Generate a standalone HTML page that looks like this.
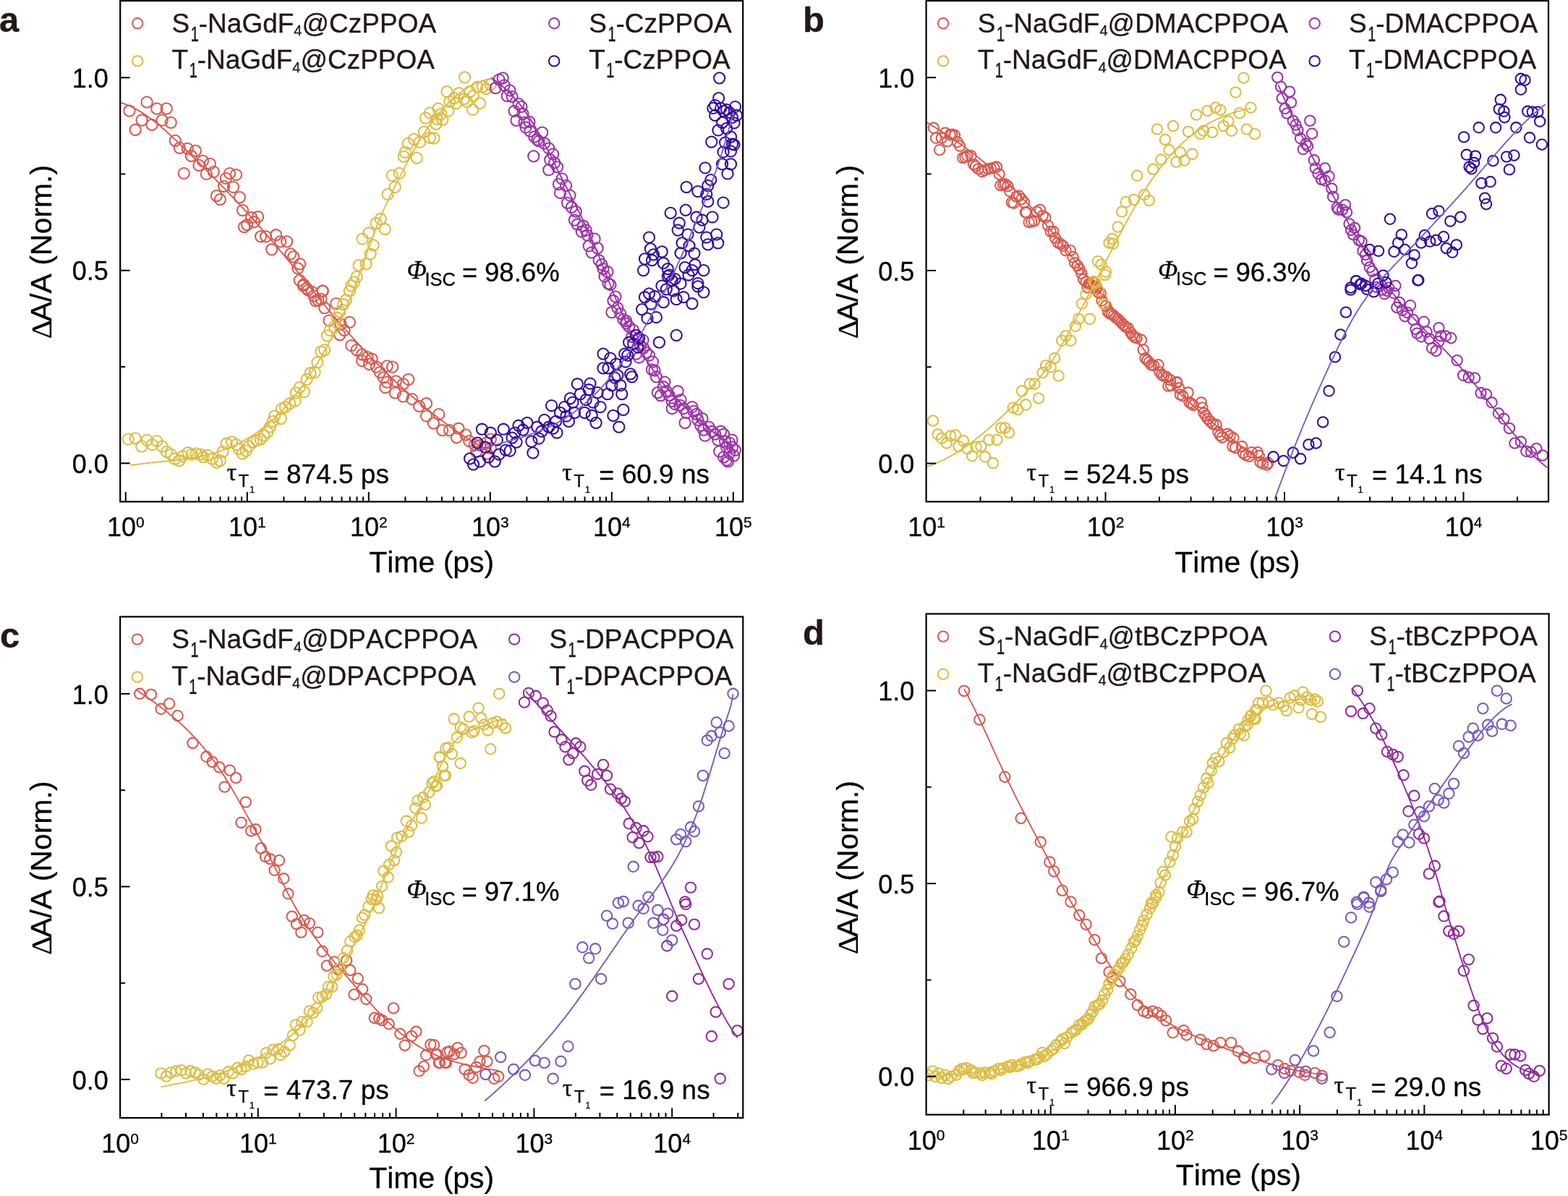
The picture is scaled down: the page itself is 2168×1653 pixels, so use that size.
<!DOCTYPE html><html><head><meta charset="utf-8"><style>html,body{margin:0;padding:0;background:#fff;overflow:hidden}svg{display:block;font-kerning:none}text{stroke:#161010;stroke-width:0.3px}</style></head><body>
<svg xmlns="http://www.w3.org/2000/svg" width="2168" height="1653" viewBox="0 0 2168 1653" style="font-family:&quot;Liberation Sans&quot;,Arial,sans-serif">
<rect width="2168" height="1653" fill="#fff"/>
<g clip-path="url(#clipa)">
<clipPath id="clipa"><rect x="166.2" y="1.1" width="861.0" height="692.3"/></clipPath>
<g stroke="#D65B50" stroke-width="2.05" fill="none">
<circle cx="179.0" cy="153.2" r="7.6"/>
<circle cx="187.1" cy="179.3" r="7.6"/>
<circle cx="196.1" cy="166.2" r="7.6"/>
<circle cx="203.1" cy="141.2" r="7.6"/>
<circle cx="210.1" cy="172.3" r="7.6"/>
<circle cx="216.8" cy="150.2" r="7.6"/>
<circle cx="224.2" cy="166.2" r="7.6"/>
<circle cx="230.2" cy="150.2" r="7.6"/>
<circle cx="236.2" cy="169.3" r="7.6"/>
<circle cx="242.2" cy="194.3" r="7.6"/>
<circle cx="248.3" cy="204.4" r="7.6"/>
<circle cx="259.3" cy="205.4" r="7.6"/>
<circle cx="264.3" cy="215.4" r="7.6"/>
<circle cx="270.3" cy="208.4" r="7.6"/>
<circle cx="275.0" cy="228.4" r="7.6"/>
<circle cx="280.4" cy="222.4" r="7.6"/>
<circle cx="285.4" cy="240.5" r="7.6"/>
<circle cx="290.4" cy="226.4" r="7.6"/>
<circle cx="295.4" cy="237.5" r="7.6"/>
<circle cx="254.3" cy="239.5" r="7.6"/>
<circle cx="309.5" cy="257.5" r="7.6"/>
<circle cx="312.5" cy="246.5" r="7.6"/>
<circle cx="317.5" cy="239.5" r="7.6"/>
<circle cx="326.5" cy="241.5" r="7.6"/>
<circle cx="322.5" cy="258.5" r="7.6"/>
<circle cx="299.4" cy="270.6" r="7.6"/>
<circle cx="304.4" cy="275.6" r="7.6"/>
<circle cx="331.5" cy="272.6" r="7.6"/>
<circle cx="335.5" cy="290.6" r="7.6"/>
<circle cx="347.6" cy="300.7" r="7.6"/>
<circle cx="356.6" cy="299.7" r="7.6"/>
<circle cx="337.5" cy="313.7" r="7.6"/>
<circle cx="341.6" cy="310.7" r="7.6"/>
<circle cx="351.6" cy="306.7" r="7.6"/>
<circle cx="360.6" cy="326.8" r="7.6"/>
<circle cx="367.6" cy="326.8" r="7.6"/>
<circle cx="375.7" cy="344.8" r="7.6"/>
<circle cx="381.7" cy="324.7" r="7.6"/>
<circle cx="387.7" cy="333.8" r="7.6"/>
<circle cx="396.7" cy="333.8" r="7.6"/>
<circle cx="401.8" cy="350.8" r="7.6"/>
<circle cx="405.8" cy="354.8" r="7.6"/>
<circle cx="414.8" cy="364.9" r="7.6"/>
<circle cx="411.8" cy="370.9" r="7.6"/>
<circle cx="419.8" cy="393.0" r="7.6"/>
<circle cx="425.8" cy="401.0" r="7.6"/>
<circle cx="433.9" cy="409.0" r="7.6"/>
<circle cx="445.9" cy="402.0" r="7.6"/>
<circle cx="439.9" cy="415.0" r="7.6"/>
<circle cx="414.3" cy="387.4" r="7.6"/>
<circle cx="419.2" cy="394.8" r="7.6"/>
<circle cx="424.1" cy="398.5" r="7.6"/>
<circle cx="431.5" cy="403.4" r="7.6"/>
<circle cx="446.3" cy="402.2" r="7.6"/>
<circle cx="436.5" cy="415.8" r="7.6"/>
<circle cx="443.9" cy="413.3" r="7.6"/>
<circle cx="448.8" cy="425.7" r="7.6"/>
<circle cx="464.8" cy="419.5" r="7.6"/>
<circle cx="455.0" cy="443.0" r="7.6"/>
<circle cx="471.0" cy="447.9" r="7.6"/>
<circle cx="483.4" cy="445.4" r="7.6"/>
<circle cx="469.8" cy="462.7" r="7.6"/>
<circle cx="476.0" cy="456.5" r="7.6"/>
<circle cx="485.8" cy="477.5" r="7.6"/>
<circle cx="493.2" cy="483.6" r="7.6"/>
<circle cx="500.6" cy="489.8" r="7.6"/>
<circle cx="508.0" cy="493.5" r="7.6"/>
<circle cx="514.2" cy="496.0" r="7.6"/>
<circle cx="500.6" cy="498.5" r="7.6"/>
<circle cx="510.5" cy="503.4" r="7.6"/>
<circle cx="520.4" cy="507.1" r="7.6"/>
<circle cx="525.3" cy="514.5" r="7.6"/>
<circle cx="535.2" cy="505.9" r="7.6"/>
<circle cx="542.6" cy="507.1" r="7.6"/>
<circle cx="530.3" cy="521.9" r="7.6"/>
<circle cx="535.2" cy="528.1" r="7.6"/>
<circle cx="547.5" cy="526.8" r="7.6"/>
<circle cx="557.4" cy="530.5" r="7.6"/>
<circle cx="564.8" cy="524.4" r="7.6"/>
<circle cx="532.7" cy="535.5" r="7.6"/>
<circle cx="546.3" cy="542.9" r="7.6"/>
<circle cx="557.4" cy="547.8" r="7.6"/>
<circle cx="569.7" cy="551.5" r="7.6"/>
<circle cx="579.6" cy="561.4" r="7.6"/>
<circle cx="589.5" cy="557.7" r="7.6"/>
<circle cx="589.5" cy="575.0" r="7.6"/>
<circle cx="599.4" cy="584.8" r="7.6"/>
<circle cx="606.8" cy="572.5" r="7.6"/>
<circle cx="611.7" cy="594.7" r="7.6"/>
<circle cx="621.6" cy="594.7" r="7.6"/>
<circle cx="631.4" cy="604.6" r="7.6"/>
<circle cx="633.9" cy="592.2" r="7.6"/>
<circle cx="643.8" cy="600.9" r="7.6"/>
<circle cx="648.7" cy="609.5" r="7.6"/>
<circle cx="656.1" cy="614.5" r="7.6"/>
<circle cx="663.5" cy="615.7" r="7.6"/>
<circle cx="672.2" cy="612.0" r="7.6"/>
<circle cx="678.3" cy="607.1" r="7.6"/>
<circle cx="658.6" cy="624.3" r="7.6"/>
<circle cx="673.4" cy="626.8" r="7.6"/>
<circle cx="678.3" cy="619.4" r="7.6"/>
</g>
<path d="M167.0,141.9 L169.0,142.5 L171.0,143.2 L173.0,143.9 L175.0,144.6 L177.0,145.5 L179.0,146.3 L181.0,147.2 L183.0,148.2 L185.0,149.2 L187.0,150.2 L189.0,151.3 L191.0,152.4 L193.0,153.6 L195.0,154.8 L197.0,156.1 L199.0,157.4 L201.0,158.7 L203.0,160.1 L205.0,161.5 L207.0,162.9 L209.0,164.4 L211.0,165.9 L213.0,167.5 L215.0,169.0 L217.0,170.6 L219.0,172.3 L221.0,173.9 L223.0,175.6 L225.0,177.3 L227.0,179.0 L229.0,180.8 L231.0,182.6 L233.0,184.4 L235.0,186.2 L237.0,188.0 L239.0,189.9 L241.0,191.7 L243.0,193.6 L245.0,195.5 L247.0,197.4 L249.0,199.3 L251.0,201.3 L253.0,203.2 L255.0,205.1 L257.0,207.1 L259.0,209.1 L261.0,211.0 L263.0,213.0 L265.0,215.0 L267.0,217.0 L269.0,218.9 L271.0,220.9 L273.0,222.9 L275.0,224.9 L277.0,226.9 L279.0,228.9 L281.0,230.9 L283.0,232.9 L285.0,234.9 L287.0,236.9 L289.0,238.9 L291.0,240.9 L293.0,242.9 L295.0,244.9 L297.0,247.0 L299.0,249.0 L301.0,251.0 L303.0,253.1 L305.0,255.1 L307.0,257.2 L309.0,259.2 L311.0,261.3 L313.0,263.4 L315.0,265.5 L317.0,267.6 L319.0,269.6 L321.0,271.7 L323.0,273.9 L325.0,276.0 L327.0,278.1 L329.0,280.2 L331.0,282.4 L333.0,284.5 L335.0,286.7 L337.0,288.8 L339.0,291.0 L341.0,293.2 L343.0,295.4 L345.0,297.6 L347.0,299.8 L349.0,302.0 L351.0,304.3 L353.0,306.5 L355.0,308.8 L357.0,311.0 L359.0,313.3 L361.0,315.6 L363.0,317.9 L365.0,320.2 L367.0,322.5 L369.0,324.8 L371.0,327.1 L373.0,329.4 L375.0,331.8 L377.0,334.1 L379.0,336.5 L381.0,338.8 L383.0,341.2 L385.0,343.6 L387.0,346.0 L389.0,348.3 L391.0,350.7 L393.0,353.2 L395.0,355.6 L397.0,358.0 L399.0,360.4 L401.0,362.9 L403.0,365.3 L405.0,367.7 L407.0,370.2 L409.0,372.7 L411.0,375.1 L413.0,377.6 L415.0,380.1 L417.0,382.6 L419.0,385.0 L421.0,387.5 L423.0,390.0 L425.0,392.5 L427.0,395.0 L429.0,397.5 L431.0,400.0 L433.0,402.5 L435.0,405.0 L437.0,407.5 L439.0,410.0 L441.0,412.4 L443.0,414.9 L445.0,417.3 L447.0,419.7 L449.0,422.2 L451.0,424.6 L453.0,427.0 L455.0,429.3 L457.0,431.7 L459.0,434.1 L461.0,436.4 L463.0,438.8 L465.0,441.1 L467.0,443.4 L469.0,445.7 L471.0,448.0 L473.0,450.3 L475.0,452.6 L477.0,454.9 L479.0,457.1 L481.0,459.4 L483.0,461.6 L485.0,463.8 L487.0,466.1 L489.0,468.3 L491.0,470.5 L493.0,472.6 L495.0,474.8 L497.0,477.0 L499.0,479.1 L501.0,481.3 L503.0,483.4 L505.0,485.5 L507.0,487.6 L509.0,489.7 L511.0,491.8 L513.0,493.9 L515.0,495.9 L517.0,498.0 L519.0,500.0 L521.0,502.0 L523.0,504.1 L525.0,506.1 L527.0,508.1 L529.0,510.0 L531.0,512.0 L533.0,514.0 L535.0,515.9 L537.0,517.9 L539.0,519.8 L541.0,521.7 L543.0,523.6 L545.0,525.5 L547.0,527.4 L549.0,529.2 L551.0,531.1 L553.0,532.9 L555.0,534.8 L557.0,536.6 L559.0,538.4 L561.0,540.2 L563.0,542.0 L565.0,543.8 L567.0,545.5 L569.0,547.3 L571.0,549.0 L573.0,550.8 L575.0,552.5 L577.0,554.2 L579.0,555.9 L581.0,557.6 L583.0,559.2 L585.0,560.9 L587.0,562.5 L589.0,564.2 L591.0,565.8 L593.0,567.4 L595.0,569.0 L597.0,570.6 L599.0,572.1 L601.0,573.7 L603.0,575.3 L605.0,576.8 L607.0,578.3 L609.0,579.8 L611.0,581.3 L613.0,582.8 L615.0,584.3 L617.0,585.8 L619.0,587.2 L621.0,588.7 L623.0,590.1 L625.0,591.5 L627.0,592.9 L629.0,594.3 L631.0,595.7 L633.0,597.0 L635.0,598.4 L637.0,599.7 L639.0,601.1 L641.0,602.4 L643.0,603.7 L645.0,605.0 L647.0,606.2 L649.0,607.5 L651.0,608.8 L653.0,610.0 L655.0,611.2 L657.0,612.4 L659.0,613.6 L661.0,614.8 L663.0,616.0 L665.0,617.2 L667.0,618.3 L669.0,619.4 L671.0,620.6 L673.0,621.7 L675.0,622.8 L676.0,623.3" stroke="#D65B50" stroke-width="1.9" fill="none"/>
<g stroke="#DDBC42" stroke-width="2.05" fill="none">
<circle cx="177.3" cy="607.0" r="7.6"/>
<circle cx="187.2" cy="605.8" r="7.6"/>
<circle cx="195.8" cy="616.9" r="7.6"/>
<circle cx="203.3" cy="608.3" r="7.6"/>
<circle cx="210.7" cy="614.5" r="7.6"/>
<circle cx="216.8" cy="609.5" r="7.6"/>
<circle cx="224.2" cy="616.9" r="7.6"/>
<circle cx="230.4" cy="624.3" r="7.6"/>
<circle cx="236.6" cy="628.0" r="7.6"/>
<circle cx="241.5" cy="634.2" r="7.6"/>
<circle cx="247.7" cy="636.7" r="7.6"/>
<circle cx="252.6" cy="630.5" r="7.6"/>
<circle cx="260.0" cy="625.6" r="7.6"/>
<circle cx="265.0" cy="628.0" r="7.6"/>
<circle cx="271.1" cy="626.8" r="7.6"/>
<circle cx="277.3" cy="628.0" r="7.6"/>
<circle cx="281.0" cy="631.7" r="7.6"/>
<circle cx="287.2" cy="629.3" r="7.6"/>
<circle cx="293.3" cy="634.2" r="7.6"/>
<circle cx="299.5" cy="639.1" r="7.6"/>
<circle cx="304.4" cy="636.7" r="7.6"/>
<circle cx="308.1" cy="624.3" r="7.6"/>
<circle cx="313.1" cy="613.2" r="7.6"/>
<circle cx="320.5" cy="610.8" r="7.6"/>
<circle cx="326.6" cy="614.5" r="7.6"/>
<circle cx="330.4" cy="620.6" r="7.6"/>
<circle cx="335.3" cy="626.8" r="7.6"/>
<circle cx="340.2" cy="623.1" r="7.6"/>
<circle cx="343.9" cy="616.9" r="7.6"/>
<circle cx="350.1" cy="610.8" r="7.6"/>
<circle cx="355.0" cy="608.3" r="7.6"/>
<circle cx="360.0" cy="607.1" r="7.6"/>
<circle cx="364.9" cy="602.1" r="7.6"/>
<circle cx="369.8" cy="597.2" r="7.6"/>
<circle cx="373.5" cy="589.8" r="7.6"/>
<circle cx="377.2" cy="582.4" r="7.6"/>
<circle cx="379.7" cy="575.0" r="7.6"/>
<circle cx="388.3" cy="578.7" r="7.6"/>
<circle cx="389.6" cy="565.1" r="7.6"/>
<circle cx="394.5" cy="562.6" r="7.6"/>
<circle cx="400.7" cy="557.7" r="7.6"/>
<circle cx="408.1" cy="554.0" r="7.6"/>
<circle cx="409.3" cy="542.9" r="7.6"/>
<circle cx="414.3" cy="535.5" r="7.6"/>
<circle cx="420.4" cy="541.6" r="7.6"/>
<circle cx="424.1" cy="524.4" r="7.6"/>
<circle cx="429.1" cy="515.7" r="7.6"/>
<circle cx="435.2" cy="514.5" r="7.6"/>
<circle cx="438.9" cy="500.9" r="7.6"/>
<circle cx="443.9" cy="486.1" r="7.6"/>
<circle cx="448.8" cy="483.6" r="7.6"/>
<circle cx="452.5" cy="463.9" r="7.6"/>
<circle cx="456.2" cy="456.5" r="7.6"/>
<circle cx="462.4" cy="451.6" r="7.6"/>
<circle cx="466.1" cy="439.2" r="7.6"/>
<circle cx="469.8" cy="430.6" r="7.6"/>
<circle cx="474.7" cy="420.7" r="7.6"/>
<circle cx="478.4" cy="414.6" r="7.6"/>
<circle cx="483.4" cy="402.2" r="7.6"/>
<circle cx="485.8" cy="394.8" r="7.6"/>
<circle cx="489.5" cy="389.9" r="7.6"/>
<circle cx="493.2" cy="382.5" r="7.6"/>
<circle cx="496.1" cy="366.9" r="7.6"/>
<circle cx="506.1" cy="364.9" r="7.6"/>
<circle cx="512.1" cy="350.8" r="7.6"/>
<circle cx="516.1" cy="338.8" r="7.6"/>
<circle cx="520.1" cy="308.7" r="7.6"/>
<circle cx="526.2" cy="302.7" r="7.6"/>
<circle cx="532.2" cy="316.7" r="7.6"/>
<circle cx="536.2" cy="268.6" r="7.6"/>
<circle cx="542.2" cy="242.5" r="7.6"/>
<circle cx="546.2" cy="258.5" r="7.6"/>
<circle cx="552.2" cy="239.5" r="7.6"/>
<circle cx="558.3" cy="216.4" r="7.6"/>
<circle cx="560.3" cy="210.4" r="7.6"/>
<circle cx="564.3" cy="198.3" r="7.6"/>
<circle cx="572.3" cy="192.3" r="7.6"/>
<circle cx="576.3" cy="218.4" r="7.6"/>
<circle cx="580.3" cy="196.3" r="7.6"/>
<circle cx="586.3" cy="182.3" r="7.6"/>
<circle cx="588.4" cy="163.2" r="7.6"/>
<circle cx="594.4" cy="190.3" r="7.6"/>
<circle cx="594.4" cy="156.2" r="7.6"/>
<circle cx="501.0" cy="330.0" r="7.6"/>
<circle cx="510.0" cy="322.0" r="7.6"/>
<circle cx="642.6" cy="106.9" r="7.6"/>
<circle cx="617.9" cy="126.7" r="7.6"/>
<circle cx="634.7" cy="128.7" r="7.6"/>
<circle cx="627.8" cy="135.6" r="7.6"/>
<circle cx="630.7" cy="142.6" r="7.6"/>
<circle cx="641.6" cy="136.6" r="7.6"/>
<circle cx="649.6" cy="126.7" r="7.6"/>
<circle cx="654.5" cy="132.6" r="7.6"/>
<circle cx="645.6" cy="140.6" r="7.6"/>
<circle cx="663.5" cy="142.6" r="7.6"/>
<circle cx="653.6" cy="151.5" r="7.6"/>
<circle cx="667.4" cy="119.8" r="7.6"/>
<circle cx="672.4" cy="122.7" r="7.6"/>
<circle cx="678.3" cy="116.8" r="7.6"/>
<circle cx="621.8" cy="140.6" r="7.6"/>
<circle cx="619.8" cy="153.5" r="7.6"/>
<circle cx="609.9" cy="157.4" r="7.6"/>
<circle cx="604.0" cy="164.4" r="7.6"/>
<circle cx="603.0" cy="171.3" r="7.6"/>
<circle cx="600.0" cy="191.2" r="7.6"/>
<circle cx="611.9" cy="165.4" r="7.6"/>
<circle cx="660.0" cy="120.0" r="7.6"/>
<circle cx="606.0" cy="150.0" r="7.6"/>
</g>
<path d="M180.0,643.1 L182.0,642.8 L184.0,642.5 L186.0,642.2 L188.0,641.9 L190.0,641.7 L192.0,641.4 L194.0,641.2 L196.0,640.9 L198.0,640.7 L200.0,640.5 L202.0,640.2 L204.0,640.0 L206.0,639.8 L208.0,639.6 L210.0,639.4 L212.0,639.2 L214.0,639.0 L216.0,638.8 L218.0,638.6 L220.0,638.4 L222.0,638.2 L224.0,638.0 L226.0,637.8 L228.0,637.6 L230.0,637.4 L232.0,637.1 L234.0,636.9 L236.0,636.7 L238.0,636.5 L240.0,636.3 L242.0,636.1 L244.0,635.8 L246.0,635.6 L248.0,635.3 L250.0,635.1 L252.0,634.8 L254.0,634.6 L256.0,634.3 L258.0,634.0 L260.0,633.7 L262.0,633.4 L264.0,633.1 L266.0,632.7 L268.0,632.4 L270.0,632.0 L272.0,631.7 L274.0,631.3 L276.0,630.9 L278.0,630.5 L280.0,630.0 L282.0,629.6 L284.0,629.1 L286.0,628.7 L288.0,628.2 L290.0,627.7 L292.0,627.1 L294.0,626.6 L296.0,626.0 L298.0,625.4 L300.0,624.8 L302.0,624.2 L304.0,623.5 L306.0,622.9 L308.0,622.2 L310.0,621.4 L312.0,620.7 L314.0,619.9 L316.0,619.1 L318.0,618.3 L320.0,617.5 L322.0,616.6 L324.0,615.7 L326.0,614.8 L328.0,613.8 L330.0,612.8 L332.0,611.8 L334.0,610.8 L336.0,609.7 L338.0,608.6 L340.0,607.5 L342.0,606.3 L344.0,605.1 L346.0,603.9 L348.0,602.6 L350.0,601.3 L352.0,600.0 L354.0,598.6 L356.0,597.2 L358.0,595.8 L360.0,594.3 L362.0,592.8 L364.0,591.2 L366.0,589.6 L368.0,588.0 L370.0,586.3 L372.0,584.6 L374.0,582.9 L376.0,581.1 L378.0,579.3 L380.0,577.4 L382.0,575.5 L384.0,573.5 L386.0,571.5 L388.0,569.5 L390.0,567.4 L392.0,565.2 L394.0,563.1 L396.0,560.8 L398.0,558.5 L400.0,556.2 L402.0,553.9 L404.0,551.4 L406.0,549.0 L408.0,546.5 L410.0,543.9 L412.0,541.3 L414.0,538.6 L416.0,535.9 L418.0,533.2 L420.0,530.4 L422.0,527.5 L424.0,524.6 L426.0,521.7 L428.0,518.7 L430.0,515.7 L432.0,512.6 L434.0,509.5 L436.0,506.3 L438.0,503.1 L440.0,499.8 L442.0,496.5 L444.0,493.1 L446.0,489.7 L448.0,486.2 L450.0,482.7 L452.0,479.2 L454.0,475.6 L456.0,471.9 L458.0,468.2 L460.0,464.4 L462.0,460.5 L464.0,456.6 L466.0,452.6 L468.0,448.5 L470.0,444.3 L472.0,440.1 L474.0,435.7 L476.0,431.3 L478.0,426.7 L480.0,422.1 L482.0,417.3 L484.0,412.5 L486.0,407.5 L488.0,402.4 L490.0,397.2 L492.0,391.9 L494.0,386.5 L496.0,381.1 L498.0,375.6 L500.0,370.0 L502.0,364.5 L504.0,358.9 L506.0,353.3 L508.0,347.7 L510.0,342.2 L512.0,336.7 L514.0,331.3 L516.0,325.9 L518.0,320.6 L520.0,315.4 L522.0,310.3 L524.0,305.3 L526.0,300.4 L528.0,295.7 L530.0,291.1 L532.0,286.7 L534.0,282.3 L536.0,278.1 L538.0,273.9 L540.0,269.8 L542.0,265.7 L544.0,261.7 L546.0,257.7 L548.0,253.7 L550.0,249.8 L552.0,245.9 L554.0,241.9 L556.0,238.1 L558.0,234.2 L560.0,230.4 L562.0,226.6 L564.0,222.9 L566.0,219.2 L568.0,215.5 L570.0,211.9 L572.0,208.3 L574.0,204.8 L576.0,201.4 L578.0,198.0 L580.0,194.6 L582.0,191.3 L584.0,188.1 L586.0,185.0 L588.0,181.9 L590.0,178.9 L592.0,176.0 L594.0,173.1 L596.0,170.3 L598.0,167.6 L600.0,165.0 L602.0,162.4 L604.0,159.9 L606.0,157.4 L608.0,155.0 L610.0,152.7 L612.0,150.5 L614.0,148.3 L616.0,146.1 L618.0,144.1 L620.0,142.1 L622.0,140.1 L624.0,138.3 L626.0,136.5 L628.0,134.7 L630.0,133.0 L632.0,131.4 L634.0,129.8 L636.0,128.3 L638.0,126.8 L640.0,125.4 L642.0,124.1 L644.0,122.8 L646.0,121.5 L648.0,120.3 L650.0,119.2 L652.0,118.1 L654.0,117.1 L656.0,116.1 L658.0,115.2 L660.0,114.3 L662.0,113.5 L664.0,112.8 L666.0,112.0 L668.0,111.4 L670.0,110.8 L672.0,110.2 L674.0,109.7 L676.0,109.2 L678.0,108.8 L680.0,108.4" stroke="#DDBC42" stroke-width="1.9" fill="none"/>
<g stroke="#9A35A8" stroke-width="2.05" fill="none">
<circle cx="695.2" cy="107.8" r="7.6"/>
<circle cx="697.2" cy="117.8" r="7.6"/>
<circle cx="685.3" cy="121.7" r="7.6"/>
<circle cx="701.2" cy="132.6" r="7.6"/>
<circle cx="708.1" cy="133.6" r="7.6"/>
<circle cx="717.0" cy="143.6" r="7.6"/>
<circle cx="721.0" cy="147.5" r="7.6"/>
<circle cx="711.1" cy="153.5" r="7.6"/>
<circle cx="723.0" cy="157.4" r="7.6"/>
<circle cx="714.0" cy="166.4" r="7.6"/>
<circle cx="725.0" cy="169.3" r="7.6"/>
<circle cx="731.9" cy="168.3" r="7.6"/>
<circle cx="732.9" cy="181.2" r="7.6"/>
<circle cx="738.8" cy="189.2" r="7.6"/>
<circle cx="749.7" cy="183.2" r="7.6"/>
<circle cx="742.8" cy="193.1" r="7.6"/>
<circle cx="752.7" cy="198.1" r="7.6"/>
<circle cx="758.7" cy="205.0" r="7.6"/>
<circle cx="764.6" cy="213.0" r="7.6"/>
<circle cx="760.7" cy="220.9" r="7.6"/>
<circle cx="766.6" cy="224.9" r="7.6"/>
<circle cx="770.6" cy="230.8" r="7.6"/>
<circle cx="758.7" cy="234.8" r="7.6"/>
<circle cx="737.8" cy="215.9" r="7.6"/>
<circle cx="772.5" cy="254.6" r="7.6"/>
<circle cx="782.5" cy="256.6" r="7.6"/>
<circle cx="774.5" cy="266.5" r="7.6"/>
<circle cx="784.5" cy="280.4" r="7.6"/>
<circle cx="790.4" cy="286.3" r="7.6"/>
<circle cx="796.3" cy="292.3" r="7.6"/>
<circle cx="794.4" cy="304.2" r="7.6"/>
<circle cx="798.3" cy="310.2" r="7.6"/>
<circle cx="806.3" cy="312.1" r="7.6"/>
<circle cx="810.2" cy="318.1" r="7.6"/>
<circle cx="804.3" cy="320.1" r="7.6"/>
<circle cx="822.1" cy="330.0" r="7.6"/>
<circle cx="814.2" cy="339.9" r="7.6"/>
<circle cx="826.1" cy="342.9" r="7.6"/>
<circle cx="818.2" cy="348.8" r="7.6"/>
<circle cx="828.1" cy="359.7" r="7.6"/>
<circle cx="832.0" cy="365.7" r="7.6"/>
<circle cx="834.0" cy="371.6" r="7.6"/>
<circle cx="840.0" cy="375.6" r="7.6"/>
<circle cx="844.0" cy="393.5" r="7.6"/>
<circle cx="841.0" cy="391.9" r="7.6"/>
<circle cx="847.9" cy="415.7" r="7.6"/>
<circle cx="845.9" cy="431.6" r="7.6"/>
<circle cx="853.9" cy="425.6" r="7.6"/>
<circle cx="857.8" cy="433.5" r="7.6"/>
<circle cx="861.8" cy="441.5" r="7.6"/>
<circle cx="865.8" cy="443.5" r="7.6"/>
<circle cx="869.7" cy="451.4" r="7.6"/>
<circle cx="875.7" cy="456.4" r="7.6"/>
<circle cx="873.7" cy="465.3" r="7.6"/>
<circle cx="881.6" cy="469.2" r="7.6"/>
<circle cx="885.6" cy="478.2" r="7.6"/>
<circle cx="889.6" cy="481.1" r="7.6"/>
<circle cx="879.6" cy="489.1" r="7.6"/>
<circle cx="883.6" cy="494.0" r="7.6"/>
<circle cx="893.5" cy="487.1" r="7.6"/>
<circle cx="897.5" cy="491.1" r="7.6"/>
<circle cx="902.5" cy="500.0" r="7.6"/>
<circle cx="901.5" cy="510.9" r="7.6"/>
<circle cx="907.4" cy="520.8" r="7.6"/>
<circle cx="909.4" cy="542.6" r="7.6"/>
<circle cx="913.4" cy="546.6" r="7.6"/>
<circle cx="917.3" cy="534.7" r="7.6"/>
<circle cx="921.3" cy="540.7" r="7.6"/>
<circle cx="925.3" cy="546.6" r="7.6"/>
<circle cx="937.2" cy="540.7" r="7.6"/>
<circle cx="929.2" cy="554.5" r="7.6"/>
<circle cx="933.2" cy="558.5" r="7.6"/>
<circle cx="941.1" cy="552.5" r="7.6"/>
<circle cx="929.2" cy="564.5" r="7.6"/>
<circle cx="945.1" cy="564.5" r="7.6"/>
<circle cx="949.1" cy="570.4" r="7.6"/>
<circle cx="957.0" cy="562.5" r="7.6"/>
<circle cx="959.0" cy="568.4" r="7.6"/>
<circle cx="963.0" cy="572.4" r="7.6"/>
<circle cx="947.1" cy="584.3" r="7.6"/>
<circle cx="964.9" cy="580.3" r="7.6"/>
<circle cx="970.9" cy="578.3" r="7.6"/>
<circle cx="968.9" cy="588.2" r="7.6"/>
<circle cx="972.9" cy="594.2" r="7.6"/>
<circle cx="974.8" cy="602.1" r="7.6"/>
<circle cx="984.8" cy="596.2" r="7.6"/>
<circle cx="988.7" cy="600.2" r="7.6"/>
<circle cx="992.7" cy="608.1" r="7.6"/>
<circle cx="996.7" cy="596.2" r="7.6"/>
<circle cx="1000.6" cy="600.2" r="7.6"/>
<circle cx="1002.6" cy="610.1" r="7.6"/>
<circle cx="994.7" cy="624.0" r="7.6"/>
<circle cx="1004.6" cy="618.0" r="7.6"/>
<circle cx="1008.6" cy="612.0" r="7.6"/>
<circle cx="1008.6" cy="626.0" r="7.6"/>
<circle cx="1012.5" cy="618.0" r="7.6"/>
<circle cx="1016.5" cy="622.0" r="7.6"/>
<circle cx="1000.6" cy="631.9" r="7.6"/>
<circle cx="1006.6" cy="637.8" r="7.6"/>
<circle cx="1014.5" cy="629.9" r="7.6"/>
<circle cx="1004.6" cy="635.9" r="7.6"/>
<circle cx="690.0" cy="110.0" r="7.6"/>
<circle cx="705.0" cy="125.0" r="7.6"/>
<circle cx="727.0" cy="176.0" r="7.6"/>
<circle cx="745.0" cy="195.0" r="7.6"/>
<circle cx="777.0" cy="247.0" r="7.6"/>
<circle cx="788.0" cy="270.0" r="7.6"/>
<circle cx="812.0" cy="325.0" r="7.6"/>
<circle cx="836.0" cy="382.0" r="7.6"/>
<circle cx="851.0" cy="410.0" r="7.6"/>
<circle cx="866.0" cy="447.0" r="7.6"/>
<circle cx="889.0" cy="470.0" r="7.6"/>
<circle cx="905.0" cy="512.0" r="7.6"/>
<circle cx="919.0" cy="528.0" r="7.6"/>
<circle cx="940.0" cy="560.0" r="7.6"/>
<circle cx="980.0" cy="590.0" r="7.6"/>
<circle cx="1012.0" cy="608.0" r="7.6"/>
</g>
<path d="M679.0,107.2 L681.0,108.5 L683.0,109.9 L685.0,111.4 L687.0,112.9 L689.0,114.4 L691.0,116.0 L693.0,117.7 L695.0,119.4 L697.0,121.1 L699.0,123.0 L701.0,124.8 L703.0,126.8 L705.0,128.8 L707.0,130.8 L709.0,133.0 L711.0,135.2 L713.0,137.4 L715.0,139.8 L717.0,142.2 L719.0,144.7 L721.0,147.2 L723.0,149.8 L725.0,152.5 L727.0,155.3 L729.0,158.2 L731.0,161.2 L733.0,164.2 L735.0,167.3 L737.0,170.5 L739.0,173.8 L741.0,177.2 L743.0,180.7 L745.0,184.2 L747.0,187.9 L749.0,191.6 L751.0,195.3 L753.0,199.1 L755.0,203.0 L757.0,206.9 L759.0,210.8 L761.0,214.8 L763.0,218.7 L765.0,222.7 L767.0,226.7 L769.0,230.8 L771.0,234.8 L773.0,238.8 L775.0,242.8 L777.0,246.7 L779.0,250.7 L781.0,254.6 L783.0,258.5 L785.0,262.4 L787.0,266.3 L789.0,270.2 L791.0,274.0 L793.0,277.9 L795.0,281.8 L797.0,285.8 L799.0,289.7 L801.0,293.7 L803.0,297.8 L805.0,301.9 L807.0,306.0 L809.0,310.2 L811.0,314.5 L813.0,318.8 L815.0,323.3 L817.0,327.8 L819.0,332.4 L821.0,337.0 L823.0,341.8 L825.0,346.6 L827.0,351.5 L829.0,356.5 L831.0,361.5 L833.0,366.5 L835.0,371.6 L837.0,376.6 L839.0,381.7 L841.0,386.8 L843.0,391.8 L845.0,396.9 L847.0,401.9 L849.0,406.8 L851.0,411.7 L853.0,416.6 L855.0,421.4 L857.0,426.1 L859.0,430.7 L861.0,435.2 L863.0,439.7 L865.0,444.0 L867.0,448.3 L869.0,452.4 L871.0,456.5 L873.0,460.5 L875.0,464.4 L877.0,468.3 L879.0,472.0 L881.0,475.7 L883.0,479.3 L885.0,482.8 L887.0,486.3 L889.0,489.7 L891.0,493.0 L893.0,496.2 L895.0,499.4 L897.0,502.5 L899.0,505.5 L901.0,508.5 L903.0,511.4 L905.0,514.3 L907.0,517.1 L909.0,519.8 L911.0,522.5 L913.0,525.1 L915.0,527.7 L917.0,530.2 L919.0,532.7 L921.0,535.1 L923.0,537.5 L925.0,539.8 L927.0,542.1 L929.0,544.3 L931.0,546.5 L933.0,548.7 L935.0,550.8 L937.0,552.9 L939.0,555.0 L941.0,557.0 L943.0,559.0 L945.0,561.0 L947.0,562.9 L949.0,564.8 L951.0,566.7 L953.0,568.5 L955.0,570.4 L957.0,572.2 L959.0,574.0 L961.0,575.7 L963.0,577.5 L965.0,579.2 L967.0,580.9 L969.0,582.7 L971.0,584.4 L973.0,586.1 L975.0,587.7 L977.0,589.4 L979.0,591.1 L981.0,592.8 L983.0,594.4 L985.0,596.1 L987.0,597.8 L989.0,599.5 L991.0,601.1 L993.0,602.8 L995.0,604.5 L997.0,606.2 L999.0,607.9 L1001.0,609.7 L1003.0,611.4 L1005.0,613.1 L1007.0,614.9 L1009.0,616.7 L1011.0,618.5 L1013.0,620.3 L1015.0,622.2 L1017.0,624.0" stroke="#9A35A8" stroke-width="1.9" fill="none"/>
<g stroke="#330C9C" stroke-width="2.05" fill="none">
<circle cx="649.6" cy="633.9" r="7.6"/>
<circle cx="654.5" cy="641.8" r="7.6"/>
<circle cx="663.5" cy="637.8" r="7.6"/>
<circle cx="666.4" cy="593.2" r="7.6"/>
<circle cx="678.3" cy="598.2" r="7.6"/>
<circle cx="675.4" cy="631.9" r="7.6"/>
<circle cx="684.3" cy="637.8" r="7.6"/>
<circle cx="687.3" cy="608.1" r="7.6"/>
<circle cx="696.2" cy="593.2" r="7.6"/>
<circle cx="699.2" cy="622.0" r="7.6"/>
<circle cx="705.1" cy="623.0" r="7.6"/>
<circle cx="708.1" cy="605.1" r="7.6"/>
<circle cx="714.0" cy="611.1" r="7.6"/>
<circle cx="717.0" cy="588.2" r="7.6"/>
<circle cx="723.0" cy="594.2" r="7.6"/>
<circle cx="728.9" cy="584.3" r="7.6"/>
<circle cx="734.9" cy="610.1" r="7.6"/>
<circle cx="736.9" cy="625.9" r="7.6"/>
<circle cx="742.8" cy="590.2" r="7.6"/>
<circle cx="748.8" cy="596.2" r="7.6"/>
<circle cx="752.7" cy="580.3" r="7.6"/>
<circle cx="758.7" cy="590.2" r="7.6"/>
<circle cx="764.6" cy="592.2" r="7.6"/>
<circle cx="762.6" cy="560.5" r="7.6"/>
<circle cx="768.6" cy="582.3" r="7.6"/>
<circle cx="774.5" cy="570.4" r="7.6"/>
<circle cx="780.5" cy="562.5" r="7.6"/>
<circle cx="786.4" cy="582.3" r="7.6"/>
<circle cx="788.4" cy="550.6" r="7.6"/>
<circle cx="794.4" cy="570.4" r="7.6"/>
<circle cx="798.3" cy="530.7" r="7.6"/>
<circle cx="802.3" cy="544.6" r="7.6"/>
<circle cx="808.3" cy="570.4" r="7.6"/>
<circle cx="810.2" cy="552.5" r="7.6"/>
<circle cx="814.2" cy="538.7" r="7.6"/>
<circle cx="818.2" cy="574.4" r="7.6"/>
<circle cx="824.1" cy="584.3" r="7.6"/>
<circle cx="830.1" cy="562.5" r="7.6"/>
<circle cx="826.1" cy="542.6" r="7.6"/>
<circle cx="834.0" cy="489.1" r="7.6"/>
<circle cx="834.0" cy="508.9" r="7.6"/>
<circle cx="841.0" cy="508.9" r="7.6"/>
<circle cx="843.9" cy="495.0" r="7.6"/>
<circle cx="840.0" cy="544.6" r="7.6"/>
<circle cx="845.9" cy="532.7" r="7.6"/>
<circle cx="847.9" cy="574.4" r="7.6"/>
<circle cx="851.9" cy="503.0" r="7.6"/>
<circle cx="853.9" cy="518.8" r="7.6"/>
<circle cx="855.8" cy="590.2" r="7.6"/>
<circle cx="857.8" cy="532.7" r="7.6"/>
<circle cx="859.8" cy="544.6" r="7.6"/>
<circle cx="861.8" cy="566.4" r="7.6"/>
<circle cx="863.8" cy="489.1" r="7.6"/>
<circle cx="867.7" cy="491.1" r="7.6"/>
<circle cx="871.7" cy="516.9" r="7.6"/>
<circle cx="873.7" cy="520.8" r="7.6"/>
<circle cx="869.7" cy="473.2" r="7.6"/>
<circle cx="875.7" cy="475.2" r="7.6"/>
<circle cx="879.6" cy="463.3" r="7.6"/>
<circle cx="883.6" cy="467.3" r="7.6"/>
<circle cx="887.6" cy="427.6" r="7.6"/>
<circle cx="891.5" cy="410.7" r="7.6"/>
<circle cx="897.5" cy="405.8" r="7.6"/>
<circle cx="905.4" cy="409.7" r="7.6"/>
<circle cx="907.4" cy="438.5" r="7.6"/>
<circle cx="911.4" cy="473.2" r="7.6"/>
<circle cx="917.3" cy="417.7" r="7.6"/>
<circle cx="921.3" cy="399.8" r="7.6"/>
<circle cx="929.2" cy="387.9" r="7.6"/>
<circle cx="931.2" cy="401.8" r="7.6"/>
<circle cx="935.2" cy="413.7" r="7.6"/>
<circle cx="935.2" cy="463.3" r="7.6"/>
<circle cx="945.1" cy="410.7" r="7.6"/>
<circle cx="957.0" cy="419.7" r="7.6"/>
<circle cx="964.9" cy="395.9" r="7.6"/>
<circle cx="972.9" cy="403.8" r="7.6"/>
<circle cx="925.3" cy="380.0" r="7.6"/>
<circle cx="994.7" cy="107.8" r="7.6"/>
<circle cx="993.7" cy="135.6" r="7.6"/>
<circle cx="988.7" cy="145.5" r="7.6"/>
<circle cx="996.7" cy="149.5" r="7.6"/>
<circle cx="985.8" cy="149.5" r="7.6"/>
<circle cx="1004.6" cy="151.5" r="7.6"/>
<circle cx="1016.5" cy="147.5" r="7.6"/>
<circle cx="988.7" cy="159.4" r="7.6"/>
<circle cx="1000.6" cy="153.5" r="7.6"/>
<circle cx="1008.6" cy="155.5" r="7.6"/>
<circle cx="1018.5" cy="159.4" r="7.6"/>
<circle cx="1012.5" cy="162.4" r="7.6"/>
<circle cx="998.6" cy="169.3" r="7.6"/>
<circle cx="1004.6" cy="177.3" r="7.6"/>
<circle cx="983.8" cy="196.1" r="7.6"/>
<circle cx="1010.5" cy="189.2" r="7.6"/>
<circle cx="1002.6" cy="197.1" r="7.6"/>
<circle cx="1012.5" cy="199.1" r="7.6"/>
<circle cx="1010.5" cy="209.0" r="7.6"/>
<circle cx="998.6" cy="226.9" r="7.6"/>
<circle cx="1010.5" cy="226.9" r="7.6"/>
<circle cx="982.8" cy="248.7" r="7.6"/>
<circle cx="978.8" cy="256.6" r="7.6"/>
<circle cx="949.1" cy="258.6" r="7.6"/>
<circle cx="964.9" cy="264.5" r="7.6"/>
<circle cx="976.8" cy="268.5" r="7.6"/>
<circle cx="978.8" cy="278.4" r="7.6"/>
<circle cx="927.2" cy="294.3" r="7.6"/>
<circle cx="948.1" cy="290.3" r="7.6"/>
<circle cx="963.0" cy="300.2" r="7.6"/>
<circle cx="970.9" cy="304.2" r="7.6"/>
<circle cx="939.2" cy="308.2" r="7.6"/>
<circle cx="937.2" cy="318.1" r="7.6"/>
<circle cx="951.1" cy="324.0" r="7.6"/>
<circle cx="966.9" cy="314.1" r="7.6"/>
<circle cx="976.8" cy="328.0" r="7.6"/>
<circle cx="990.7" cy="324.0" r="7.6"/>
<circle cx="992.7" cy="335.9" r="7.6"/>
<circle cx="978.8" cy="337.9" r="7.6"/>
<circle cx="897.5" cy="328.0" r="7.6"/>
<circle cx="899.5" cy="343.9" r="7.6"/>
<circle cx="915.3" cy="347.8" r="7.6"/>
<circle cx="903.5" cy="351.8" r="7.6"/>
<circle cx="943.1" cy="335.9" r="7.6"/>
<circle cx="953.0" cy="339.9" r="7.6"/>
<circle cx="941.1" cy="349.8" r="7.6"/>
<circle cx="891.5" cy="357.8" r="7.6"/>
<circle cx="901.5" cy="359.7" r="7.6"/>
<circle cx="917.3" cy="363.7" r="7.6"/>
<circle cx="923.3" cy="371.6" r="7.6"/>
<circle cx="889.6" cy="373.6" r="7.6"/>
<circle cx="947.1" cy="369.6" r="7.6"/>
<circle cx="961.0" cy="365.7" r="7.6"/>
<circle cx="972.9" cy="373.6" r="7.6"/>
<circle cx="957.0" cy="373.6" r="7.6"/>
<circle cx="964.9" cy="391.5" r="7.6"/>
<circle cx="933.2" cy="385.5" r="7.6"/>
<circle cx="923.3" cy="381.5" r="7.6"/>
<circle cx="660.0" cy="612.0" r="7.6"/>
<circle cx="671.0" cy="618.0" r="7.6"/>
<circle cx="690.0" cy="628.0" r="7.6"/>
<circle cx="712.0" cy="598.0" r="7.6"/>
<circle cx="745.0" cy="606.0" r="7.6"/>
<circle cx="770.0" cy="598.0" r="7.6"/>
<circle cx="783.0" cy="575.0" r="7.6"/>
<circle cx="792.0" cy="556.0" r="7.6"/>
<circle cx="820.0" cy="556.0" r="7.6"/>
<circle cx="816.0" cy="530.0" r="7.6"/>
<circle cx="850.0" cy="522.0" r="7.6"/>
<circle cx="865.0" cy="500.0" r="7.6"/>
<circle cx="882.0" cy="480.0" r="7.6"/>
<circle cx="895.0" cy="440.0" r="7.6"/>
<circle cx="900.0" cy="420.0" r="7.6"/>
<circle cx="915.0" cy="395.0" r="7.6"/>
<circle cx="941.0" cy="392.0" r="7.6"/>
<circle cx="952.0" cy="380.0" r="7.6"/>
<circle cx="960.0" cy="350.0" r="7.6"/>
<circle cx="985.0" cy="300.0" r="7.6"/>
<circle cx="1000.0" cy="280.0" r="7.6"/>
<circle cx="1006.0" cy="240.0" r="7.6"/>
<circle cx="1015.0" cy="200.0" r="7.6"/>
<circle cx="1000.0" cy="210.0" r="7.6"/>
<circle cx="975.0" cy="232.0" r="7.6"/>
<circle cx="1015.0" cy="170.0" r="7.6"/>
<circle cx="993.0" cy="180.0" r="7.6"/>
</g>
<path d="M652.0,624.3 L654.0,623.7 L656.0,623.0 L658.0,622.4 L660.0,621.8 L662.0,621.2 L664.0,620.6 L666.0,620.0 L668.0,619.4 L670.0,618.8 L672.0,618.2 L674.0,617.7 L676.0,617.1 L678.0,616.6 L680.0,616.0 L682.0,615.5 L684.0,614.9 L686.0,614.4 L688.0,613.9 L690.0,613.3 L692.0,612.8 L694.0,612.2 L696.0,611.7 L698.0,611.2 L700.0,610.6 L702.0,610.1 L704.0,609.5 L706.0,609.0 L708.0,608.4 L710.0,607.8 L712.0,607.3 L714.0,606.7 L716.0,606.1 L718.0,605.5 L720.0,604.9 L722.0,604.3 L724.0,603.6 L726.0,603.0 L728.0,602.3 L730.0,601.7 L732.0,601.0 L734.0,600.3 L736.0,599.6 L738.0,598.8 L740.0,598.1 L742.0,597.3 L744.0,596.6 L746.0,595.8 L748.0,595.0 L750.0,594.1 L752.0,593.3 L754.0,592.4 L756.0,591.5 L758.0,590.6 L760.0,589.6 L762.0,588.7 L764.0,587.7 L766.0,586.7 L768.0,585.6 L770.0,584.6 L772.0,583.5 L774.0,582.3 L776.0,581.2 L778.0,580.0 L780.0,578.8 L782.0,577.6 L784.0,576.3 L786.0,575.0 L788.0,573.7 L790.0,572.3 L792.0,570.9 L794.0,569.5 L796.0,568.0 L798.0,566.5 L800.0,564.9 L802.0,563.4 L804.0,561.7 L806.0,560.1 L808.0,558.4 L810.0,556.7 L812.0,554.9 L814.0,553.1 L816.0,551.3 L818.0,549.4 L820.0,547.5 L822.0,545.5 L824.0,543.5 L826.0,541.5 L828.0,539.4 L830.0,537.3 L832.0,535.1 L834.0,532.9 L836.0,530.7 L838.0,528.4 L840.0,526.1 L842.0,523.8 L844.0,521.4 L846.0,518.9 L848.0,516.5 L850.0,514.0 L852.0,511.4 L854.0,508.8 L856.0,506.2 L858.0,503.5 L860.0,500.7 L862.0,498.0 L864.0,495.2 L866.0,492.3 L868.0,489.4 L870.0,486.5 L872.0,483.5 L874.0,480.5 L876.0,477.4 L878.0,474.3 L880.0,471.1 L882.0,467.9 L884.0,464.7 L886.0,461.4 L888.0,458.1 L890.0,454.7 L892.0,451.3 L894.0,447.9 L896.0,444.4 L898.0,440.9 L900.0,437.3 L902.0,433.7 L904.0,430.1 L906.0,426.5 L908.0,422.9 L910.0,419.2 L912.0,415.5 L914.0,411.8 L916.0,408.0 L918.0,404.3 L920.0,400.4 L922.0,396.5 L924.0,392.6 L926.0,388.6 L928.0,384.6 L930.0,380.4 L932.0,376.2 L934.0,372.0 L936.0,367.6 L938.0,363.2 L940.0,358.8 L942.0,354.3 L944.0,349.8 L946.0,345.2 L948.0,340.6 L950.0,336.0 L952.0,331.3 L954.0,326.7 L956.0,322.0 L958.0,317.3 L960.0,312.6 L962.0,307.9 L964.0,303.1 L966.0,298.3 L968.0,293.5 L970.0,288.6 L972.0,283.7 L974.0,278.7 L976.0,273.7 L978.0,268.5 L980.0,263.3 L982.0,258.0 L984.0,252.6 L986.0,247.1 L988.0,241.5 L990.0,235.8 L992.0,229.9 L994.0,223.9 L996.0,217.8 L998.0,211.5 L1000.0,205.1 L1002.0,198.5 L1004.0,191.7 L1006.0,184.8 L1008.0,177.7 L1010.0,170.4 L1012.0,162.9 L1014.0,155.1" stroke="#7A5CCC" stroke-width="1.9" fill="none"/>
</g>
<rect x="166.2" y="1.1" width="861.0" height="692.3" fill="none" stroke="#000" stroke-width="2.2"/>
<line x1="166.2" y1="640.3" x2="179.7" y2="640.3" stroke="#000" stroke-width="2"/>
<text x="149.8" y="653.9" font-size="36" text-anchor="end" fill="#000" >0.0</text>
<line x1="166.2" y1="507.0" x2="173.2" y2="507.0" stroke="#000" stroke-width="2"/>
<line x1="166.2" y1="373.8" x2="179.7" y2="373.8" stroke="#000" stroke-width="2"/>
<text x="149.8" y="387.4" font-size="36" text-anchor="end" fill="#000" >0.5</text>
<line x1="166.2" y1="240.5" x2="173.2" y2="240.5" stroke="#000" stroke-width="2"/>
<line x1="166.2" y1="107.3" x2="179.7" y2="107.3" stroke="#000" stroke-width="2"/>
<text x="149.8" y="120.9" font-size="36" text-anchor="end" fill="#000" >1.0</text>
<line x1="173.8" y1="693.4" x2="173.8" y2="679.9" stroke="#000" stroke-width="2"/>
<line x1="224.4" y1="693.4" x2="224.4" y2="686.4" stroke="#000" stroke-width="2"/>
<line x1="254.0" y1="693.4" x2="254.0" y2="686.4" stroke="#000" stroke-width="2"/>
<line x1="274.9" y1="693.4" x2="274.9" y2="686.4" stroke="#000" stroke-width="2"/>
<line x1="291.2" y1="693.4" x2="291.2" y2="686.4" stroke="#000" stroke-width="2"/>
<line x1="304.5" y1="693.4" x2="304.5" y2="686.4" stroke="#000" stroke-width="2"/>
<line x1="315.8" y1="693.4" x2="315.8" y2="686.4" stroke="#000" stroke-width="2"/>
<line x1="325.5" y1="693.4" x2="325.5" y2="686.4" stroke="#000" stroke-width="2"/>
<line x1="334.1" y1="693.4" x2="334.1" y2="686.4" stroke="#000" stroke-width="2"/>
<text x="173.8" y="741.4" font-size="36" text-anchor="middle">10<tspan dy="-12.2" font-size="21">0</tspan></text>
<line x1="341.8" y1="693.4" x2="341.8" y2="679.9" stroke="#000" stroke-width="2"/>
<line x1="392.4" y1="693.4" x2="392.4" y2="686.4" stroke="#000" stroke-width="2"/>
<line x1="422.0" y1="693.4" x2="422.0" y2="686.4" stroke="#000" stroke-width="2"/>
<line x1="442.9" y1="693.4" x2="442.9" y2="686.4" stroke="#000" stroke-width="2"/>
<line x1="459.2" y1="693.4" x2="459.2" y2="686.4" stroke="#000" stroke-width="2"/>
<line x1="472.5" y1="693.4" x2="472.5" y2="686.4" stroke="#000" stroke-width="2"/>
<line x1="483.8" y1="693.4" x2="483.8" y2="686.4" stroke="#000" stroke-width="2"/>
<line x1="493.5" y1="693.4" x2="493.5" y2="686.4" stroke="#000" stroke-width="2"/>
<line x1="502.1" y1="693.4" x2="502.1" y2="686.4" stroke="#000" stroke-width="2"/>
<text x="341.8" y="741.4" font-size="36" text-anchor="middle">10<tspan dy="-12.2" font-size="21">1</tspan></text>
<line x1="509.8" y1="693.4" x2="509.8" y2="679.9" stroke="#000" stroke-width="2"/>
<line x1="560.4" y1="693.4" x2="560.4" y2="686.4" stroke="#000" stroke-width="2"/>
<line x1="590.0" y1="693.4" x2="590.0" y2="686.4" stroke="#000" stroke-width="2"/>
<line x1="610.9" y1="693.4" x2="610.9" y2="686.4" stroke="#000" stroke-width="2"/>
<line x1="627.2" y1="693.4" x2="627.2" y2="686.4" stroke="#000" stroke-width="2"/>
<line x1="640.5" y1="693.4" x2="640.5" y2="686.4" stroke="#000" stroke-width="2"/>
<line x1="651.8" y1="693.4" x2="651.8" y2="686.4" stroke="#000" stroke-width="2"/>
<line x1="661.5" y1="693.4" x2="661.5" y2="686.4" stroke="#000" stroke-width="2"/>
<line x1="670.1" y1="693.4" x2="670.1" y2="686.4" stroke="#000" stroke-width="2"/>
<text x="509.8" y="741.4" font-size="36" text-anchor="middle">10<tspan dy="-12.2" font-size="21">2</tspan></text>
<line x1="677.8" y1="693.4" x2="677.8" y2="679.9" stroke="#000" stroke-width="2"/>
<line x1="728.4" y1="693.4" x2="728.4" y2="686.4" stroke="#000" stroke-width="2"/>
<line x1="758.0" y1="693.4" x2="758.0" y2="686.4" stroke="#000" stroke-width="2"/>
<line x1="778.9" y1="693.4" x2="778.9" y2="686.4" stroke="#000" stroke-width="2"/>
<line x1="795.2" y1="693.4" x2="795.2" y2="686.4" stroke="#000" stroke-width="2"/>
<line x1="808.5" y1="693.4" x2="808.5" y2="686.4" stroke="#000" stroke-width="2"/>
<line x1="819.8" y1="693.4" x2="819.8" y2="686.4" stroke="#000" stroke-width="2"/>
<line x1="829.5" y1="693.4" x2="829.5" y2="686.4" stroke="#000" stroke-width="2"/>
<line x1="838.1" y1="693.4" x2="838.1" y2="686.4" stroke="#000" stroke-width="2"/>
<text x="677.8" y="741.4" font-size="36" text-anchor="middle">10<tspan dy="-12.2" font-size="21">3</tspan></text>
<line x1="845.8" y1="693.4" x2="845.8" y2="679.9" stroke="#000" stroke-width="2"/>
<line x1="896.4" y1="693.4" x2="896.4" y2="686.4" stroke="#000" stroke-width="2"/>
<line x1="926.0" y1="693.4" x2="926.0" y2="686.4" stroke="#000" stroke-width="2"/>
<line x1="946.9" y1="693.4" x2="946.9" y2="686.4" stroke="#000" stroke-width="2"/>
<line x1="963.2" y1="693.4" x2="963.2" y2="686.4" stroke="#000" stroke-width="2"/>
<line x1="976.5" y1="693.4" x2="976.5" y2="686.4" stroke="#000" stroke-width="2"/>
<line x1="987.8" y1="693.4" x2="987.8" y2="686.4" stroke="#000" stroke-width="2"/>
<line x1="997.5" y1="693.4" x2="997.5" y2="686.4" stroke="#000" stroke-width="2"/>
<line x1="1006.1" y1="693.4" x2="1006.1" y2="686.4" stroke="#000" stroke-width="2"/>
<text x="845.8" y="741.4" font-size="36" text-anchor="middle">10<tspan dy="-12.2" font-size="21">4</tspan></text>
<line x1="1013.8" y1="693.4" x2="1013.8" y2="679.9" stroke="#000" stroke-width="2"/>
<text x="1013.8" y="741.4" font-size="36" text-anchor="middle">10<tspan dy="-12.2" font-size="21">5</tspan></text>
<text x="596.7" y="790.6" font-size="41" text-anchor="middle" fill="#000" >Time (ps)</text>
<text transform="translate(71.4,468.2) rotate(-90)" font-size="41"><tspan style="font-family:&quot;Liberation Serif&quot;,serif">Δ</tspan><tspan dx="-2.5">A/A (Norm.)</tspan></text>
<text x="-1" y="44" font-size="49" font-weight="bold" fill="#231815">a</text>
<circle cx="190.2" cy="32.3" r="7.2" stroke="#D65B50" stroke-width="2.0" fill="none"/>
<circle cx="190.2" cy="84.4" r="7.2" stroke="#DDBC42" stroke-width="2.0" fill="none"/>
<circle cx="766.2" cy="32.3" r="7.2" stroke="#9A35A8" stroke-width="2.0" fill="none"/>
<circle cx="766.2" cy="84.4" r="7.2" stroke="#330C9C" stroke-width="2.0" fill="none"/>
<text x="237.6" y="44.7" font-size="37" fill="#231815">S</text>
<text transform="translate(263.8,56.7) scale(1,1.5)" font-size="20" fill="#231815">1</text>
<text x="274.8" y="44.7" font-size="37" fill="#231815">-NaGdF</text>
<text x="406.3" y="49.3" font-size="20" fill="#231815">4</text>
<text x="417.5" y="44.7" font-size="37" fill="#231815">@CzPPOA</text>
<text x="237.6" y="95.4" font-size="37" fill="#231815">T</text>
<text transform="translate(261.7,107.4) scale(1,1.5)" font-size="20" fill="#231815">1</text>
<text x="272.7" y="95.4" font-size="37" fill="#231815">-NaGdF</text>
<text x="404.3" y="100.0" font-size="20" fill="#231815">4</text>
<text x="415.4" y="95.4" font-size="37" fill="#231815">@CzPPOA</text>
<text x="814.2" y="44.7" font-size="37" fill="#231815">S</text>
<text transform="translate(840.4,56.7) scale(1,1.5)" font-size="20" fill="#231815">1</text>
<text x="851.4" y="44.7" font-size="37" fill="#231815">-CzPPOA</text>
<text x="814.2" y="95.4" font-size="37" fill="#231815">T</text>
<text transform="translate(838.3,107.4) scale(1,1.5)" font-size="20" fill="#231815">1</text>
<text x="849.3" y="95.4" font-size="37" fill="#231815">-CzPPOA</text>
<text x="562.5" y="384.9" font-size="36" font-style="italic" style="font-family:&quot;Liberation Serif&quot;,serif">Φ</text>
<text x="587.5" y="394.5" font-size="25.5">ISC</text>
<text x="639.0" y="388.7" font-size="36">=</text>
<text x="670.0" y="388.7" font-size="36.6">98.6%</text>
<text x="313.5" y="663.8" font-size="34" style="font-family:&quot;Liberation Serif&quot;,serif">τ</text>
<text x="329.5" y="673.0" font-size="24">T</text>
<text x="345.0" y="681.4" font-size="13">1</text>
<text x="364.5" y="668.6" font-size="36">=</text>
<text x="396.0" y="667.6" font-size="37">874.5 ps</text>
<text x="777.2" y="663.8" font-size="34" style="font-family:&quot;Liberation Serif&quot;,serif">τ</text>
<text x="793.2" y="673.0" font-size="24">T</text>
<text x="808.7" y="681.4" font-size="13">1</text>
<text x="828.2" y="668.6" font-size="36">=</text>
<text x="859.7" y="667.6" font-size="37">60.9 ns</text>
<g clip-path="url(#clipb)">
<clipPath id="clipb"><rect x="1280.6" y="1.1" width="860.4000000000001" height="692.3"/></clipPath>
<g stroke="#D65B50" stroke-width="2.05" fill="none">
<circle cx="1290.9" cy="176.8" r="7.2"/>
<circle cx="1294.1" cy="190.8" r="7.2"/>
<circle cx="1299.1" cy="207.2" r="7.2"/>
<circle cx="1301.8" cy="190.8" r="7.2"/>
<circle cx="1306.8" cy="183.6" r="7.2"/>
<circle cx="1309.9" cy="195.4" r="7.2"/>
<circle cx="1313.6" cy="186.3" r="7.2"/>
<circle cx="1316.3" cy="185.8" r="7.2"/>
<circle cx="1319.9" cy="186.8" r="7.2"/>
<circle cx="1323.6" cy="196.3" r="7.2"/>
<circle cx="1327.2" cy="201.7" r="7.2"/>
<circle cx="1331.3" cy="218.1" r="7.2"/>
<circle cx="1334.4" cy="217.2" r="7.2"/>
<circle cx="1337.2" cy="215.3" r="7.2"/>
<circle cx="1342.6" cy="215.3" r="7.2"/>
<circle cx="1346.2" cy="227.1" r="7.2"/>
<circle cx="1349.0" cy="229.9" r="7.2"/>
<circle cx="1352.6" cy="233.5" r="7.2"/>
<circle cx="1358.0" cy="237.1" r="7.2"/>
<circle cx="1361.7" cy="235.3" r="7.2"/>
<circle cx="1366.2" cy="233.5" r="7.2"/>
<circle cx="1369.8" cy="232.6" r="7.2"/>
<circle cx="1374.4" cy="231.7" r="7.2"/>
<circle cx="1378.0" cy="230.8" r="7.2"/>
<circle cx="1381.6" cy="240.7" r="7.2"/>
<circle cx="1383.4" cy="256.2" r="7.2"/>
<circle cx="1387.1" cy="255.3" r="7.2"/>
<circle cx="1389.8" cy="254.4" r="7.2"/>
<circle cx="1393.4" cy="257.1" r="7.2"/>
<circle cx="1396.2" cy="264.3" r="7.2"/>
<circle cx="1398.9" cy="279.8" r="7.2"/>
<circle cx="1401.6" cy="280.7" r="7.2"/>
<circle cx="1405.2" cy="271.6" r="7.2"/>
<circle cx="1408.9" cy="270.7" r="7.2"/>
<circle cx="1412.5" cy="275.2" r="7.2"/>
<circle cx="1416.1" cy="279.8" r="7.2"/>
<circle cx="1417.9" cy="293.4" r="7.2"/>
<circle cx="1419.1" cy="293.6" r="7.2"/>
<circle cx="1422.7" cy="307.2" r="7.2"/>
<circle cx="1426.3" cy="306.3" r="7.2"/>
<circle cx="1429.9" cy="305.4" r="7.2"/>
<circle cx="1433.6" cy="292.6" r="7.2"/>
<circle cx="1438.1" cy="289.9" r="7.2"/>
<circle cx="1441.7" cy="298.1" r="7.2"/>
<circle cx="1445.4" cy="300.8" r="7.2"/>
<circle cx="1449.0" cy="311.7" r="7.2"/>
<circle cx="1452.6" cy="319.9" r="7.2"/>
<circle cx="1456.3" cy="319.9" r="7.2"/>
<circle cx="1459.0" cy="328.9" r="7.2"/>
<circle cx="1462.6" cy="335.3" r="7.2"/>
<circle cx="1466.2" cy="337.1" r="7.2"/>
<circle cx="1469.9" cy="339.8" r="7.2"/>
<circle cx="1473.5" cy="346.2" r="7.2"/>
<circle cx="1479.9" cy="346.2" r="7.2"/>
<circle cx="1483.5" cy="355.3" r="7.2"/>
<circle cx="1486.2" cy="363.4" r="7.2"/>
<circle cx="1489.8" cy="367.1" r="7.2"/>
<circle cx="1492.6" cy="371.6" r="7.2"/>
<circle cx="1495.3" cy="377.9" r="7.2"/>
<circle cx="1498.0" cy="386.1" r="7.2"/>
<circle cx="1501.6" cy="389.7" r="7.2"/>
<circle cx="1505.3" cy="392.5" r="7.2"/>
<circle cx="1508.9" cy="394.3" r="7.2"/>
<circle cx="1512.5" cy="396.1" r="7.2"/>
<circle cx="1516.2" cy="397.0" r="7.2"/>
<circle cx="1503.6" cy="397.2" r="7.2"/>
<circle cx="1507.3" cy="392.7" r="7.2"/>
<circle cx="1511.8" cy="390.9" r="7.2"/>
<circle cx="1515.4" cy="400.0" r="7.2"/>
<circle cx="1519.1" cy="404.5" r="7.2"/>
<circle cx="1521.8" cy="405.4" r="7.2"/>
<circle cx="1523.6" cy="415.4" r="7.2"/>
<circle cx="1526.3" cy="419.9" r="7.2"/>
<circle cx="1529.0" cy="422.6" r="7.2"/>
<circle cx="1531.8" cy="430.8" r="7.2"/>
<circle cx="1534.5" cy="433.5" r="7.2"/>
<circle cx="1537.2" cy="434.4" r="7.2"/>
<circle cx="1539.9" cy="436.3" r="7.2"/>
<circle cx="1542.6" cy="439.0" r="7.2"/>
<circle cx="1545.4" cy="440.8" r="7.2"/>
<circle cx="1548.1" cy="443.5" r="7.2"/>
<circle cx="1550.8" cy="446.2" r="7.2"/>
<circle cx="1553.5" cy="449.0" r="7.2"/>
<circle cx="1556.3" cy="451.7" r="7.2"/>
<circle cx="1559.9" cy="453.5" r="7.2"/>
<circle cx="1563.5" cy="459.9" r="7.2"/>
<circle cx="1566.2" cy="463.5" r="7.2"/>
<circle cx="1569.0" cy="466.2" r="7.2"/>
<circle cx="1571.7" cy="467.1" r="7.2"/>
<circle cx="1578.0" cy="469.8" r="7.2"/>
<circle cx="1580.8" cy="483.4" r="7.2"/>
<circle cx="1583.5" cy="495.2" r="7.2"/>
<circle cx="1586.2" cy="498.0" r="7.2"/>
<circle cx="1588.9" cy="500.7" r="7.2"/>
<circle cx="1591.7" cy="504.3" r="7.2"/>
<circle cx="1595.3" cy="505.2" r="7.2"/>
<circle cx="1601.6" cy="504.3" r="7.2"/>
<circle cx="1603.4" cy="514.3" r="7.2"/>
<circle cx="1606.2" cy="517.9" r="7.2"/>
<circle cx="1608.9" cy="519.7" r="7.2"/>
<circle cx="1612.7" cy="520.9" r="7.2"/>
<circle cx="1615.4" cy="533.6" r="7.2"/>
<circle cx="1619.1" cy="532.7" r="7.2"/>
<circle cx="1627.2" cy="529.0" r="7.2"/>
<circle cx="1630.0" cy="536.3" r="7.2"/>
<circle cx="1631.8" cy="545.4" r="7.2"/>
<circle cx="1635.4" cy="547.2" r="7.2"/>
<circle cx="1642.7" cy="542.6" r="7.2"/>
<circle cx="1644.5" cy="556.3" r="7.2"/>
<circle cx="1647.2" cy="558.1" r="7.2"/>
<circle cx="1649.9" cy="559.9" r="7.2"/>
<circle cx="1660.8" cy="556.3" r="7.2"/>
<circle cx="1662.6" cy="563.5" r="7.2"/>
<circle cx="1664.4" cy="570.8" r="7.2"/>
<circle cx="1667.2" cy="574.4" r="7.2"/>
<circle cx="1669.9" cy="578.9" r="7.2"/>
<circle cx="1673.5" cy="582.6" r="7.2"/>
<circle cx="1677.2" cy="586.2" r="7.2"/>
<circle cx="1681.7" cy="587.1" r="7.2"/>
<circle cx="1684.4" cy="597.1" r="7.2"/>
<circle cx="1687.1" cy="601.6" r="7.2"/>
<circle cx="1689.9" cy="604.4" r="7.2"/>
<circle cx="1697.1" cy="599.8" r="7.2"/>
<circle cx="1700.7" cy="602.5" r="7.2"/>
<circle cx="1705.3" cy="605.3" r="7.2"/>
<circle cx="1704.4" cy="617.1" r="7.2"/>
<circle cx="1708.0" cy="618.9" r="7.2"/>
<circle cx="1717.1" cy="617.1" r="7.2"/>
<circle cx="1718.9" cy="626.1" r="7.2"/>
<circle cx="1722.5" cy="628.9" r="7.2"/>
<circle cx="1727.1" cy="630.7" r="7.2"/>
<circle cx="1730.7" cy="625.2" r="7.2"/>
<circle cx="1738.9" cy="625.2" r="7.2"/>
<circle cx="1740.7" cy="629.8" r="7.2"/>
<circle cx="1742.5" cy="638.8" r="7.2"/>
<circle cx="1746.1" cy="640.7" r="7.2"/>
<circle cx="1751.6" cy="642.5" r="7.2"/>
<circle cx="1753.4" cy="639.8" r="7.2"/>
<circle cx="1618.0" cy="525.2" r="7.2"/>
<circle cx="1627.0" cy="527.9" r="7.2"/>
</g>
<path d="M1280.0,168.6 L1282.0,169.7 L1284.0,170.9 L1286.0,172.0 L1288.0,173.2 L1290.0,174.4 L1292.0,175.6 L1294.0,176.8 L1296.0,178.0 L1298.0,179.2 L1300.0,180.4 L1302.0,181.7 L1304.0,183.0 L1306.0,184.2 L1308.0,185.5 L1310.0,186.8 L1312.0,188.1 L1314.0,189.5 L1316.0,190.8 L1318.0,192.1 L1320.0,193.5 L1322.0,194.9 L1324.0,196.3 L1326.0,197.7 L1328.0,199.1 L1330.0,200.5 L1332.0,202.0 L1334.0,203.4 L1336.0,204.9 L1338.0,206.4 L1340.0,207.9 L1342.0,209.4 L1344.0,210.9 L1346.0,212.5 L1348.0,214.0 L1350.0,215.6 L1352.0,217.2 L1354.0,218.8 L1356.0,220.4 L1358.0,222.0 L1360.0,223.7 L1362.0,225.4 L1364.0,227.0 L1366.0,228.7 L1368.0,230.4 L1370.0,232.2 L1372.0,233.9 L1374.0,235.6 L1376.0,237.4 L1378.0,239.2 L1380.0,241.0 L1382.0,242.8 L1384.0,244.7 L1386.0,246.5 L1388.0,248.4 L1390.0,250.3 L1392.0,252.2 L1394.0,254.1 L1396.0,256.0 L1398.0,258.0 L1400.0,259.9 L1402.0,261.9 L1404.0,263.9 L1406.0,265.9 L1408.0,268.0 L1410.0,270.0 L1412.0,272.1 L1414.0,274.2 L1416.0,276.3 L1418.0,278.4 L1420.0,280.6 L1422.0,282.7 L1424.0,284.9 L1426.0,287.1 L1428.0,289.3 L1430.0,291.5 L1432.0,293.8 L1434.0,296.1 L1436.0,298.4 L1438.0,300.7 L1440.0,303.0 L1442.0,305.3 L1444.0,307.7 L1446.0,310.1 L1448.0,312.5 L1450.0,314.9 L1452.0,317.3 L1454.0,319.8 L1456.0,322.2 L1458.0,324.7 L1460.0,327.2 L1462.0,329.7 L1464.0,332.2 L1466.0,334.7 L1468.0,337.2 L1470.0,339.7 L1472.0,342.3 L1474.0,344.8 L1476.0,347.3 L1478.0,349.9 L1480.0,352.4 L1482.0,355.0 L1484.0,357.6 L1486.0,360.1 L1488.0,362.7 L1490.0,365.2 L1492.0,367.8 L1494.0,370.3 L1496.0,372.9 L1498.0,375.4 L1500.0,378.0 L1502.0,380.5 L1504.0,383.1 L1506.0,385.6 L1508.0,388.1 L1510.0,390.6 L1512.0,393.1 L1514.0,395.6 L1516.0,398.1 L1518.0,400.6 L1520.0,403.0 L1522.0,405.5 L1524.0,407.9 L1526.0,410.4 L1528.0,412.9 L1530.0,415.3 L1532.0,417.8 L1534.0,420.3 L1536.0,422.7 L1538.0,425.2 L1540.0,427.7 L1542.0,430.2 L1544.0,432.7 L1546.0,435.2 L1548.0,437.7 L1550.0,440.3 L1552.0,442.8 L1554.0,445.4 L1556.0,448.0 L1558.0,450.6 L1560.0,453.3 L1562.0,455.9 L1564.0,458.6 L1566.0,461.3 L1568.0,464.1 L1570.0,466.8 L1572.0,469.6 L1574.0,472.4 L1576.0,475.2 L1578.0,478.1 L1580.0,480.9 L1582.0,483.7 L1584.0,486.6 L1586.0,489.4 L1588.0,492.2 L1590.0,495.1 L1592.0,497.8 L1594.0,500.6 L1596.0,503.4 L1598.0,506.1 L1600.0,508.8 L1602.0,511.4 L1604.0,514.0 L1606.0,516.5 L1608.0,519.0 L1610.0,521.5 L1612.0,523.9 L1614.0,526.2 L1616.0,528.5 L1618.0,530.7 L1620.0,532.8 L1622.0,534.9 L1624.0,537.0 L1626.0,539.0 L1628.0,541.0 L1630.0,542.9 L1632.0,544.8 L1634.0,546.6 L1636.0,548.5 L1638.0,550.3 L1640.0,552.1 L1642.0,553.8 L1644.0,555.6 L1646.0,557.3 L1648.0,559.0 L1650.0,560.8 L1652.0,562.5 L1654.0,564.2 L1656.0,565.9 L1658.0,567.6 L1660.0,569.4 L1662.0,571.1 L1664.0,572.9 L1666.0,574.6 L1668.0,576.3 L1670.0,578.1 L1672.0,579.8 L1674.0,581.6 L1676.0,583.3 L1678.0,585.1 L1680.0,586.8 L1682.0,588.6 L1684.0,590.3 L1686.0,592.0 L1688.0,593.7 L1690.0,595.5 L1692.0,597.2 L1694.0,598.9 L1696.0,600.5 L1698.0,602.2 L1700.0,603.9 L1702.0,605.5 L1704.0,607.1 L1706.0,608.7 L1708.0,610.3 L1710.0,611.9 L1712.0,613.5 L1714.0,615.0 L1716.0,616.5 L1718.0,618.0 L1720.0,619.5 L1722.0,621.0 L1724.0,622.4 L1726.0,623.8 L1728.0,625.2 L1730.0,626.5 L1732.0,627.8 L1734.0,629.1 L1736.0,630.4 L1738.0,631.6 L1740.0,632.8 L1742.0,634.0 L1744.0,635.1 L1746.0,636.2 L1748.0,637.2 L1750.0,638.3 L1751.6,639.1" stroke="#D65B50" stroke-width="1.9" fill="none"/>
<g stroke="#DDBC42" stroke-width="2.05" fill="none">
<circle cx="1719.5" cy="107.7" r="7.2"/>
<circle cx="1708.4" cy="127.6" r="7.2"/>
<circle cx="1729.4" cy="148.7" r="7.2"/>
<circle cx="1713.9" cy="156.4" r="7.2"/>
<circle cx="1735.0" cy="185.2" r="7.2"/>
<circle cx="1723.9" cy="178.6" r="7.2"/>
<circle cx="1702.9" cy="180.8" r="7.2"/>
<circle cx="1698.4" cy="167.5" r="7.2"/>
<circle cx="1691.8" cy="174.1" r="7.2"/>
<circle cx="1687.4" cy="152.0" r="7.2"/>
<circle cx="1680.7" cy="148.7" r="7.2"/>
<circle cx="1669.6" cy="153.1" r="7.2"/>
<circle cx="1676.3" cy="183.0" r="7.2"/>
<circle cx="1664.1" cy="180.8" r="7.2"/>
<circle cx="1659.7" cy="185.2" r="7.2"/>
<circle cx="1654.1" cy="158.6" r="7.2"/>
<circle cx="1643.1" cy="181.9" r="7.2"/>
<circle cx="1648.6" cy="212.9" r="7.2"/>
<circle cx="1637.5" cy="221.7" r="7.2"/>
<circle cx="1632.0" cy="210.7" r="7.2"/>
<circle cx="1626.5" cy="223.9" r="7.2"/>
<circle cx="1622.0" cy="174.1" r="7.2"/>
<circle cx="1599.9" cy="178.6" r="7.2"/>
<circle cx="1611.0" cy="192.9" r="7.2"/>
<circle cx="1616.5" cy="207.3" r="7.2"/>
<circle cx="1605.4" cy="220.6" r="7.2"/>
<circle cx="1594.4" cy="233.9" r="7.2"/>
<circle cx="1572.2" cy="242.8" r="7.2"/>
<circle cx="1588.8" cy="277.1" r="7.2"/>
<circle cx="1582.2" cy="269.3" r="7.2"/>
<circle cx="1567.8" cy="276.0" r="7.2"/>
<circle cx="1556.7" cy="279.3" r="7.2"/>
<circle cx="1551.2" cy="292.6" r="7.2"/>
<circle cx="1545.7" cy="313.6" r="7.2"/>
<circle cx="1539.0" cy="336.8" r="7.2"/>
<circle cx="1533.5" cy="335.7" r="7.2"/>
<circle cx="1529.0" cy="375.6" r="7.2"/>
<circle cx="1522.4" cy="365.6" r="7.2"/>
<circle cx="1518.0" cy="361.2" r="7.2"/>
<circle cx="1514.7" cy="391.1" r="7.2"/>
<circle cx="1290.0" cy="581.5" r="7.2"/>
<circle cx="1296.6" cy="600.3" r="7.2"/>
<circle cx="1302.1" cy="605.8" r="7.2"/>
<circle cx="1308.8" cy="612.5" r="7.2"/>
<circle cx="1314.3" cy="602.5" r="7.2"/>
<circle cx="1321.0" cy="601.4" r="7.2"/>
<circle cx="1325.4" cy="616.9" r="7.2"/>
<circle cx="1332.0" cy="609.1" r="7.2"/>
<circle cx="1337.6" cy="620.2" r="7.2"/>
<circle cx="1344.2" cy="630.2" r="7.2"/>
<circle cx="1349.7" cy="618.0" r="7.2"/>
<circle cx="1356.4" cy="616.9" r="7.2"/>
<circle cx="1361.9" cy="631.3" r="7.2"/>
<circle cx="1367.4" cy="608.0" r="7.2"/>
<circle cx="1373.0" cy="640.1" r="7.2"/>
<circle cx="1378.5" cy="608.0" r="7.2"/>
<circle cx="1384.1" cy="591.4" r="7.2"/>
<circle cx="1389.6" cy="591.4" r="7.2"/>
<circle cx="1395.1" cy="598.1" r="7.2"/>
<circle cx="1400.7" cy="563.7" r="7.2"/>
<circle cx="1407.3" cy="566.0" r="7.2"/>
<circle cx="1412.8" cy="540.5" r="7.2"/>
<circle cx="1418.4" cy="559.3" r="7.2"/>
<circle cx="1423.9" cy="530.5" r="7.2"/>
<circle cx="1430.5" cy="530.5" r="7.2"/>
<circle cx="1436.1" cy="550.5" r="7.2"/>
<circle cx="1441.6" cy="515.0" r="7.2"/>
<circle cx="1446.0" cy="505.1" r="7.2"/>
<circle cx="1452.7" cy="507.3" r="7.2"/>
<circle cx="1458.2" cy="495.1" r="7.2"/>
<circle cx="1463.7" cy="519.5" r="7.2"/>
<circle cx="1468.2" cy="470.8" r="7.2"/>
<circle cx="1473.7" cy="464.1" r="7.2"/>
<circle cx="1480.4" cy="470.8" r="7.2"/>
<circle cx="1487.0" cy="450.8" r="7.2"/>
<circle cx="1491.4" cy="440.9" r="7.2"/>
<circle cx="1506.9" cy="440.9" r="7.2"/>
<circle cx="1495.9" cy="419.8" r="7.2"/>
<circle cx="1501.4" cy="406.6" r="7.2"/>
<circle cx="1512.5" cy="388.9" r="7.2"/>
<circle cx="1528.0" cy="380.0" r="7.2"/>
<circle cx="1519.0" cy="402.0" r="7.2"/>
<circle cx="1526.0" cy="420.0" r="7.2"/>
<circle cx="1538.0" cy="330.0" r="7.2"/>
</g>
<path d="M1280.0,645.5 L1282.0,644.8 L1284.0,644.2 L1286.0,643.5 L1288.0,642.8 L1290.0,642.0 L1292.0,641.2 L1294.0,640.4 L1296.0,639.5 L1298.0,638.7 L1300.0,637.7 L1302.0,636.8 L1304.0,635.8 L1306.0,634.8 L1308.0,633.8 L1310.0,632.8 L1312.0,631.7 L1314.0,630.6 L1316.0,629.4 L1318.0,628.3 L1320.0,627.1 L1322.0,625.9 L1324.0,624.6 L1326.0,623.4 L1328.0,622.1 L1330.0,620.8 L1332.0,619.4 L1334.0,618.1 L1336.0,616.7 L1338.0,615.3 L1340.0,613.8 L1342.0,612.4 L1344.0,610.9 L1346.0,609.4 L1348.0,607.9 L1350.0,606.3 L1352.0,604.7 L1354.0,603.2 L1356.0,601.5 L1358.0,599.9 L1360.0,598.3 L1362.0,596.6 L1364.0,594.9 L1366.0,593.2 L1368.0,591.5 L1370.0,589.7 L1372.0,587.9 L1374.0,586.2 L1376.0,584.4 L1378.0,582.5 L1380.0,580.7 L1382.0,578.8 L1384.0,577.0 L1386.0,575.1 L1388.0,573.2 L1390.0,571.3 L1392.0,569.3 L1394.0,567.4 L1396.0,565.4 L1398.0,563.4 L1400.0,561.5 L1402.0,559.4 L1404.0,557.4 L1406.0,555.4 L1408.0,553.4 L1410.0,551.3 L1412.0,549.2 L1414.0,547.1 L1416.0,545.1 L1418.0,542.9 L1420.0,540.8 L1422.0,538.7 L1424.0,536.6 L1426.0,534.4 L1428.0,532.3 L1430.0,530.1 L1432.0,527.9 L1434.0,525.6 L1436.0,523.3 L1438.0,521.0 L1440.0,518.6 L1442.0,516.2 L1444.0,513.7 L1446.0,511.1 L1448.0,508.4 L1450.0,505.7 L1452.0,502.9 L1454.0,499.9 L1456.0,496.9 L1458.0,493.8 L1460.0,490.6 L1462.0,487.2 L1464.0,483.8 L1466.0,480.4 L1468.0,476.8 L1470.0,473.2 L1472.0,469.6 L1474.0,465.9 L1476.0,462.2 L1478.0,458.5 L1480.0,454.8 L1482.0,451.1 L1484.0,447.4 L1486.0,443.7 L1488.0,440.0 L1490.0,436.2 L1492.0,432.5 L1494.0,428.7 L1496.0,424.9 L1498.0,421.2 L1500.0,417.4 L1502.0,413.6 L1504.0,409.8 L1506.0,406.0 L1508.0,402.1 L1510.0,398.3 L1512.0,394.4 L1514.0,390.6 L1516.0,386.7 L1518.0,382.8 L1520.0,378.9 L1522.0,375.0 L1524.0,371.1 L1526.0,367.2 L1528.0,363.3 L1530.0,359.4 L1532.0,355.5 L1534.0,351.6 L1536.0,347.7 L1538.0,343.8 L1540.0,340.0 L1542.0,336.1 L1544.0,332.3 L1546.0,328.4 L1548.0,324.6 L1550.0,320.8 L1552.0,317.1 L1554.0,313.3 L1556.0,309.6 L1558.0,305.9 L1560.0,302.2 L1562.0,298.6 L1564.0,295.0 L1566.0,291.4 L1568.0,287.9 L1570.0,284.4 L1572.0,280.9 L1574.0,277.5 L1576.0,274.2 L1578.0,270.8 L1580.0,267.5 L1582.0,264.3 L1584.0,261.1 L1586.0,258.0 L1588.0,254.9 L1590.0,251.9 L1592.0,248.9 L1594.0,246.0 L1596.0,243.1 L1598.0,240.3 L1600.0,237.6 L1602.0,234.9 L1604.0,232.2 L1606.0,229.6 L1608.0,227.1 L1610.0,224.6 L1612.0,222.2 L1614.0,219.8 L1616.0,217.5 L1618.0,215.2 L1620.0,212.9 L1622.0,210.7 L1624.0,208.6 L1626.0,206.5 L1628.0,204.5 L1630.0,202.5 L1632.0,200.5 L1634.0,198.6 L1636.0,196.8 L1638.0,194.9 L1640.0,193.2 L1642.0,191.4 L1644.0,189.7 L1646.0,188.1 L1648.0,186.5 L1650.0,184.9 L1652.0,183.4 L1654.0,181.9 L1656.0,180.5 L1658.0,179.1 L1660.0,177.7 L1662.0,176.4 L1664.0,175.1 L1666.0,173.8 L1668.0,172.6 L1670.0,171.4 L1672.0,170.3 L1674.0,169.2 L1676.0,168.1 L1678.0,167.0 L1680.0,166.0 L1682.0,165.0 L1684.0,164.1 L1686.0,163.2 L1688.0,162.3 L1690.0,161.4 L1692.0,160.6 L1694.0,159.8 L1696.0,159.0 L1698.0,158.3 L1700.0,157.6 L1702.0,156.9 L1704.0,156.2 L1706.0,155.6 L1708.0,155.0 L1710.0,154.4 L1712.0,153.8 L1714.0,153.3 L1716.0,152.8 L1718.0,152.3 L1720.0,151.8 L1722.0,151.3 L1724.0,150.9 L1726.0,150.5 L1728.0,150.1 L1729.4,149.9" stroke="#DDBC42" stroke-width="1.9" fill="none"/>
<g stroke="#9A35A8" stroke-width="2.05" fill="none">
<circle cx="1766.3" cy="106.9" r="7.2"/>
<circle cx="1771.0" cy="120.0" r="7.2"/>
<circle cx="1783.1" cy="126.6" r="7.2"/>
<circle cx="1785.0" cy="141.6" r="7.2"/>
<circle cx="1772.8" cy="135.9" r="7.2"/>
<circle cx="1776.6" cy="150.0" r="7.2"/>
<circle cx="1779.4" cy="156.6" r="7.2"/>
<circle cx="1787.8" cy="166.9" r="7.2"/>
<circle cx="1791.6" cy="172.5" r="7.2"/>
<circle cx="1794.4" cy="180.0" r="7.2"/>
<circle cx="1811.3" cy="166.9" r="7.2"/>
<circle cx="1814.1" cy="184.7" r="7.2"/>
<circle cx="1798.1" cy="191.3" r="7.2"/>
<circle cx="1805.6" cy="198.8" r="7.2"/>
<circle cx="1801.9" cy="206.3" r="7.2"/>
<circle cx="1816.9" cy="221.3" r="7.2"/>
<circle cx="1818.8" cy="232.5" r="7.2"/>
<circle cx="1822.5" cy="240.0" r="7.2"/>
<circle cx="1831.9" cy="232.5" r="7.2"/>
<circle cx="1837.5" cy="243.8" r="7.2"/>
<circle cx="1831.9" cy="249.4" r="7.2"/>
<circle cx="1841.3" cy="260.6" r="7.2"/>
<circle cx="1843.1" cy="271.9" r="7.2"/>
<circle cx="1848.8" cy="286.9" r="7.2"/>
<circle cx="1860.0" cy="283.1" r="7.2"/>
<circle cx="1861.9" cy="293.4" r="7.2"/>
<circle cx="1850.6" cy="289.7" r="7.2"/>
<circle cx="1865.6" cy="309.4" r="7.2"/>
<circle cx="1873.1" cy="315.0" r="7.2"/>
<circle cx="1871.3" cy="324.4" r="7.2"/>
<circle cx="1878.8" cy="331.9" r="7.2"/>
<circle cx="1882.5" cy="333.8" r="7.2"/>
<circle cx="1884.4" cy="346.9" r="7.2"/>
<circle cx="1890.0" cy="360.0" r="7.2"/>
<circle cx="1893.8" cy="369.4" r="7.2"/>
<circle cx="1897.5" cy="375.0" r="7.2"/>
<circle cx="1901.3" cy="386.3" r="7.2"/>
<circle cx="1808.0" cy="202.0" r="7.2"/>
<circle cx="1827.0" cy="248.0" r="7.2"/>
<circle cx="1856.0" cy="290.0" r="7.2"/>
<circle cx="1868.0" cy="318.0" r="7.2"/>
<circle cx="1888.0" cy="352.0" r="7.2"/>
<circle cx="1903.1" cy="396.9" r="7.2"/>
<circle cx="1910.6" cy="400.6" r="7.2"/>
<circle cx="1914.4" cy="406.3" r="7.2"/>
<circle cx="1920.0" cy="397.8" r="7.2"/>
<circle cx="1929.4" cy="395.0" r="7.2"/>
<circle cx="1927.5" cy="405.3" r="7.2"/>
<circle cx="1931.3" cy="425.0" r="7.2"/>
<circle cx="1938.8" cy="428.8" r="7.2"/>
<circle cx="1942.5" cy="437.2" r="7.2"/>
<circle cx="1950.0" cy="422.2" r="7.2"/>
<circle cx="1953.8" cy="441.9" r="7.2"/>
<circle cx="1957.5" cy="455.0" r="7.2"/>
<circle cx="1968.8" cy="444.7" r="7.2"/>
<circle cx="1972.5" cy="458.8" r="7.2"/>
<circle cx="1959.4" cy="460.6" r="7.2"/>
<circle cx="1965.0" cy="465.3" r="7.2"/>
<circle cx="1976.3" cy="468.1" r="7.2"/>
<circle cx="1980.0" cy="481.3" r="7.2"/>
<circle cx="1985.6" cy="485.0" r="7.2"/>
<circle cx="1989.4" cy="453.1" r="7.2"/>
<circle cx="1992.2" cy="464.4" r="7.2"/>
<circle cx="1998.8" cy="464.4" r="7.2"/>
<circle cx="2006.3" cy="467.2" r="7.2"/>
<circle cx="1989.4" cy="471.9" r="7.2"/>
<circle cx="2014.7" cy="498.1" r="7.2"/>
<circle cx="2023.1" cy="518.8" r="7.2"/>
<circle cx="2030.6" cy="521.6" r="7.2"/>
<circle cx="2039.1" cy="522.5" r="7.2"/>
<circle cx="2047.5" cy="543.1" r="7.2"/>
<circle cx="2055.0" cy="545.0" r="7.2"/>
<circle cx="2062.5" cy="556.3" r="7.2"/>
<circle cx="2071.9" cy="571.3" r="7.2"/>
<circle cx="2079.4" cy="578.8" r="7.2"/>
<circle cx="2086.9" cy="591.9" r="7.2"/>
<circle cx="2094.4" cy="612.5" r="7.2"/>
<circle cx="2102.8" cy="610.6" r="7.2"/>
<circle cx="2110.3" cy="623.8" r="7.2"/>
<circle cx="2116.9" cy="624.7" r="7.2"/>
<circle cx="2124.4" cy="620.0" r="7.2"/>
<circle cx="2132.8" cy="629.4" r="7.2"/>
<circle cx="1918.0" cy="402.0" r="7.2"/>
<circle cx="1935.0" cy="418.0" r="7.2"/>
<circle cx="1946.0" cy="432.0" r="7.2"/>
</g>
<path d="M1767.2,117.2 L1769.2,121.7 L1771.2,126.3 L1773.2,130.8 L1775.2,135.2 L1777.2,139.6 L1779.2,144.0 L1781.2,148.4 L1783.2,152.7 L1785.2,157.0 L1787.2,161.2 L1789.2,165.5 L1791.2,169.7 L1793.2,173.8 L1795.2,178.0 L1797.2,182.1 L1799.2,186.2 L1801.2,190.2 L1803.2,194.3 L1805.2,198.3 L1807.2,202.2 L1809.2,206.2 L1811.2,210.1 L1813.2,214.0 L1815.2,217.9 L1817.2,221.8 L1819.2,225.6 L1821.2,229.5 L1823.2,233.3 L1825.2,237.1 L1827.2,240.8 L1829.2,244.6 L1831.2,248.3 L1833.2,252.0 L1835.2,255.7 L1837.2,259.4 L1839.2,263.1 L1841.2,266.7 L1843.2,270.4 L1845.2,274.0 L1847.2,277.6 L1849.2,281.2 L1851.2,284.8 L1853.2,288.4 L1855.2,292.0 L1857.2,295.5 L1859.2,299.1 L1861.2,302.6 L1863.2,306.2 L1865.2,309.7 L1867.2,313.2 L1869.2,316.7 L1871.2,320.1 L1873.2,323.6 L1875.2,327.0 L1877.2,330.4 L1879.2,333.8 L1881.2,337.2 L1883.2,340.5 L1885.2,343.8 L1887.2,347.1 L1889.2,350.4 L1891.2,353.7 L1893.2,356.9 L1895.2,360.1 L1897.2,363.3 L1899.2,366.4 L1901.2,369.5 L1903.2,372.6 L1905.2,375.6 L1907.2,378.7 L1909.2,381.7 L1911.2,384.6 L1913.2,387.5 L1915.2,390.4 L1917.2,393.3 L1919.2,396.1 L1921.2,398.9 L1923.2,401.6 L1925.2,404.3 L1927.2,407.0 L1929.2,409.6 L1931.2,412.2 L1933.2,414.7 L1935.2,417.2 L1937.2,419.7 L1939.2,422.1 L1941.2,424.5 L1943.2,426.9 L1945.2,429.2 L1947.2,431.5 L1949.2,433.7 L1951.2,436.0 L1953.2,438.2 L1955.2,440.4 L1957.2,442.6 L1959.2,444.7 L1961.2,446.8 L1963.2,449.0 L1965.2,451.0 L1967.2,453.1 L1969.2,455.2 L1971.2,457.3 L1973.2,459.3 L1975.2,461.3 L1977.2,463.4 L1979.2,465.4 L1981.2,467.4 L1983.2,469.5 L1985.2,471.5 L1987.2,473.5 L1989.2,475.5 L1991.2,477.6 L1993.2,479.6 L1995.2,481.6 L1997.2,483.7 L1999.2,485.7 L2001.2,487.8 L2003.2,489.9 L2005.2,492.0 L2007.2,494.1 L2009.2,496.3 L2011.2,498.4 L2013.2,500.6 L2015.2,502.8 L2017.2,505.0 L2019.2,507.3 L2021.2,509.6 L2023.2,511.9 L2025.2,514.2 L2027.2,516.6 L2029.2,519.0 L2031.2,521.4 L2033.2,523.8 L2035.2,526.3 L2037.2,528.7 L2039.2,531.2 L2041.2,533.7 L2043.2,536.2 L2045.2,538.8 L2047.2,541.3 L2049.2,543.9 L2051.2,546.4 L2053.2,549.0 L2055.2,551.6 L2057.2,554.2 L2059.2,556.8 L2061.2,559.3 L2063.2,561.9 L2065.2,564.5 L2067.2,567.1 L2069.2,569.7 L2071.2,572.3 L2073.2,574.8 L2075.2,577.4 L2077.2,579.9 L2079.2,582.5 L2081.2,585.0 L2083.2,587.5 L2085.2,590.0 L2087.2,592.5 L2089.2,594.9 L2091.2,597.4 L2093.2,599.8 L2095.2,602.2 L2097.2,604.5 L2099.2,606.9 L2101.2,609.2 L2103.2,611.5 L2105.2,613.7 L2107.2,616.0 L2109.2,618.2 L2111.2,620.3 L2113.2,622.4 L2115.2,624.5 L2117.2,626.6 L2119.2,628.6 L2121.2,630.5 L2123.2,632.5 L2125.2,634.3 L2127.2,636.2 L2129.2,637.9 L2131.2,639.7 L2133.2,641.3 L2135.2,643.0 L2137.2,644.6 L2139.2,646.1 L2139.4,646.2" stroke="#9A35A8" stroke-width="1.9" fill="none"/>
<g stroke="#330C9C" stroke-width="2.05" fill="none">
<circle cx="2102.8" cy="108.8" r="7.2"/>
<circle cx="2108.4" cy="110.6" r="7.2"/>
<circle cx="2102.8" cy="123.8" r="7.2"/>
<circle cx="2074.7" cy="137.8" r="7.2"/>
<circle cx="2072.8" cy="150.9" r="7.2"/>
<circle cx="2079.4" cy="153.8" r="7.2"/>
<circle cx="2080.3" cy="162.2" r="7.2"/>
<circle cx="2112.2" cy="153.8" r="7.2"/>
<circle cx="2118.8" cy="154.7" r="7.2"/>
<circle cx="2126.3" cy="154.7" r="7.2"/>
<circle cx="2129.1" cy="167.8" r="7.2"/>
<circle cx="2115.0" cy="190.3" r="7.2"/>
<circle cx="2131.9" cy="199.7" r="7.2"/>
<circle cx="2096.3" cy="176.3" r="7.2"/>
<circle cx="2068.1" cy="176.3" r="7.2"/>
<circle cx="2044.7" cy="176.3" r="7.2"/>
<circle cx="2024.1" cy="189.4" r="7.2"/>
<circle cx="2027.8" cy="213.8" r="7.2"/>
<circle cx="2040.0" cy="215.6" r="7.2"/>
<circle cx="2038.1" cy="225.0" r="7.2"/>
<circle cx="2031.6" cy="230.6" r="7.2"/>
<circle cx="2034.4" cy="233.4" r="7.2"/>
<circle cx="2064.4" cy="222.2" r="7.2"/>
<circle cx="2083.1" cy="216.6" r="7.2"/>
<circle cx="2093.4" cy="214.7" r="7.2"/>
<circle cx="2086.9" cy="234.4" r="7.2"/>
<circle cx="2048.4" cy="253.1" r="7.2"/>
<circle cx="2060.6" cy="251.3" r="7.2"/>
<circle cx="2053.1" cy="273.8" r="7.2"/>
<circle cx="2055.0" cy="282.2" r="7.2"/>
<circle cx="1989.4" cy="291.6" r="7.2"/>
<circle cx="1980.0" cy="295.3" r="7.2"/>
<circle cx="2019.4" cy="300.0" r="7.2"/>
<circle cx="2005.3" cy="305.6" r="7.2"/>
<circle cx="1921.9" cy="302.8" r="7.2"/>
<circle cx="1937.8" cy="324.4" r="7.2"/>
<circle cx="1933.1" cy="335.6" r="7.2"/>
<circle cx="1969.7" cy="325.3" r="7.2"/>
<circle cx="1965.0" cy="335.6" r="7.2"/>
<circle cx="1977.2" cy="333.8" r="7.2"/>
<circle cx="1985.6" cy="331.9" r="7.2"/>
<circle cx="1996.0" cy="327.2" r="7.2"/>
<circle cx="2013.8" cy="338.4" r="7.2"/>
<circle cx="1999.7" cy="343.1" r="7.2"/>
<circle cx="2008.1" cy="348.8" r="7.2"/>
<circle cx="1942.5" cy="345.0" r="7.2"/>
<circle cx="1927.5" cy="347.8" r="7.2"/>
<circle cx="1955.6" cy="352.5" r="7.2"/>
<circle cx="1951.9" cy="363.8" r="7.2"/>
<circle cx="1906.0" cy="346.9" r="7.2"/>
<circle cx="1893.8" cy="345.0" r="7.2"/>
<circle cx="1961.3" cy="387.2" r="7.2"/>
<circle cx="1875.0" cy="388.1" r="7.2"/>
<circle cx="1882.5" cy="391.9" r="7.2"/>
<circle cx="1867.5" cy="397.5" r="7.2"/>
<circle cx="1912.5" cy="380.6" r="7.2"/>
<circle cx="1760.6" cy="631.3" r="7.2"/>
<circle cx="1774.7" cy="636.9" r="7.2"/>
<circle cx="1787.8" cy="625.6" r="7.2"/>
<circle cx="1798.1" cy="634.1" r="7.2"/>
<circle cx="1809.4" cy="614.4" r="7.2"/>
<circle cx="1819.7" cy="612.5" r="7.2"/>
<circle cx="1829.1" cy="583.4" r="7.2"/>
<circle cx="1837.5" cy="540.3" r="7.2"/>
<circle cx="1845.9" cy="493.4" r="7.2"/>
<circle cx="1853.4" cy="462.5" r="7.2"/>
<circle cx="1860.9" cy="431.6" r="7.2"/>
<circle cx="1867.5" cy="400.6" r="7.2"/>
<circle cx="1875.0" cy="388.4" r="7.2"/>
<circle cx="1880.6" cy="393.1" r="7.2"/>
<circle cx="1888.1" cy="395.0" r="7.2"/>
<circle cx="1899.4" cy="403.4" r="7.2"/>
<circle cx="1916.3" cy="390.3" r="7.2"/>
<circle cx="1960.3" cy="387.5" r="7.2"/>
<circle cx="1890.0" cy="400.0" r="7.2"/>
<circle cx="1905.0" cy="392.0" r="7.2"/>
</g>
<path d="M1762.5,689.5 L1764.5,684.1 L1766.5,678.6 L1768.5,673.2 L1770.5,667.8 L1772.5,662.5 L1774.5,657.2 L1776.5,651.9 L1778.5,646.7 L1780.5,641.5 L1782.5,636.3 L1784.5,631.2 L1786.5,626.1 L1788.5,621.1 L1790.5,616.1 L1792.5,611.1 L1794.5,606.1 L1796.5,601.2 L1798.5,596.3 L1800.5,591.5 L1802.5,586.7 L1804.5,581.9 L1806.5,577.1 L1808.5,572.4 L1810.5,567.7 L1812.5,563.0 L1814.5,558.4 L1816.5,553.8 L1818.5,549.2 L1820.5,544.6 L1822.5,540.1 L1824.5,535.6 L1826.5,531.1 L1828.5,526.6 L1830.5,522.2 L1832.5,517.8 L1834.5,513.4 L1836.5,509.0 L1838.5,504.7 L1840.5,500.4 L1842.5,496.1 L1844.5,491.8 L1846.5,487.6 L1848.5,483.4 L1850.5,479.2 L1852.5,475.0 L1854.5,470.9 L1856.5,466.9 L1858.5,462.9 L1860.5,459.0 L1862.5,455.1 L1864.5,451.3 L1866.5,447.6 L1868.5,444.0 L1870.5,440.4 L1872.5,436.9 L1874.5,433.6 L1876.5,430.3 L1878.5,427.1 L1880.5,424.0 L1882.5,420.9 L1884.5,418.0 L1886.5,415.1 L1888.5,412.2 L1890.5,409.5 L1892.5,406.8 L1894.5,404.2 L1896.5,401.6 L1898.5,399.1 L1900.5,396.7 L1902.5,394.3 L1904.5,391.9 L1906.5,389.6 L1908.5,387.3 L1910.5,385.1 L1912.5,382.9 L1914.5,380.7 L1916.5,378.6 L1918.5,376.4 L1920.5,374.3 L1922.5,372.2 L1924.5,370.1 L1926.5,368.0 L1928.5,365.9 L1930.5,363.8 L1932.5,361.7 L1934.5,359.7 L1936.5,357.6 L1938.5,355.5 L1940.5,353.4 L1942.5,351.3 L1944.5,349.2 L1946.5,347.1 L1948.5,345.0 L1950.5,342.9 L1952.5,340.8 L1954.5,338.7 L1956.5,336.6 L1958.5,334.5 L1960.5,332.3 L1962.5,330.2 L1964.5,328.1 L1966.5,326.0 L1968.5,323.9 L1970.5,321.7 L1972.5,319.6 L1974.5,317.5 L1976.5,315.3 L1978.5,313.2 L1980.5,311.1 L1982.5,308.9 L1984.5,306.8 L1986.5,304.6 L1988.5,302.5 L1990.5,300.3 L1992.5,298.1 L1994.5,296.0 L1996.5,293.8 L1998.5,291.6 L2000.5,289.4 L2002.5,287.2 L2004.5,285.0 L2006.5,282.8 L2008.5,280.6 L2010.5,278.4 L2012.5,276.2 L2014.5,274.0 L2016.5,271.8 L2018.5,269.5 L2020.5,267.3 L2022.5,265.1 L2024.5,262.8 L2026.5,260.6 L2028.5,258.3 L2030.5,256.0 L2032.5,253.7 L2034.5,251.5 L2036.5,249.2 L2038.5,246.9 L2040.5,244.6 L2042.5,242.3 L2044.5,240.0 L2046.5,237.6 L2048.5,235.3 L2050.5,233.0 L2052.5,230.7 L2054.5,228.3 L2056.5,226.0 L2058.5,223.7 L2060.5,221.4 L2062.5,219.0 L2064.5,216.7 L2066.5,214.4 L2068.5,212.1 L2070.5,209.8 L2072.5,207.5 L2074.5,205.2 L2076.5,203.0 L2078.5,200.7 L2080.5,198.5 L2082.5,196.2 L2084.5,194.0 L2086.5,191.8 L2088.5,189.6 L2090.5,187.4 L2092.5,185.3 L2094.5,183.2 L2096.5,181.0 L2098.5,179.0 L2100.5,176.9 L2102.5,174.8 L2104.5,172.8 L2106.5,170.8 L2108.5,168.9 L2110.5,166.9 L2112.5,165.0 L2114.5,163.1 L2116.5,161.3 L2118.5,159.4 L2120.5,157.6 L2122.5,155.9 L2124.5,154.2 L2126.5,152.5 L2128.5,150.8 L2130.5,149.2 L2132.5,147.6 L2134.5,146.1 L2136.5,144.6 L2136.6,144.5" stroke="#7A5CCC" stroke-width="1.9" fill="none"/>
</g>
<rect x="1280.6" y="1.1" width="860.4000000000001" height="692.3" fill="none" stroke="#000" stroke-width="2.2"/>
<line x1="1280.6" y1="640.5" x2="1294.1" y2="640.5" stroke="#000" stroke-width="2"/>
<text x="1264.2" y="654.1" font-size="36" text-anchor="end" fill="#000" >0.0</text>
<line x1="1280.6" y1="507.2" x2="1287.6" y2="507.2" stroke="#000" stroke-width="2"/>
<line x1="1280.6" y1="373.9" x2="1294.1" y2="373.9" stroke="#000" stroke-width="2"/>
<text x="1264.2" y="387.5" font-size="36" text-anchor="end" fill="#000" >0.5</text>
<line x1="1280.6" y1="240.5" x2="1287.6" y2="240.5" stroke="#000" stroke-width="2"/>
<line x1="1280.6" y1="107.2" x2="1294.1" y2="107.2" stroke="#000" stroke-width="2"/>
<text x="1264.2" y="120.8" font-size="36" text-anchor="end" fill="#000" >1.0</text>
<line x1="1355.5" y1="693.4" x2="1355.5" y2="686.4" stroke="#000" stroke-width="2"/>
<line x1="1399.1" y1="693.4" x2="1399.1" y2="686.4" stroke="#000" stroke-width="2"/>
<line x1="1430.0" y1="693.4" x2="1430.0" y2="686.4" stroke="#000" stroke-width="2"/>
<line x1="1454.0" y1="693.4" x2="1454.0" y2="686.4" stroke="#000" stroke-width="2"/>
<line x1="1473.6" y1="693.4" x2="1473.6" y2="686.4" stroke="#000" stroke-width="2"/>
<line x1="1490.2" y1="693.4" x2="1490.2" y2="686.4" stroke="#000" stroke-width="2"/>
<line x1="1504.5" y1="693.4" x2="1504.5" y2="686.4" stroke="#000" stroke-width="2"/>
<line x1="1517.2" y1="693.4" x2="1517.2" y2="686.4" stroke="#000" stroke-width="2"/>
<text x="1281.0" y="741.4" font-size="36" text-anchor="middle">10<tspan dy="-12.2" font-size="21">1</tspan></text>
<line x1="1528.5" y1="693.4" x2="1528.5" y2="679.9" stroke="#000" stroke-width="2"/>
<line x1="1603.0" y1="693.4" x2="1603.0" y2="686.4" stroke="#000" stroke-width="2"/>
<line x1="1646.6" y1="693.4" x2="1646.6" y2="686.4" stroke="#000" stroke-width="2"/>
<line x1="1677.5" y1="693.4" x2="1677.5" y2="686.4" stroke="#000" stroke-width="2"/>
<line x1="1701.5" y1="693.4" x2="1701.5" y2="686.4" stroke="#000" stroke-width="2"/>
<line x1="1721.1" y1="693.4" x2="1721.1" y2="686.4" stroke="#000" stroke-width="2"/>
<line x1="1737.7" y1="693.4" x2="1737.7" y2="686.4" stroke="#000" stroke-width="2"/>
<line x1="1752.0" y1="693.4" x2="1752.0" y2="686.4" stroke="#000" stroke-width="2"/>
<line x1="1764.7" y1="693.4" x2="1764.7" y2="686.4" stroke="#000" stroke-width="2"/>
<text x="1528.5" y="741.4" font-size="36" text-anchor="middle">10<tspan dy="-12.2" font-size="21">2</tspan></text>
<line x1="1776.0" y1="693.4" x2="1776.0" y2="679.9" stroke="#000" stroke-width="2"/>
<line x1="1850.5" y1="693.4" x2="1850.5" y2="686.4" stroke="#000" stroke-width="2"/>
<line x1="1894.1" y1="693.4" x2="1894.1" y2="686.4" stroke="#000" stroke-width="2"/>
<line x1="1925.0" y1="693.4" x2="1925.0" y2="686.4" stroke="#000" stroke-width="2"/>
<line x1="1949.0" y1="693.4" x2="1949.0" y2="686.4" stroke="#000" stroke-width="2"/>
<line x1="1968.6" y1="693.4" x2="1968.6" y2="686.4" stroke="#000" stroke-width="2"/>
<line x1="1985.2" y1="693.4" x2="1985.2" y2="686.4" stroke="#000" stroke-width="2"/>
<line x1="1999.5" y1="693.4" x2="1999.5" y2="686.4" stroke="#000" stroke-width="2"/>
<line x1="2012.2" y1="693.4" x2="2012.2" y2="686.4" stroke="#000" stroke-width="2"/>
<text x="1776.0" y="741.4" font-size="36" text-anchor="middle">10<tspan dy="-12.2" font-size="21">3</tspan></text>
<line x1="2023.5" y1="693.4" x2="2023.5" y2="679.9" stroke="#000" stroke-width="2"/>
<line x1="2098.0" y1="693.4" x2="2098.0" y2="686.4" stroke="#000" stroke-width="2"/>
<text x="2023.5" y="741.4" font-size="36" text-anchor="middle">10<tspan dy="-12.2" font-size="21">4</tspan></text>
<text x="1710.8" y="790.6" font-size="41" text-anchor="middle" fill="#000" >Time (ps)</text>
<text transform="translate(1185.8,468.2) rotate(-90)" font-size="41"><tspan style="font-family:&quot;Liberation Serif&quot;,serif">Δ</tspan><tspan dx="-2.5">A/A (Norm.)</tspan></text>
<text x="1110" y="44" font-size="49" font-weight="bold" fill="#231815">b</text>
<circle cx="1304.1" cy="32.3" r="7.2" stroke="#D65B50" stroke-width="2.0" fill="none"/>
<circle cx="1304.1" cy="84.4" r="7.2" stroke="#DDBC42" stroke-width="2.0" fill="none"/>
<circle cx="1817.7" cy="32.3" r="7.2" stroke="#9A35A8" stroke-width="2.0" fill="none"/>
<circle cx="1817.7" cy="84.4" r="7.2" stroke="#330C9C" stroke-width="2.0" fill="none"/>
<text x="1351.7" y="44.7" font-size="37" fill="#231815">S</text>
<text transform="translate(1377.9,56.7) scale(1,1.5)" font-size="20" fill="#231815">1</text>
<text x="1388.9" y="44.7" font-size="37" fill="#231815">-NaGdF</text>
<text x="1520.4" y="49.3" font-size="20" fill="#231815">4</text>
<text x="1531.6" y="44.7" font-size="37" fill="#231815">@DMACPPOA</text>
<text x="1351.7" y="95.4" font-size="37" fill="#231815">T</text>
<text transform="translate(1375.8,107.4) scale(1,1.5)" font-size="20" fill="#231815">1</text>
<text x="1386.8" y="95.4" font-size="37" fill="#231815">-NaGdF</text>
<text x="1518.4" y="100.0" font-size="20" fill="#231815">4</text>
<text x="1529.5" y="95.4" font-size="37" fill="#231815">@DMACPPOA</text>
<text x="1865.0" y="44.7" font-size="37" fill="#231815">S</text>
<text transform="translate(1891.2,56.7) scale(1,1.5)" font-size="20" fill="#231815">1</text>
<text x="1902.2" y="44.7" font-size="37" fill="#231815">-DMACPPOA</text>
<text x="1865.0" y="95.4" font-size="37" fill="#231815">T</text>
<text transform="translate(1889.1,107.4) scale(1,1.5)" font-size="20" fill="#231815">1</text>
<text x="1900.1" y="95.4" font-size="37" fill="#231815">-DMACPPOA</text>
<text x="1601.0" y="384.8" font-size="36" font-style="italic" style="font-family:&quot;Liberation Serif&quot;,serif">Φ</text>
<text x="1626.0" y="394.4" font-size="25.5">ISC</text>
<text x="1677.5" y="388.6" font-size="36">=</text>
<text x="1708.5" y="388.6" font-size="36.6">96.3%</text>
<text x="1419.5" y="663.8" font-size="34" style="font-family:&quot;Liberation Serif&quot;,serif">τ</text>
<text x="1435.5" y="673.0" font-size="24">T</text>
<text x="1451.0" y="681.4" font-size="13">1</text>
<text x="1470.5" y="668.6" font-size="36">=</text>
<text x="1502.0" y="667.6" font-size="37">524.5 ps</text>
<text x="1846.0" y="663.8" font-size="34" style="font-family:&quot;Liberation Serif&quot;,serif">τ</text>
<text x="1862.0" y="673.0" font-size="24">T</text>
<text x="1877.5" y="681.4" font-size="13">1</text>
<text x="1897.0" y="668.6" font-size="36">=</text>
<text x="1928.5" y="667.6" font-size="37">14.1 ns</text>
<g clip-path="url(#clipc)">
<clipPath id="clipc"><rect x="166.1" y="852.4" width="861.1999999999999" height="692.6"/></clipPath>
<g stroke="#D65B50" stroke-width="2.05" fill="none">
<circle cx="193.2" cy="958.8" r="7.2"/>
<circle cx="208.9" cy="959.9" r="7.2"/>
<circle cx="222.5" cy="979.8" r="7.2"/>
<circle cx="234.1" cy="972.5" r="7.2"/>
<circle cx="245.6" cy="989.2" r="7.2"/>
<circle cx="266.5" cy="1026.9" r="7.2"/>
<circle cx="285.4" cy="1045.8" r="7.2"/>
<circle cx="293.7" cy="1053.1" r="7.2"/>
<circle cx="303.2" cy="1060.4" r="7.2"/>
<circle cx="317.8" cy="1064.6" r="7.2"/>
<circle cx="326.2" cy="1075.1" r="7.2"/>
<circle cx="310.5" cy="1087.6" r="7.2"/>
<circle cx="339.8" cy="1108.6" r="7.2"/>
<circle cx="333.5" cy="1136.9" r="7.2"/>
<circle cx="347.2" cy="1148.4" r="7.2"/>
<circle cx="353.4" cy="1146.3" r="7.2"/>
<circle cx="360.8" cy="1172.5" r="7.2"/>
<circle cx="367.0" cy="1184.0" r="7.2"/>
<circle cx="373.3" cy="1187.1" r="7.2"/>
<circle cx="385.9" cy="1189.2" r="7.2"/>
<circle cx="379.6" cy="1202.8" r="7.2"/>
<circle cx="392.2" cy="1214.3" r="7.2"/>
<circle cx="398.5" cy="1235.3" r="7.2"/>
<circle cx="403.7" cy="1266.6" r="7.2"/>
<circle cx="410.0" cy="1277.1" r="7.2"/>
<circle cx="420.5" cy="1271.9" r="7.2"/>
<circle cx="427.8" cy="1276.1" r="7.2"/>
<circle cx="416.3" cy="1288.6" r="7.2"/>
<circle cx="439.3" cy="1288.6" r="7.2"/>
<circle cx="445.6" cy="1314.8" r="7.2"/>
<circle cx="451.9" cy="1334.7" r="7.2"/>
<circle cx="462.3" cy="1329.5" r="7.2"/>
<circle cx="467.6" cy="1339.9" r="7.2"/>
<circle cx="479.1" cy="1327.4" r="7.2"/>
<circle cx="484.3" cy="1341.0" r="7.2"/>
<circle cx="494.8" cy="1352.5" r="7.2"/>
<circle cx="501.1" cy="1367.2" r="7.2"/>
<circle cx="489.6" cy="1374.5" r="7.2"/>
<circle cx="506.3" cy="1380.8" r="7.2"/>
<circle cx="544.0" cy="1393.4" r="7.2"/>
<circle cx="517.8" cy="1407.0" r="7.2"/>
<circle cx="524.1" cy="1408.0" r="7.2"/>
<circle cx="528.3" cy="1410.1" r="7.2"/>
<circle cx="537.7" cy="1415.3" r="7.2"/>
<circle cx="553.4" cy="1429.0" r="7.2"/>
<circle cx="575.4" cy="1425.8" r="7.2"/>
<circle cx="569.1" cy="1432.1" r="7.2"/>
<circle cx="559.7" cy="1444.7" r="7.2"/>
<circle cx="595.3" cy="1443.6" r="7.2"/>
<circle cx="589.1" cy="1458.3" r="7.2"/>
<circle cx="602.6" cy="1457.2" r="7.2"/>
<circle cx="607.9" cy="1468.7" r="7.2"/>
<circle cx="615.2" cy="1468.7" r="7.2"/>
<circle cx="618.4" cy="1454.1" r="7.2"/>
<circle cx="579.6" cy="1480.3" r="7.2"/>
<circle cx="585.9" cy="1474.0" r="7.2"/>
<circle cx="600.0" cy="1444.2" r="7.2"/>
<circle cx="604.0" cy="1457.1" r="7.2"/>
<circle cx="606.9" cy="1469.0" r="7.2"/>
<circle cx="616.9" cy="1469.0" r="7.2"/>
<circle cx="621.8" cy="1453.1" r="7.2"/>
<circle cx="627.8" cy="1457.1" r="7.2"/>
<circle cx="632.7" cy="1448.2" r="7.2"/>
<circle cx="637.7" cy="1455.1" r="7.2"/>
<circle cx="642.6" cy="1477.9" r="7.2"/>
<circle cx="648.6" cy="1485.8" r="7.2"/>
<circle cx="653.6" cy="1489.8" r="7.2"/>
<circle cx="658.5" cy="1474.9" r="7.2"/>
<circle cx="663.5" cy="1467.0" r="7.2"/>
<circle cx="669.4" cy="1452.1" r="7.2"/>
<circle cx="673.4" cy="1467.0" r="7.2"/>
<circle cx="683.3" cy="1490.8" r="7.2"/>
<circle cx="689.2" cy="1487.8" r="7.2"/>
</g>
<path d="M189.0,953.9 L191.0,955.3 L193.0,956.6 L195.0,958.0 L197.0,959.3 L199.0,960.7 L201.0,962.1 L203.0,963.5 L205.0,964.9 L207.0,966.3 L209.0,967.7 L211.0,969.1 L213.0,970.5 L215.0,972.0 L217.0,973.5 L219.0,974.9 L221.0,976.4 L223.0,977.9 L225.0,979.5 L227.0,981.0 L229.0,982.6 L231.0,984.1 L233.0,985.7 L235.0,987.4 L237.0,989.0 L239.0,990.7 L241.0,992.4 L243.0,994.1 L245.0,995.9 L247.0,997.6 L249.0,999.4 L251.0,1001.3 L253.0,1003.1 L255.0,1005.0 L257.0,1007.0 L259.0,1008.9 L261.0,1010.9 L263.0,1012.9 L265.0,1015.0 L267.0,1017.1 L269.0,1019.2 L271.0,1021.4 L273.0,1023.6 L275.0,1025.9 L277.0,1028.2 L279.0,1030.5 L281.0,1032.9 L283.0,1035.3 L285.0,1037.8 L287.0,1040.3 L289.0,1042.8 L291.0,1045.4 L293.0,1048.1 L295.0,1050.8 L297.0,1053.5 L299.0,1056.3 L301.0,1059.2 L303.0,1062.1 L305.0,1065.1 L307.0,1068.1 L309.0,1071.1 L311.0,1074.3 L313.0,1077.4 L315.0,1080.7 L317.0,1084.0 L319.0,1087.3 L321.0,1090.7 L323.0,1094.1 L325.0,1097.6 L327.0,1101.1 L329.0,1104.6 L331.0,1108.2 L333.0,1111.7 L335.0,1115.3 L337.0,1118.9 L339.0,1122.5 L341.0,1126.1 L343.0,1129.7 L345.0,1133.3 L347.0,1136.9 L349.0,1140.5 L351.0,1144.2 L353.0,1147.8 L355.0,1151.4 L357.0,1155.0 L359.0,1158.6 L361.0,1162.3 L363.0,1166.0 L365.0,1169.7 L367.0,1173.5 L369.0,1177.2 L371.0,1181.0 L373.0,1184.9 L375.0,1188.8 L377.0,1192.7 L379.0,1196.7 L381.0,1200.7 L383.0,1204.7 L385.0,1208.7 L387.0,1212.8 L389.0,1216.8 L391.0,1220.8 L393.0,1224.8 L395.0,1228.8 L397.0,1232.7 L399.0,1236.5 L401.0,1240.3 L403.0,1244.0 L405.0,1247.6 L407.0,1251.2 L409.0,1254.7 L411.0,1258.1 L413.0,1261.5 L415.0,1264.8 L417.0,1268.0 L419.0,1271.2 L421.0,1274.4 L423.0,1277.4 L425.0,1280.5 L427.0,1283.5 L429.0,1286.4 L431.0,1289.3 L433.0,1292.1 L435.0,1294.9 L437.0,1297.6 L439.0,1300.4 L441.0,1303.0 L443.0,1305.7 L445.0,1308.3 L447.0,1310.9 L449.0,1313.4 L451.0,1315.9 L453.0,1318.4 L455.0,1320.9 L457.0,1323.3 L459.0,1325.7 L461.0,1328.1 L463.0,1330.5 L465.0,1332.9 L467.0,1335.2 L469.0,1337.6 L471.0,1339.9 L473.0,1342.2 L475.0,1344.5 L477.0,1346.9 L479.0,1349.2 L481.0,1351.5 L483.0,1353.8 L485.0,1356.1 L487.0,1358.4 L489.0,1360.7 L491.0,1363.0 L493.0,1365.3 L495.0,1367.6 L497.0,1369.9 L499.0,1372.1 L501.0,1374.4 L503.0,1376.7 L505.0,1378.9 L507.0,1381.1 L509.0,1383.4 L511.0,1385.6 L513.0,1387.8 L515.0,1389.9 L517.0,1392.1 L519.0,1394.2 L521.0,1396.4 L523.0,1398.5 L525.0,1400.6 L527.0,1402.6 L529.0,1404.7 L531.0,1406.7 L533.0,1408.7 L535.0,1410.7 L537.0,1412.6 L539.0,1414.5 L541.0,1416.4 L543.0,1418.3 L545.0,1420.1 L547.0,1422.0 L549.0,1423.7 L551.0,1425.5 L553.0,1427.2 L555.0,1428.9 L557.0,1430.5 L559.0,1432.1 L561.0,1433.7 L563.0,1435.2 L565.0,1436.7 L567.0,1438.1 L569.0,1439.6 L571.0,1440.9 L573.0,1442.3 L575.0,1443.6 L577.0,1444.9 L579.0,1446.1 L581.0,1447.3 L583.0,1448.5 L585.0,1449.6 L587.0,1450.7 L589.0,1451.8 L591.0,1452.8 L593.0,1453.8 L595.0,1454.8 L597.0,1455.7 L599.0,1456.7 L601.0,1457.6 L603.0,1458.4 L605.0,1459.3 L607.0,1460.1 L609.0,1460.9 L611.0,1461.6 L613.0,1462.4 L615.0,1463.1 L617.0,1463.8 L619.0,1464.5 L621.0,1465.1 L623.0,1465.8 L625.0,1466.4 L627.0,1467.0 L629.0,1467.6 L631.0,1468.1 L633.0,1468.7 L635.0,1469.2 L637.0,1469.7 L639.0,1470.2 L641.0,1470.7 L643.0,1471.2 L645.0,1471.6 L647.0,1472.1 L649.0,1472.5 L651.0,1472.9 L653.0,1473.3 L655.0,1473.7 L657.0,1474.1 L659.0,1474.5 L661.0,1474.9 L663.0,1475.3 L665.0,1475.6 L667.0,1476.0 L669.0,1476.4 L671.0,1476.7 L673.0,1477.1 L675.0,1477.4 L677.0,1477.7 L679.0,1478.1 L681.0,1478.4 L683.0,1478.8 L685.0,1479.1 L687.0,1479.4 L689.0,1479.8 L689.2,1479.8" stroke="#D65B50" stroke-width="1.9" fill="none"/>
<g stroke="#DDBC42" stroke-width="2.05" fill="none">
<circle cx="222.5" cy="1483.4" r="7.2"/>
<circle cx="229.9" cy="1487.6" r="7.2"/>
<circle cx="236.2" cy="1482.4" r="7.2"/>
<circle cx="243.5" cy="1480.3" r="7.2"/>
<circle cx="250.8" cy="1479.2" r="7.2"/>
<circle cx="257.1" cy="1483.4" r="7.2"/>
<circle cx="263.4" cy="1480.3" r="7.2"/>
<circle cx="269.7" cy="1482.4" r="7.2"/>
<circle cx="274.9" cy="1485.5" r="7.2"/>
<circle cx="281.2" cy="1491.8" r="7.2"/>
<circle cx="287.5" cy="1484.5" r="7.2"/>
<circle cx="293.7" cy="1487.6" r="7.2"/>
<circle cx="299.0" cy="1490.7" r="7.2"/>
<circle cx="304.2" cy="1486.5" r="7.2"/>
<circle cx="309.5" cy="1490.7" r="7.2"/>
<circle cx="315.7" cy="1481.3" r="7.2"/>
<circle cx="322.0" cy="1483.4" r="7.2"/>
<circle cx="328.3" cy="1476.0" r="7.2"/>
<circle cx="333.5" cy="1478.1" r="7.2"/>
<circle cx="339.8" cy="1474.0" r="7.2"/>
<circle cx="344.0" cy="1465.6" r="7.2"/>
<circle cx="350.3" cy="1470.8" r="7.2"/>
<circle cx="356.6" cy="1468.7" r="7.2"/>
<circle cx="362.9" cy="1468.7" r="7.2"/>
<circle cx="368.1" cy="1455.1" r="7.2"/>
<circle cx="373.3" cy="1463.5" r="7.2"/>
<circle cx="377.5" cy="1450.9" r="7.2"/>
<circle cx="384.9" cy="1449.9" r="7.2"/>
<circle cx="388.0" cy="1458.3" r="7.2"/>
<circle cx="393.2" cy="1453.7" r="7.2"/>
<circle cx="400.6" cy="1444.7" r="7.2"/>
<circle cx="404.8" cy="1431.0" r="7.2"/>
<circle cx="408.9" cy="1416.4" r="7.2"/>
<circle cx="414.2" cy="1423.7" r="7.2"/>
<circle cx="417.3" cy="1412.2" r="7.2"/>
<circle cx="424.6" cy="1412.2" r="7.2"/>
<circle cx="427.8" cy="1397.5" r="7.2"/>
<circle cx="433.0" cy="1399.6" r="7.2"/>
<circle cx="438.2" cy="1393.4" r="7.2"/>
<circle cx="440.3" cy="1378.7" r="7.2"/>
<circle cx="445.6" cy="1377.6" r="7.2"/>
<circle cx="450.8" cy="1374.5" r="7.2"/>
<circle cx="454.0" cy="1364.0" r="7.2"/>
<circle cx="459.2" cy="1364.0" r="7.2"/>
<circle cx="461.3" cy="1349.4" r="7.2"/>
<circle cx="465.5" cy="1347.3" r="7.2"/>
<circle cx="469.7" cy="1338.9" r="7.2"/>
<circle cx="474.9" cy="1324.2" r="7.2"/>
<circle cx="480.1" cy="1313.8" r="7.2"/>
<circle cx="484.3" cy="1301.2" r="7.2"/>
<circle cx="490.6" cy="1294.9" r="7.2"/>
<circle cx="493.7" cy="1292.8" r="7.2"/>
<circle cx="496.9" cy="1285.5" r="7.2"/>
<circle cx="501.1" cy="1268.7" r="7.2"/>
<circle cx="504.2" cy="1264.6" r="7.2"/>
<circle cx="509.5" cy="1253.0" r="7.2"/>
<circle cx="513.6" cy="1242.6" r="7.2"/>
<circle cx="522.0" cy="1238.4" r="7.2"/>
<circle cx="524.1" cy="1255.1" r="7.2"/>
<circle cx="515.7" cy="1237.4" r="7.2"/>
<circle cx="519.9" cy="1243.7" r="7.2"/>
<circle cx="530.4" cy="1203.9" r="7.2"/>
<circle cx="536.7" cy="1212.3" r="7.2"/>
<circle cx="545.1" cy="1189.2" r="7.2"/>
<circle cx="540.9" cy="1169.3" r="7.2"/>
<circle cx="549.2" cy="1157.8" r="7.2"/>
<circle cx="555.5" cy="1155.7" r="7.2"/>
<circle cx="569.1" cy="1141.0" r="7.2"/>
<circle cx="561.8" cy="1134.8" r="7.2"/>
<circle cx="582.7" cy="1130.6" r="7.2"/>
<circle cx="574.4" cy="1117.0" r="7.2"/>
<circle cx="577.5" cy="1106.5" r="7.2"/>
<circle cx="584.9" cy="1102.3" r="7.2"/>
<circle cx="593.2" cy="1095.0" r="7.2"/>
<circle cx="602.6" cy="1086.6" r="7.2"/>
<circle cx="597.4" cy="1082.4" r="7.2"/>
<circle cx="614.2" cy="1071.9" r="7.2"/>
<circle cx="612.1" cy="1059.4" r="7.2"/>
<circle cx="607.9" cy="1046.8" r="7.2"/>
<circle cx="616.3" cy="1034.2" r="7.2"/>
<circle cx="528.0" cy="1225.0" r="7.2"/>
<circle cx="538.0" cy="1195.0" r="7.2"/>
<circle cx="548.0" cy="1178.0" r="7.2"/>
<circle cx="565.0" cy="1150.0" r="7.2"/>
<circle cx="588.0" cy="1112.0" r="7.2"/>
<circle cx="600.0" cy="1080.0" r="7.2"/>
<circle cx="690.2" cy="958.8" r="7.2"/>
<circle cx="627.8" cy="993.6" r="7.2"/>
<circle cx="648.6" cy="990.6" r="7.2"/>
<circle cx="661.5" cy="978.7" r="7.2"/>
<circle cx="665.4" cy="992.6" r="7.2"/>
<circle cx="640.7" cy="1007.4" r="7.2"/>
<circle cx="636.7" cy="1005.4" r="7.2"/>
<circle cx="655.5" cy="1010.4" r="7.2"/>
<circle cx="652.6" cy="1012.4" r="7.2"/>
<circle cx="669.4" cy="1001.5" r="7.2"/>
<circle cx="674.4" cy="1009.4" r="7.2"/>
<circle cx="681.3" cy="999.5" r="7.2"/>
<circle cx="687.3" cy="997.5" r="7.2"/>
<circle cx="694.2" cy="1001.5" r="7.2"/>
<circle cx="699.2" cy="1006.4" r="7.2"/>
<circle cx="631.7" cy="1019.3" r="7.2"/>
<circle cx="619.8" cy="1033.2" r="7.2"/>
<circle cx="624.8" cy="1042.1" r="7.2"/>
<circle cx="607.9" cy="1046.1" r="7.2"/>
<circle cx="611.9" cy="1059.0" r="7.2"/>
<circle cx="636.7" cy="1055.0" r="7.2"/>
<circle cx="615.9" cy="1071.9" r="7.2"/>
<circle cx="678.3" cy="1035.2" r="7.2"/>
<circle cx="604.0" cy="1085.8" r="7.2"/>
</g>
<path d="M222.5,1502.1 L224.5,1501.7 L226.5,1501.4 L228.5,1501.0 L230.5,1500.6 L232.5,1500.3 L234.5,1499.9 L236.5,1499.5 L238.5,1499.1 L240.5,1498.8 L242.5,1498.4 L244.5,1498.0 L246.5,1497.6 L248.5,1497.2 L250.5,1496.8 L252.5,1496.4 L254.5,1496.0 L256.5,1495.6 L258.5,1495.1 L260.5,1494.7 L262.5,1494.3 L264.5,1493.8 L266.5,1493.4 L268.5,1492.9 L270.5,1492.4 L272.5,1492.0 L274.5,1491.5 L276.5,1491.0 L278.5,1490.5 L280.5,1490.0 L282.5,1489.5 L284.5,1488.9 L286.5,1488.4 L288.5,1487.9 L290.5,1487.3 L292.5,1486.7 L294.5,1486.2 L296.5,1485.6 L298.5,1485.0 L300.5,1484.4 L302.5,1483.8 L304.5,1483.1 L306.5,1482.5 L308.5,1481.8 L310.5,1481.2 L312.5,1480.5 L314.5,1479.8 L316.5,1479.1 L318.5,1478.3 L320.5,1477.6 L322.5,1476.8 L324.5,1476.1 L326.5,1475.3 L328.5,1474.5 L330.5,1473.7 L332.5,1472.9 L334.5,1472.0 L336.5,1471.2 L338.5,1470.3 L340.5,1469.4 L342.5,1468.5 L344.5,1467.6 L346.5,1466.6 L348.5,1465.7 L350.5,1464.7 L352.5,1463.7 L354.5,1462.7 L356.5,1461.6 L358.5,1460.6 L360.5,1459.5 L362.5,1458.4 L364.5,1457.3 L366.5,1456.2 L368.5,1455.0 L370.5,1453.8 L372.5,1452.6 L374.5,1451.4 L376.5,1450.1 L378.5,1448.9 L380.5,1447.5 L382.5,1446.2 L384.5,1444.8 L386.5,1443.4 L388.5,1442.0 L390.5,1440.6 L392.5,1439.1 L394.5,1437.6 L396.5,1436.0 L398.5,1434.4 L400.5,1432.8 L402.5,1431.2 L404.5,1429.5 L406.5,1427.8 L408.5,1426.0 L410.5,1424.2 L412.5,1422.4 L414.5,1420.5 L416.5,1418.6 L418.5,1416.7 L420.5,1414.7 L422.5,1412.7 L424.5,1410.6 L426.5,1408.5 L428.5,1406.3 L430.5,1404.1 L432.5,1401.9 L434.5,1399.6 L436.5,1397.2 L438.5,1394.7 L440.5,1392.2 L442.5,1389.6 L444.5,1386.9 L446.5,1384.1 L448.5,1381.2 L450.5,1378.2 L452.5,1375.1 L454.5,1371.9 L456.5,1368.6 L458.5,1365.1 L460.5,1361.5 L462.5,1357.7 L464.5,1353.9 L466.5,1349.9 L468.5,1346.0 L470.5,1341.9 L472.5,1337.9 L474.5,1333.9 L476.5,1329.9 L478.5,1326.0 L480.5,1322.2 L482.5,1318.4 L484.5,1314.8 L486.5,1311.2 L488.5,1307.6 L490.5,1304.0 L492.5,1300.4 L494.5,1296.8 L496.5,1293.1 L498.5,1289.4 L500.5,1285.6 L502.5,1281.6 L504.5,1277.6 L506.5,1273.4 L508.5,1269.1 L510.5,1264.7 L512.5,1260.2 L514.5,1255.6 L516.5,1250.9 L518.5,1246.2 L520.5,1241.3 L522.5,1236.3 L524.5,1231.3 L526.5,1226.2 L528.5,1221.2 L530.5,1216.1 L532.5,1211.1 L534.5,1206.3 L536.5,1201.5 L538.5,1196.8 L540.5,1192.1 L542.5,1187.6 L544.5,1183.2 L546.5,1178.8 L548.5,1174.6 L550.5,1170.4 L552.5,1166.3 L554.5,1162.3 L556.5,1158.4 L558.5,1154.5 L560.5,1150.7 L562.5,1147.0 L564.5,1143.4 L566.5,1139.7 L568.5,1136.2 L570.5,1132.7 L572.5,1129.2 L574.5,1125.8 L576.5,1122.5 L578.5,1119.1 L580.5,1115.7 L582.5,1112.3 L584.5,1108.9 L586.5,1105.4 L588.5,1101.8 L590.5,1098.1 L592.5,1094.3 L594.5,1090.4 L596.5,1086.3 L598.5,1082.1 L600.5,1077.7 L602.5,1073.3 L604.5,1068.8 L606.5,1064.4 L608.5,1059.9 L610.5,1055.6 L612.5,1051.4 L614.5,1047.3 L616.5,1043.4 L618.5,1039.7 L620.5,1036.3 L622.5,1033.2 L624.5,1030.3 L626.5,1027.7 L628.5,1025.3 L630.5,1023.1 L632.5,1021.1 L634.5,1019.3 L636.5,1017.7 L638.5,1016.2 L640.5,1014.9 L642.5,1013.7 L644.5,1012.6 L646.5,1011.6 L648.5,1010.6 L650.5,1009.8 L652.5,1009.0 L654.5,1008.2 L656.5,1007.4 L658.5,1006.6 L660.5,1005.8 L662.5,1005.0 L664.5,1004.2 L666.5,1003.4 L668.5,1002.6 L670.5,1001.7 L672.5,1000.9 L674.5,1000.1 L676.5,999.4 L678.5,998.6 L680.5,997.9 L682.5,997.3 L684.5,996.7 L686.5,996.2 L688.5,995.7 L690.5,995.3 L692.5,994.9 L694.5,994.7 L696.5,994.5 L698.5,994.5 L699.2,994.5" stroke="#DDBC42" stroke-width="1.9" fill="none"/>
<g stroke="#8F2C9C" stroke-width="2.05" fill="none">
<circle cx="730.9" cy="957.9" r="7.2"/>
<circle cx="725.0" cy="970.7" r="7.2"/>
<circle cx="740.8" cy="961.8" r="7.2"/>
<circle cx="750.7" cy="971.7" r="7.2"/>
<circle cx="756.7" cy="981.7" r="7.2"/>
<circle cx="761.6" cy="989.6" r="7.2"/>
<circle cx="766.6" cy="1011.4" r="7.2"/>
<circle cx="776.5" cy="1022.3" r="7.2"/>
<circle cx="781.5" cy="1032.2" r="7.2"/>
<circle cx="796.3" cy="1027.3" r="7.2"/>
<circle cx="802.3" cy="1032.2" r="7.2"/>
<circle cx="792.4" cy="1041.1" r="7.2"/>
<circle cx="786.4" cy="1050.1" r="7.2"/>
<circle cx="808.3" cy="1065.9" r="7.2"/>
<circle cx="826.1" cy="1069.9" r="7.2"/>
<circle cx="834.0" cy="1057.0" r="7.2"/>
<circle cx="839.0" cy="1071.9" r="7.2"/>
<circle cx="812.2" cy="1078.8" r="7.2"/>
<circle cx="817.2" cy="1084.8" r="7.2"/>
<circle cx="844.0" cy="1090.7" r="7.2"/>
<circle cx="853.9" cy="1096.7" r="7.2"/>
<circle cx="858.8" cy="1103.6" r="7.2"/>
<circle cx="863.8" cy="1107.6" r="7.2"/>
<circle cx="869.7" cy="1138.3" r="7.2"/>
<circle cx="879.6" cy="1144.3" r="7.2"/>
<circle cx="889.6" cy="1148.3" r="7.2"/>
<circle cx="895.5" cy="1156.2" r="7.2"/>
<circle cx="874.7" cy="1157.2" r="7.2"/>
<circle cx="883.6" cy="1165.1" r="7.2"/>
<circle cx="899.5" cy="1184.9" r="7.2"/>
<circle cx="909.4" cy="1184.0" r="7.2"/>
<circle cx="904.4" cy="1184.9" r="7.2"/>
<circle cx="955.0" cy="1226.6" r="7.2"/>
<circle cx="947.1" cy="1246.4" r="7.2"/>
<circle cx="948.1" cy="1249.8" r="7.2"/>
<circle cx="917.3" cy="1270.7" r="7.2"/>
<circle cx="935.2" cy="1279.6" r="7.2"/>
<circle cx="942.1" cy="1271.7" r="7.2"/>
<circle cx="960.0" cy="1277.6" r="7.2"/>
<circle cx="922.3" cy="1307.3" r="7.2"/>
<circle cx="977.8" cy="1318.3" r="7.2"/>
<circle cx="965.9" cy="1353.0" r="7.2"/>
<circle cx="1007.6" cy="1359.9" r="7.2"/>
<circle cx="929.2" cy="1376.8" r="7.2"/>
<circle cx="989.7" cy="1398.6" r="7.2"/>
<circle cx="983.8" cy="1432.3" r="7.2"/>
<circle cx="1019.5" cy="1424.4" r="7.2"/>
<circle cx="995.7" cy="1490.8" r="7.2"/>
</g>
<path d="M726.9,955.4 L728.9,957.7 L730.9,960.0 L732.9,962.3 L734.9,964.6 L736.9,966.9 L738.9,969.2 L740.9,971.4 L742.9,973.7 L744.9,975.9 L746.9,978.2 L748.9,980.4 L750.9,982.6 L752.9,984.8 L754.9,987.0 L756.9,989.2 L758.9,991.4 L760.9,993.6 L762.9,995.8 L764.9,998.0 L766.9,1000.2 L768.9,1002.4 L770.9,1004.6 L772.9,1006.8 L774.9,1009.0 L776.9,1011.2 L778.9,1013.4 L780.9,1015.6 L782.9,1017.8 L784.9,1020.0 L786.9,1022.2 L788.9,1024.4 L790.9,1026.7 L792.9,1028.9 L794.9,1031.1 L796.9,1033.4 L798.9,1035.6 L800.9,1037.9 L802.9,1040.2 L804.9,1042.4 L806.9,1044.7 L808.9,1047.0 L810.9,1049.4 L812.9,1051.7 L814.9,1054.0 L816.9,1056.4 L818.9,1058.8 L820.9,1061.1 L822.9,1063.5 L824.9,1066.0 L826.9,1068.4 L828.9,1070.8 L830.9,1073.3 L832.9,1075.8 L834.9,1078.3 L836.9,1080.8 L838.9,1083.4 L840.9,1086.0 L842.9,1088.6 L844.9,1091.2 L846.9,1093.8 L848.9,1096.5 L850.9,1099.2 L852.9,1102.0 L854.9,1104.8 L856.9,1107.6 L858.9,1110.4 L860.9,1113.4 L862.9,1116.3 L864.9,1119.3 L866.9,1122.4 L868.9,1125.5 L870.9,1128.7 L872.9,1131.9 L874.9,1135.2 L876.9,1138.5 L878.9,1142.0 L880.9,1145.4 L882.9,1149.0 L884.9,1152.6 L886.9,1156.3 L888.9,1160.1 L890.9,1164.0 L892.9,1167.9 L894.9,1171.9 L896.9,1176.0 L898.9,1180.2 L900.9,1184.5 L902.9,1188.9 L904.9,1193.3 L906.9,1197.9 L908.9,1202.6 L910.9,1207.3 L912.9,1212.1 L914.9,1217.0 L916.9,1221.9 L918.9,1226.9 L920.9,1231.8 L922.9,1236.7 L924.9,1241.6 L926.9,1246.5 L928.9,1251.3 L930.9,1256.1 L932.9,1260.7 L934.9,1265.4 L936.9,1270.0 L938.9,1274.6 L940.9,1279.1 L942.9,1283.6 L944.9,1288.0 L946.9,1292.5 L948.9,1296.9 L950.9,1301.3 L952.9,1305.7 L954.9,1310.1 L956.9,1314.5 L958.9,1318.9 L960.9,1323.3 L962.9,1327.7 L964.9,1332.1 L966.9,1336.5 L968.9,1340.8 L970.9,1345.1 L972.9,1349.4 L974.9,1353.7 L976.9,1357.9 L978.9,1362.1 L980.9,1366.2 L982.9,1370.3 L984.9,1374.4 L986.9,1378.3 L988.9,1382.3 L990.9,1386.1 L992.9,1389.9 L994.9,1393.7 L996.9,1397.4 L998.9,1401.0 L1000.9,1404.6 L1002.9,1408.1 L1004.9,1411.5 L1006.9,1414.9 L1008.9,1418.1 L1010.9,1421.3 L1012.9,1424.5 L1014.9,1427.5 L1016.9,1430.5 L1018.9,1433.4 L1019.5,1434.2" stroke="#8F2C9C" stroke-width="1.9" fill="none"/>
<g stroke="#7A59BE" stroke-width="2.05" fill="none">
<circle cx="1013.5" cy="958.8" r="7.2"/>
<circle cx="990.7" cy="998.5" r="7.2"/>
<circle cx="1007.6" cy="1003.5" r="7.2"/>
<circle cx="995.7" cy="1012.4" r="7.2"/>
<circle cx="983.8" cy="1017.3" r="7.2"/>
<circle cx="977.8" cy="1023.3" r="7.2"/>
<circle cx="1001.6" cy="1041.1" r="7.2"/>
<circle cx="971.9" cy="1071.9" r="7.2"/>
<circle cx="965.9" cy="1114.5" r="7.2"/>
<circle cx="955.0" cy="1143.3" r="7.2"/>
<circle cx="960.0" cy="1149.2" r="7.2"/>
<circle cx="941.1" cy="1153.2" r="7.2"/>
<circle cx="935.2" cy="1160.1" r="7.2"/>
<circle cx="948.1" cy="1163.1" r="7.2"/>
<circle cx="875.7" cy="1197.8" r="7.2"/>
<circle cx="692.2" cy="1461.1" r="7.2"/>
<circle cx="671.4" cy="1484.9" r="7.2"/>
<circle cx="710.1" cy="1477.9" r="7.2"/>
<circle cx="725.9" cy="1485.8" r="7.2"/>
<circle cx="739.8" cy="1466.0" r="7.2"/>
<circle cx="752.7" cy="1469.0" r="7.2"/>
<circle cx="764.6" cy="1490.8" r="7.2"/>
<circle cx="775.5" cy="1467.0" r="7.2"/>
<circle cx="785.4" cy="1446.2" r="7.2"/>
<circle cx="795.4" cy="1359.9" r="7.2"/>
<circle cx="805.3" cy="1309.3" r="7.2"/>
<circle cx="814.2" cy="1324.2" r="7.2"/>
<circle cx="823.1" cy="1311.3" r="7.2"/>
<circle cx="831.1" cy="1353.0" r="7.2"/>
<circle cx="839.0" cy="1265.7" r="7.2"/>
<circle cx="846.9" cy="1276.6" r="7.2"/>
<circle cx="854.9" cy="1247.9" r="7.2"/>
<circle cx="861.8" cy="1245.9" r="7.2"/>
<circle cx="868.7" cy="1275.6" r="7.2"/>
<circle cx="882.6" cy="1251.8" r="7.2"/>
<circle cx="889.6" cy="1255.8" r="7.2"/>
<circle cx="896.5" cy="1239.9" r="7.2"/>
<circle cx="909.4" cy="1257.8" r="7.2"/>
<circle cx="903.5" cy="1275.6" r="7.2"/>
<circle cx="916.3" cy="1285.5" r="7.2"/>
<circle cx="923.3" cy="1262.7" r="7.2"/>
<circle cx="929.2" cy="1299.4" r="7.2"/>
</g>
<path d="M670.4,1521.6 L672.4,1519.8 L674.4,1518.1 L676.4,1516.3 L678.4,1514.6 L680.4,1512.8 L682.4,1511.0 L684.4,1509.2 L686.4,1507.4 L688.4,1505.6 L690.4,1503.8 L692.4,1501.9 L694.4,1500.1 L696.4,1498.2 L698.4,1496.4 L700.4,1494.5 L702.4,1492.6 L704.4,1490.7 L706.4,1488.8 L708.4,1486.9 L710.4,1485.0 L712.4,1483.0 L714.4,1481.1 L716.4,1479.1 L718.4,1477.1 L720.4,1475.1 L722.4,1473.1 L724.4,1471.0 L726.4,1469.0 L728.4,1466.9 L730.4,1464.9 L732.4,1462.8 L734.4,1460.7 L736.4,1458.5 L738.4,1456.4 L740.4,1454.2 L742.4,1452.1 L744.4,1449.9 L746.4,1447.7 L748.4,1445.4 L750.4,1443.2 L752.4,1440.9 L754.4,1438.6 L756.4,1436.3 L758.4,1434.0 L760.4,1431.7 L762.4,1429.3 L764.4,1426.9 L766.4,1424.5 L768.4,1422.1 L770.4,1419.6 L772.4,1417.2 L774.4,1414.7 L776.4,1412.2 L778.4,1409.6 L780.4,1407.1 L782.4,1404.5 L784.4,1401.9 L786.4,1399.3 L788.4,1396.6 L790.4,1394.0 L792.4,1391.3 L794.4,1388.6 L796.4,1385.9 L798.4,1383.1 L800.4,1380.4 L802.4,1377.6 L804.4,1374.9 L806.4,1372.1 L808.4,1369.3 L810.4,1366.4 L812.4,1363.6 L814.4,1360.8 L816.4,1357.9 L818.4,1355.1 L820.4,1352.2 L822.4,1349.3 L824.4,1346.4 L826.4,1343.5 L828.4,1340.7 L830.4,1337.7 L832.4,1334.8 L834.4,1331.9 L836.4,1329.0 L838.4,1326.1 L840.4,1323.2 L842.4,1320.3 L844.4,1317.3 L846.4,1314.4 L848.4,1311.5 L850.4,1308.6 L852.4,1305.7 L854.4,1302.8 L856.4,1299.8 L858.4,1296.9 L860.4,1294.0 L862.4,1291.2 L864.4,1288.3 L866.4,1285.4 L868.4,1282.5 L870.4,1279.6 L872.4,1276.8 L874.4,1273.9 L876.4,1271.1 L878.4,1268.3 L880.4,1265.5 L882.4,1262.7 L884.4,1259.9 L886.4,1257.1 L888.4,1254.4 L890.4,1251.6 L892.4,1248.9 L894.4,1246.2 L896.4,1243.5 L898.4,1240.8 L900.4,1238.2 L902.4,1235.5 L904.4,1232.8 L906.4,1230.1 L908.4,1227.4 L910.4,1224.6 L912.4,1221.9 L914.4,1219.1 L916.4,1216.2 L918.4,1213.3 L920.4,1210.4 L922.4,1207.4 L924.4,1204.3 L926.4,1201.2 L928.4,1198.0 L930.4,1194.7 L932.4,1191.3 L934.4,1187.9 L936.4,1184.3 L938.4,1180.7 L940.4,1176.9 L942.4,1173.0 L944.4,1169.1 L946.4,1164.9 L948.4,1160.7 L950.4,1156.3 L952.4,1151.8 L954.4,1147.2 L956.4,1142.4 L958.4,1137.4 L960.4,1132.3 L962.4,1127.0 L964.4,1121.5 L966.4,1115.9 L968.4,1110.0 L970.4,1104.1 L972.4,1097.9 L974.4,1091.6 L976.4,1085.2 L978.4,1078.7 L980.4,1072.2 L982.4,1065.5 L984.4,1058.9 L986.4,1052.2 L988.4,1045.5 L990.4,1038.8 L992.4,1032.2 L994.4,1025.6 L996.4,1019.1 L998.4,1012.7 L1000.4,1006.4 L1002.4,1000.2 L1004.4,994.2 L1006.4,988.3 L1008.4,982.5 L1010.4,975.5 L1012.4,965.9 L1013.5,959.0" stroke="#7A59BE" stroke-width="1.9" fill="none"/>
</g>
<rect x="166.1" y="852.4" width="861.1999999999999" height="692.6" fill="none" stroke="#000" stroke-width="2.2"/>
<line x1="166.1" y1="1491.9" x2="179.6" y2="1491.9" stroke="#000" stroke-width="2"/>
<text x="149.7" y="1505.5" font-size="36" text-anchor="end" fill="#000" >0.0</text>
<line x1="166.1" y1="1358.7" x2="173.1" y2="1358.7" stroke="#000" stroke-width="2"/>
<line x1="166.1" y1="1225.4" x2="179.6" y2="1225.4" stroke="#000" stroke-width="2"/>
<text x="149.7" y="1239.0" font-size="36" text-anchor="end" fill="#000" >0.5</text>
<line x1="166.1" y1="1092.2" x2="173.1" y2="1092.2" stroke="#000" stroke-width="2"/>
<line x1="166.1" y1="958.9" x2="179.6" y2="958.9" stroke="#000" stroke-width="2"/>
<text x="149.7" y="972.5" font-size="36" text-anchor="end" fill="#000" >1.0</text>
<line x1="223.4" y1="1545.0" x2="223.4" y2="1538.0" stroke="#000" stroke-width="2"/>
<line x1="257.0" y1="1545.0" x2="257.0" y2="1538.0" stroke="#000" stroke-width="2"/>
<line x1="280.9" y1="1545.0" x2="280.9" y2="1538.0" stroke="#000" stroke-width="2"/>
<line x1="299.4" y1="1545.0" x2="299.4" y2="1538.0" stroke="#000" stroke-width="2"/>
<line x1="314.5" y1="1545.0" x2="314.5" y2="1538.0" stroke="#000" stroke-width="2"/>
<line x1="327.2" y1="1545.0" x2="327.2" y2="1538.0" stroke="#000" stroke-width="2"/>
<line x1="338.3" y1="1545.0" x2="338.3" y2="1538.0" stroke="#000" stroke-width="2"/>
<line x1="348.1" y1="1545.0" x2="348.1" y2="1538.0" stroke="#000" stroke-width="2"/>
<text x="166.0" y="1593.0" font-size="36" text-anchor="middle">10<tspan dy="-12.2" font-size="21">0</tspan></text>
<line x1="356.8" y1="1545.0" x2="356.8" y2="1531.5" stroke="#000" stroke-width="2"/>
<line x1="414.2" y1="1545.0" x2="414.2" y2="1538.0" stroke="#000" stroke-width="2"/>
<line x1="447.8" y1="1545.0" x2="447.8" y2="1538.0" stroke="#000" stroke-width="2"/>
<line x1="471.7" y1="1545.0" x2="471.7" y2="1538.0" stroke="#000" stroke-width="2"/>
<line x1="490.2" y1="1545.0" x2="490.2" y2="1538.0" stroke="#000" stroke-width="2"/>
<line x1="505.3" y1="1545.0" x2="505.3" y2="1538.0" stroke="#000" stroke-width="2"/>
<line x1="518.0" y1="1545.0" x2="518.0" y2="1538.0" stroke="#000" stroke-width="2"/>
<line x1="529.1" y1="1545.0" x2="529.1" y2="1538.0" stroke="#000" stroke-width="2"/>
<line x1="538.9" y1="1545.0" x2="538.9" y2="1538.0" stroke="#000" stroke-width="2"/>
<text x="356.8" y="1593.0" font-size="36" text-anchor="middle">10<tspan dy="-12.2" font-size="21">1</tspan></text>
<line x1="547.6" y1="1545.0" x2="547.6" y2="1531.5" stroke="#000" stroke-width="2"/>
<line x1="605.0" y1="1545.0" x2="605.0" y2="1538.0" stroke="#000" stroke-width="2"/>
<line x1="638.6" y1="1545.0" x2="638.6" y2="1538.0" stroke="#000" stroke-width="2"/>
<line x1="662.5" y1="1545.0" x2="662.5" y2="1538.0" stroke="#000" stroke-width="2"/>
<line x1="681.0" y1="1545.0" x2="681.0" y2="1538.0" stroke="#000" stroke-width="2"/>
<line x1="696.1" y1="1545.0" x2="696.1" y2="1538.0" stroke="#000" stroke-width="2"/>
<line x1="708.8" y1="1545.0" x2="708.8" y2="1538.0" stroke="#000" stroke-width="2"/>
<line x1="719.9" y1="1545.0" x2="719.9" y2="1538.0" stroke="#000" stroke-width="2"/>
<line x1="729.7" y1="1545.0" x2="729.7" y2="1538.0" stroke="#000" stroke-width="2"/>
<text x="547.6" y="1593.0" font-size="36" text-anchor="middle">10<tspan dy="-12.2" font-size="21">2</tspan></text>
<line x1="738.4" y1="1545.0" x2="738.4" y2="1531.5" stroke="#000" stroke-width="2"/>
<line x1="795.8" y1="1545.0" x2="795.8" y2="1538.0" stroke="#000" stroke-width="2"/>
<line x1="829.4" y1="1545.0" x2="829.4" y2="1538.0" stroke="#000" stroke-width="2"/>
<line x1="853.3" y1="1545.0" x2="853.3" y2="1538.0" stroke="#000" stroke-width="2"/>
<line x1="871.8" y1="1545.0" x2="871.8" y2="1538.0" stroke="#000" stroke-width="2"/>
<line x1="886.9" y1="1545.0" x2="886.9" y2="1538.0" stroke="#000" stroke-width="2"/>
<line x1="899.6" y1="1545.0" x2="899.6" y2="1538.0" stroke="#000" stroke-width="2"/>
<line x1="910.7" y1="1545.0" x2="910.7" y2="1538.0" stroke="#000" stroke-width="2"/>
<line x1="920.5" y1="1545.0" x2="920.5" y2="1538.0" stroke="#000" stroke-width="2"/>
<text x="738.4" y="1593.0" font-size="36" text-anchor="middle">10<tspan dy="-12.2" font-size="21">3</tspan></text>
<line x1="929.2" y1="1545.0" x2="929.2" y2="1531.5" stroke="#000" stroke-width="2"/>
<line x1="986.6" y1="1545.0" x2="986.6" y2="1538.0" stroke="#000" stroke-width="2"/>
<line x1="1020.2" y1="1545.0" x2="1020.2" y2="1538.0" stroke="#000" stroke-width="2"/>
<text x="929.2" y="1593.0" font-size="36" text-anchor="middle">10<tspan dy="-12.2" font-size="21">4</tspan></text>
<text x="596.7" y="1642.2" font-size="41" text-anchor="middle" fill="#000" >Time (ps)</text>
<text transform="translate(71.3,1319.7) rotate(-90)" font-size="41"><tspan style="font-family:&quot;Liberation Serif&quot;,serif">Δ</tspan><tspan dx="-2.5">A/A (Norm.)</tspan></text>
<text x="0.1" y="894.8" font-size="49" font-weight="bold" fill="#231815">c</text>
<circle cx="189.9" cy="883.6" r="7.2" stroke="#D65B50" stroke-width="2.0" fill="none"/>
<circle cx="189.9" cy="935.7" r="7.2" stroke="#DDBC42" stroke-width="2.0" fill="none"/>
<circle cx="711.2" cy="883.6" r="7.2" stroke="#8F2C9C" stroke-width="2.0" fill="none"/>
<circle cx="711.2" cy="935.7" r="7.2" stroke="#7A59BE" stroke-width="2.0" fill="none"/>
<text x="237.2" y="896.0" font-size="37" fill="#231815">S</text>
<text transform="translate(263.4,908.0) scale(1,1.5)" font-size="20" fill="#231815">1</text>
<text x="274.4" y="896.0" font-size="37" fill="#231815">-NaGdF</text>
<text x="405.9" y="900.6" font-size="20" fill="#231815">4</text>
<text x="417.1" y="896.0" font-size="37" fill="#231815">@DPACPPOA</text>
<text x="237.2" y="946.7" font-size="37" fill="#231815">T</text>
<text transform="translate(261.3,958.7) scale(1,1.5)" font-size="20" fill="#231815">1</text>
<text x="272.3" y="946.7" font-size="37" fill="#231815">-NaGdF</text>
<text x="403.9" y="951.3" font-size="20" fill="#231815">4</text>
<text x="415.0" y="946.7" font-size="37" fill="#231815">@DPACPPOA</text>
<text x="759.4" y="896.0" font-size="37" fill="#231815">S</text>
<text transform="translate(785.6,908.0) scale(1,1.5)" font-size="20" fill="#231815">1</text>
<text x="796.6" y="896.0" font-size="37" fill="#231815">-DPACPPOA</text>
<text x="759.4" y="946.7" font-size="37" fill="#231815">T</text>
<text transform="translate(783.5,958.7) scale(1,1.5)" font-size="20" fill="#231815">1</text>
<text x="794.5" y="946.7" font-size="37" fill="#231815">-DPACPPOA</text>
<text x="562.2" y="1241.2" font-size="36" font-style="italic" style="font-family:&quot;Liberation Serif&quot;,serif">Φ</text>
<text x="587.2" y="1250.8" font-size="25.5">ISC</text>
<text x="638.7" y="1245.0" font-size="36">=</text>
<text x="669.7" y="1245.0" font-size="36.6">97.1%</text>
<text x="313.3" y="1514.7" font-size="34" style="font-family:&quot;Liberation Serif&quot;,serif">τ</text>
<text x="329.3" y="1523.9" font-size="24">T</text>
<text x="344.8" y="1532.3" font-size="13">1</text>
<text x="364.3" y="1519.5" font-size="36">=</text>
<text x="395.8" y="1518.5" font-size="37">473.7 ps</text>
<text x="777.8" y="1514.7" font-size="34" style="font-family:&quot;Liberation Serif&quot;,serif">τ</text>
<text x="793.8" y="1523.9" font-size="24">T</text>
<text x="809.3" y="1532.3" font-size="13">1</text>
<text x="828.8" y="1519.5" font-size="36">=</text>
<text x="860.3" y="1518.5" font-size="37">16.9 ns</text>
<g clip-path="url(#clipd)">
<clipPath id="clipd"><rect x="1280.6" y="848.4" width="861.0" height="692.1999999999999"/></clipPath>
<g stroke="#D65B50" stroke-width="2.05" fill="none">
<circle cx="1333.0" cy="954.9" r="7.2"/>
<circle cx="1354.3" cy="994.7" r="7.2"/>
<circle cx="1389.3" cy="1073.7" r="7.2"/>
<circle cx="1411.6" cy="1131.0" r="7.2"/>
<circle cx="1438.7" cy="1163.8" r="7.2"/>
<circle cx="1451.4" cy="1191.4" r="7.2"/>
<circle cx="1457.2" cy="1204.2" r="7.2"/>
<circle cx="1468.8" cy="1230.7" r="7.2"/>
<circle cx="1480.5" cy="1246.5" r="7.2"/>
<circle cx="1492.2" cy="1265.0" r="7.2"/>
<circle cx="1501.7" cy="1277.7" r="7.2"/>
<circle cx="1513.4" cy="1299.0" r="7.2"/>
<circle cx="1522.9" cy="1324.4" r="7.2"/>
<circle cx="1533.5" cy="1343.5" r="7.2"/>
<circle cx="1537.8" cy="1350.9" r="7.2"/>
<circle cx="1548.4" cy="1356.2" r="7.2"/>
<circle cx="1563.3" cy="1374.3" r="7.2"/>
<circle cx="1572.8" cy="1389.1" r="7.2"/>
<circle cx="1581.3" cy="1397.6" r="7.2"/>
<circle cx="1586.6" cy="1399.7" r="7.2"/>
<circle cx="1594.0" cy="1397.6" r="7.2"/>
<circle cx="1600.4" cy="1399.7" r="7.2"/>
<circle cx="1605.7" cy="1404.0" r="7.2"/>
<circle cx="1612.1" cy="1410.4" r="7.2"/>
<circle cx="1621.6" cy="1427.3" r="7.2"/>
<circle cx="1636.5" cy="1424.1" r="7.2"/>
<circle cx="1640.7" cy="1430.5" r="7.2"/>
<circle cx="1659.8" cy="1436.9" r="7.2"/>
<circle cx="1668.3" cy="1443.2" r="7.2"/>
<circle cx="1677.8" cy="1445.4" r="7.2"/>
<circle cx="1687.4" cy="1441.1" r="7.2"/>
<circle cx="1702.2" cy="1441.1" r="7.2"/>
<circle cx="1711.8" cy="1452.8" r="7.2"/>
<circle cx="1720.3" cy="1461.3" r="7.2"/>
<circle cx="1735.1" cy="1462.3" r="7.2"/>
<circle cx="1721.0" cy="1462.3" r="7.2"/>
<circle cx="1748.4" cy="1459.4" r="7.2"/>
<circle cx="1767.0" cy="1472.1" r="7.2"/>
<circle cx="1775.9" cy="1477.0" r="7.2"/>
<circle cx="1784.7" cy="1479.9" r="7.2"/>
<circle cx="1796.5" cy="1481.9" r="7.2"/>
<circle cx="1804.3" cy="1485.8" r="7.2"/>
<circle cx="1818.0" cy="1482.9" r="7.2"/>
<circle cx="1827.8" cy="1486.8" r="7.2"/>
</g>
<path d="M1333.0,952.3 L1335.0,955.9 L1337.0,959.6 L1339.0,963.3 L1341.0,967.2 L1343.0,971.1 L1345.0,975.0 L1347.0,979.1 L1349.0,983.2 L1351.0,987.3 L1353.0,991.5 L1355.0,995.7 L1357.0,1000.0 L1359.0,1004.3 L1361.0,1008.6 L1363.0,1013.0 L1365.0,1017.3 L1367.0,1021.7 L1369.0,1026.1 L1371.0,1030.5 L1373.0,1034.9 L1375.0,1039.3 L1377.0,1043.7 L1379.0,1048.1 L1381.0,1052.4 L1383.0,1056.7 L1385.0,1061.0 L1387.0,1065.3 L1389.0,1069.5 L1391.0,1073.7 L1393.0,1077.9 L1395.0,1082.0 L1397.0,1086.1 L1399.0,1090.2 L1401.0,1094.2 L1403.0,1098.3 L1405.0,1102.3 L1407.0,1106.2 L1409.0,1110.2 L1411.0,1114.1 L1413.0,1118.0 L1415.0,1121.9 L1417.0,1125.8 L1419.0,1129.7 L1421.0,1133.6 L1423.0,1137.4 L1425.0,1141.2 L1427.0,1145.1 L1429.0,1148.9 L1431.0,1152.7 L1433.0,1156.5 L1435.0,1160.4 L1437.0,1164.2 L1439.0,1168.0 L1441.0,1171.8 L1443.0,1175.6 L1445.0,1179.4 L1447.0,1183.3 L1449.0,1187.1 L1451.0,1191.0 L1453.0,1194.8 L1455.0,1198.7 L1457.0,1202.5 L1459.0,1206.4 L1461.0,1210.2 L1463.0,1214.0 L1465.0,1217.8 L1467.0,1221.6 L1469.0,1225.3 L1471.0,1229.0 L1473.0,1232.6 L1475.0,1236.3 L1477.0,1239.8 L1479.0,1243.4 L1481.0,1246.9 L1483.0,1250.4 L1485.0,1253.8 L1487.0,1257.2 L1489.0,1260.6 L1491.0,1263.9 L1493.0,1267.2 L1495.0,1270.5 L1497.0,1273.7 L1499.0,1277.0 L1501.0,1280.2 L1503.0,1283.4 L1505.0,1286.6 L1507.0,1289.8 L1509.0,1293.1 L1511.0,1296.3 L1513.0,1299.5 L1515.0,1302.7 L1517.0,1306.0 L1519.0,1309.2 L1521.0,1312.4 L1523.0,1315.7 L1525.0,1318.9 L1527.0,1322.1 L1529.0,1325.3 L1531.0,1328.5 L1533.0,1331.6 L1535.0,1334.7 L1537.0,1337.8 L1539.0,1340.9 L1541.0,1343.9 L1543.0,1346.8 L1545.0,1349.7 L1547.0,1352.5 L1549.0,1355.3 L1551.0,1358.0 L1553.0,1360.6 L1555.0,1363.2 L1557.0,1365.7 L1559.0,1368.1 L1561.0,1370.4 L1563.0,1372.6 L1565.0,1374.8 L1567.0,1376.9 L1569.0,1378.9 L1571.0,1380.9 L1573.0,1382.8 L1575.0,1384.7 L1577.0,1386.5 L1579.0,1388.2 L1581.0,1389.9 L1583.0,1391.6 L1585.0,1393.2 L1587.0,1394.7 L1589.0,1396.3 L1591.0,1397.7 L1593.0,1399.2 L1595.0,1400.6 L1597.0,1402.0 L1599.0,1403.3 L1601.0,1404.7 L1603.0,1406.0 L1605.0,1407.3 L1607.0,1408.5 L1609.0,1409.8 L1611.0,1411.0 L1613.0,1412.2 L1615.0,1413.4 L1617.0,1414.5 L1619.0,1415.6 L1621.0,1416.8 L1623.0,1417.9 L1625.0,1418.9 L1627.0,1420.0 L1629.0,1421.0 L1631.0,1422.1 L1633.0,1423.1 L1635.0,1424.1 L1637.0,1425.0 L1639.0,1426.0 L1641.0,1426.9 L1643.0,1427.9 L1645.0,1428.8 L1647.0,1429.7 L1649.0,1430.6 L1651.0,1431.5 L1653.0,1432.4 L1655.0,1433.2 L1657.0,1434.1 L1659.0,1434.9 L1661.0,1435.8 L1663.0,1436.6 L1665.0,1437.4 L1667.0,1438.2 L1669.0,1439.0 L1671.0,1439.8 L1673.0,1440.6 L1675.0,1441.4 L1677.0,1442.2 L1679.0,1443.0 L1681.0,1443.8 L1683.0,1444.6 L1685.0,1445.3 L1687.0,1446.1 L1689.0,1446.9 L1691.0,1447.7 L1693.0,1448.4 L1695.0,1449.2 L1697.0,1450.0 L1699.0,1450.7 L1701.0,1451.5 L1703.0,1452.2 L1705.0,1453.0 L1707.0,1453.7 L1709.0,1454.4 L1711.0,1455.2 L1713.0,1455.9 L1715.0,1456.6 L1717.0,1457.4 L1719.0,1458.1 L1721.0,1458.8 L1723.0,1459.5 L1725.0,1460.2 L1727.0,1460.9 L1729.0,1461.6 L1731.0,1462.3 L1733.0,1462.9 L1735.0,1463.6 L1737.0,1464.3 L1739.0,1464.9 L1741.0,1465.6 L1743.0,1466.2 L1745.0,1466.9 L1747.0,1467.5 L1749.0,1468.1 L1751.0,1468.7 L1753.0,1469.3 L1755.0,1469.9 L1757.0,1470.5 L1759.0,1471.1 L1761.0,1471.7 L1763.0,1472.3 L1765.0,1472.8 L1767.0,1473.4 L1769.0,1473.9 L1771.0,1474.4 L1773.0,1474.9 L1775.0,1475.5 L1777.0,1476.0 L1779.0,1476.4 L1781.0,1476.9 L1783.0,1477.4 L1785.0,1477.8 L1787.0,1478.3 L1789.0,1478.7 L1791.0,1479.2 L1793.0,1479.6 L1795.0,1480.0 L1797.0,1480.4 L1799.0,1480.8 L1801.0,1481.1 L1803.0,1481.5 L1805.0,1481.8 L1807.0,1482.2 L1809.0,1482.5 L1811.0,1482.8 L1813.0,1483.1 L1815.0,1483.4 L1817.0,1483.6 L1819.0,1483.9 L1821.0,1484.1 L1823.0,1484.3 L1825.0,1484.6 L1827.0,1484.8 L1827.8,1484.8" stroke="#D65B50" stroke-width="1.9" fill="none"/>
<g stroke="#DDBC42" stroke-width="2.05" fill="none">
<circle cx="1289.5" cy="1480.4" r="7.2"/>
<circle cx="1298.0" cy="1483.5" r="7.2"/>
<circle cx="1306.5" cy="1485.7" r="7.2"/>
<circle cx="1315.0" cy="1487.8" r="7.2"/>
<circle cx="1322.4" cy="1485.7" r="7.2"/>
<circle cx="1329.9" cy="1477.2" r="7.2"/>
<circle cx="1336.2" cy="1476.1" r="7.2"/>
<circle cx="1342.6" cy="1479.3" r="7.2"/>
<circle cx="1349.0" cy="1482.5" r="7.2"/>
<circle cx="1355.3" cy="1483.5" r="7.2"/>
<circle cx="1361.7" cy="1482.5" r="7.2"/>
<circle cx="1368.1" cy="1482.5" r="7.2"/>
<circle cx="1374.4" cy="1480.4" r="7.2"/>
<circle cx="1380.8" cy="1477.2" r="7.2"/>
<circle cx="1387.2" cy="1476.1" r="7.2"/>
<circle cx="1393.5" cy="1474.0" r="7.2"/>
<circle cx="1398.8" cy="1471.9" r="7.2"/>
<circle cx="1405.2" cy="1474.0" r="7.2"/>
<circle cx="1411.6" cy="1470.8" r="7.2"/>
<circle cx="1417.9" cy="1467.6" r="7.2"/>
<circle cx="1424.3" cy="1466.6" r="7.2"/>
<circle cx="1430.6" cy="1464.5" r="7.2"/>
<circle cx="1437.0" cy="1461.3" r="7.2"/>
<circle cx="1441.3" cy="1454.9" r="7.2"/>
<circle cx="1447.6" cy="1457.0" r="7.2"/>
<circle cx="1454.0" cy="1451.7" r="7.2"/>
<circle cx="1460.4" cy="1444.3" r="7.2"/>
<circle cx="1466.7" cy="1439.0" r="7.2"/>
<circle cx="1472.0" cy="1442.2" r="7.2"/>
<circle cx="1475.2" cy="1433.7" r="7.2"/>
<circle cx="1481.6" cy="1427.3" r="7.2"/>
<circle cx="1487.9" cy="1423.1" r="7.2"/>
<circle cx="1492.2" cy="1416.7" r="7.2"/>
<circle cx="1498.5" cy="1412.5" r="7.2"/>
<circle cx="1504.9" cy="1408.2" r="7.2"/>
<circle cx="1508.1" cy="1401.9" r="7.2"/>
<circle cx="1513.4" cy="1391.3" r="7.2"/>
<circle cx="1517.6" cy="1389.1" r="7.2"/>
<circle cx="1524.0" cy="1382.8" r="7.2"/>
<circle cx="1527.2" cy="1374.3" r="7.2"/>
<circle cx="1531.4" cy="1367.9" r="7.2"/>
<circle cx="1533.5" cy="1359.4" r="7.2"/>
<circle cx="1536.7" cy="1353.1" r="7.2"/>
<circle cx="1539.9" cy="1346.7" r="7.2"/>
<circle cx="1547.3" cy="1338.2" r="7.2"/>
<circle cx="1550.5" cy="1331.8" r="7.2"/>
<circle cx="1555.8" cy="1325.5" r="7.2"/>
<circle cx="1560.0" cy="1319.1" r="7.2"/>
<circle cx="1564.3" cy="1310.6" r="7.2"/>
<circle cx="1567.5" cy="1302.1" r="7.2"/>
<circle cx="1572.8" cy="1293.7" r="7.2"/>
<circle cx="1576.0" cy="1285.2" r="7.2"/>
<circle cx="1579.2" cy="1278.8" r="7.2"/>
<circle cx="1581.3" cy="1272.4" r="7.2"/>
<circle cx="1585.5" cy="1263.9" r="7.2"/>
<circle cx="1589.8" cy="1255.5" r="7.2"/>
<circle cx="1594.0" cy="1249.1" r="7.2"/>
<circle cx="1598.3" cy="1240.6" r="7.2"/>
<circle cx="1602.5" cy="1233.2" r="7.2"/>
<circle cx="1284.0" cy="1486.0" r="7.2"/>
<circle cx="1293.0" cy="1488.0" r="7.2"/>
<circle cx="1302.0" cy="1490.0" r="7.2"/>
<circle cx="1311.0" cy="1491.0" r="7.2"/>
<circle cx="1326.0" cy="1480.0" r="7.2"/>
<circle cx="1333.0" cy="1478.0" r="7.2"/>
<circle cx="1345.0" cy="1483.0" r="7.2"/>
<circle cx="1358.0" cy="1486.0" r="7.2"/>
<circle cx="1371.0" cy="1484.0" r="7.2"/>
<circle cx="1384.0" cy="1479.0" r="7.2"/>
<circle cx="1396.0" cy="1475.0" r="7.2"/>
<circle cx="1409.0" cy="1473.0" r="7.2"/>
<circle cx="1421.0" cy="1469.0" r="7.2"/>
<circle cx="1434.0" cy="1464.0" r="7.2"/>
<circle cx="1444.0" cy="1460.0" r="7.2"/>
<circle cx="1457.0" cy="1449.0" r="7.2"/>
<circle cx="1469.0" cy="1436.0" r="7.2"/>
<circle cx="1485.0" cy="1425.0" r="7.2"/>
<circle cx="1496.0" cy="1416.0" r="7.2"/>
<circle cx="1502.0" cy="1410.0" r="7.2"/>
<circle cx="1511.0" cy="1398.0" r="7.2"/>
<circle cx="1520.0" cy="1388.0" r="7.2"/>
<circle cx="1544.0" cy="1342.0" r="7.2"/>
<circle cx="1553.0" cy="1330.0" r="7.2"/>
<circle cx="1570.0" cy="1300.0" r="7.2"/>
<circle cx="1619.5" cy="1156.4" r="7.2"/>
<circle cx="1628.0" cy="1158.5" r="7.2"/>
<circle cx="1640.7" cy="1150.1" r="7.2"/>
<circle cx="1621.6" cy="1181.9" r="7.2"/>
<circle cx="1617.4" cy="1191.4" r="7.2"/>
<circle cx="1611.0" cy="1209.5" r="7.2"/>
<circle cx="1604.6" cy="1220.1" r="7.2"/>
<circle cx="1598.3" cy="1237.1" r="7.2"/>
<circle cx="1591.9" cy="1247.7" r="7.2"/>
<circle cx="1649.2" cy="1132.0" r="7.2"/>
<circle cx="1651.3" cy="1118.2" r="7.2"/>
<circle cx="1659.8" cy="1099.1" r="7.2"/>
<circle cx="1664.1" cy="1088.5" r="7.2"/>
<circle cx="1670.4" cy="1082.2" r="7.2"/>
<circle cx="1668.3" cy="1075.8" r="7.2"/>
<circle cx="1674.7" cy="1065.2" r="7.2"/>
<circle cx="1676.8" cy="1054.6" r="7.2"/>
<circle cx="1685.3" cy="1052.5" r="7.2"/>
<circle cx="1691.6" cy="1039.7" r="7.2"/>
<circle cx="1700.1" cy="1033.4" r="7.2"/>
<circle cx="1695.9" cy="1027.0" r="7.2"/>
<circle cx="1704.4" cy="1020.6" r="7.2"/>
<circle cx="1715.0" cy="1014.3" r="7.2"/>
<circle cx="1712.9" cy="1007.9" r="7.2"/>
<circle cx="1721.3" cy="1003.7" r="7.2"/>
<circle cx="1725.6" cy="995.2" r="7.2"/>
<circle cx="1734.1" cy="993.0" r="7.2"/>
<circle cx="1736.2" cy="981.4" r="7.2"/>
<circle cx="1740.0" cy="971.8" r="7.2"/>
<circle cx="1608.0" cy="1205.0" r="7.2"/>
<circle cx="1625.0" cy="1170.0" r="7.2"/>
<circle cx="1635.0" cy="1150.0" r="7.2"/>
<circle cx="1645.0" cy="1135.0" r="7.2"/>
<circle cx="1656.0" cy="1108.0" r="7.2"/>
<circle cx="1681.0" cy="1048.0" r="7.2"/>
<circle cx="1707.0" cy="1016.0" r="7.2"/>
<circle cx="1729.0" cy="990.0" r="7.2"/>
<circle cx="1750.4" cy="954.7" r="7.2"/>
<circle cx="1745.5" cy="971.4" r="7.2"/>
<circle cx="1754.3" cy="970.4" r="7.2"/>
<circle cx="1760.2" cy="974.3" r="7.2"/>
<circle cx="1768.0" cy="971.4" r="7.2"/>
<circle cx="1774.9" cy="976.3" r="7.2"/>
<circle cx="1778.8" cy="982.1" r="7.2"/>
<circle cx="1783.7" cy="964.5" r="7.2"/>
<circle cx="1789.6" cy="961.6" r="7.2"/>
<circle cx="1795.5" cy="978.2" r="7.2"/>
<circle cx="1801.4" cy="956.7" r="7.2"/>
<circle cx="1798.4" cy="967.4" r="7.2"/>
<circle cx="1807.2" cy="963.5" r="7.2"/>
<circle cx="1812.1" cy="967.4" r="7.2"/>
<circle cx="1818.0" cy="966.5" r="7.2"/>
<circle cx="1821.9" cy="969.4" r="7.2"/>
<circle cx="1814.1" cy="987.0" r="7.2"/>
<circle cx="1825.9" cy="991.0" r="7.2"/>
<circle cx="1737.6" cy="981.2" r="7.2"/>
<circle cx="1735.7" cy="993.9" r="7.2"/>
<circle cx="1729.8" cy="989.0" r="7.2"/>
<circle cx="1724.9" cy="1001.8" r="7.2"/>
<circle cx="1720.0" cy="1016.5" r="7.2"/>
</g>
<path d="M1280.0,1490.1 L1282.0,1489.7 L1284.0,1489.4 L1286.0,1489.0 L1288.0,1488.7 L1290.0,1488.4 L1292.0,1488.1 L1294.0,1487.8 L1296.0,1487.5 L1298.0,1487.3 L1300.0,1487.0 L1302.0,1486.7 L1304.0,1486.5 L1306.0,1486.3 L1308.0,1486.0 L1310.0,1485.8 L1312.0,1485.6 L1314.0,1485.4 L1316.0,1485.2 L1318.0,1485.0 L1320.0,1484.8 L1322.0,1484.6 L1324.0,1484.5 L1326.0,1484.3 L1328.0,1484.1 L1330.0,1483.9 L1332.0,1483.8 L1334.0,1483.6 L1336.0,1483.4 L1338.0,1483.2 L1340.0,1483.1 L1342.0,1482.9 L1344.0,1482.7 L1346.0,1482.5 L1348.0,1482.3 L1350.0,1482.1 L1352.0,1481.9 L1354.0,1481.7 L1356.0,1481.5 L1358.0,1481.3 L1360.0,1481.1 L1362.0,1480.9 L1364.0,1480.6 L1366.0,1480.4 L1368.0,1480.1 L1370.0,1479.9 L1372.0,1479.6 L1374.0,1479.3 L1376.0,1479.0 L1378.0,1478.7 L1380.0,1478.4 L1382.0,1478.1 L1384.0,1477.7 L1386.0,1477.4 L1388.0,1477.0 L1390.0,1476.6 L1392.0,1476.2 L1394.0,1475.8 L1396.0,1475.3 L1398.0,1474.9 L1400.0,1474.4 L1402.0,1473.9 L1404.0,1473.4 L1406.0,1472.9 L1408.0,1472.3 L1410.0,1471.7 L1412.0,1471.1 L1414.0,1470.5 L1416.0,1469.9 L1418.0,1469.2 L1420.0,1468.5 L1422.0,1467.8 L1424.0,1467.1 L1426.0,1466.3 L1428.0,1465.5 L1430.0,1464.7 L1432.0,1463.9 L1434.0,1463.0 L1436.0,1462.1 L1438.0,1461.2 L1440.0,1460.2 L1442.0,1459.3 L1444.0,1458.2 L1446.0,1457.2 L1448.0,1456.1 L1450.0,1455.0 L1452.0,1453.9 L1454.0,1452.7 L1456.0,1451.5 L1458.0,1450.2 L1460.0,1449.0 L1462.0,1447.6 L1464.0,1446.3 L1466.0,1444.9 L1468.0,1443.5 L1470.0,1442.0 L1472.0,1440.4 L1474.0,1438.9 L1476.0,1437.3 L1478.0,1435.6 L1480.0,1433.9 L1482.0,1432.2 L1484.0,1430.4 L1486.0,1428.5 L1488.0,1426.6 L1490.0,1424.7 L1492.0,1422.7 L1494.0,1420.6 L1496.0,1418.5 L1498.0,1416.3 L1500.0,1414.1 L1502.0,1411.8 L1504.0,1409.5 L1506.0,1407.1 L1508.0,1404.6 L1510.0,1402.1 L1512.0,1399.5 L1514.0,1396.8 L1516.0,1394.1 L1518.0,1391.3 L1520.0,1388.5 L1522.0,1385.6 L1524.0,1382.6 L1526.0,1379.5 L1528.0,1376.4 L1530.0,1373.2 L1532.0,1370.0 L1534.0,1366.7 L1536.0,1363.3 L1538.0,1359.9 L1540.0,1356.4 L1542.0,1352.8 L1544.0,1349.2 L1546.0,1345.6 L1548.0,1341.8 L1550.0,1338.1 L1552.0,1334.3 L1554.0,1330.4 L1556.0,1326.5 L1558.0,1322.6 L1560.0,1318.6 L1562.0,1314.5 L1564.0,1310.5 L1566.0,1306.4 L1568.0,1302.2 L1570.0,1298.0 L1572.0,1293.8 L1574.0,1289.6 L1576.0,1285.3 L1578.0,1281.0 L1580.0,1276.7 L1582.0,1272.3 L1584.0,1268.0 L1586.0,1263.6 L1588.0,1259.2 L1590.0,1254.7 L1592.0,1250.3 L1594.0,1245.8 L1596.0,1241.3 L1598.0,1236.8 L1600.0,1232.3 L1602.0,1227.8 L1604.0,1223.3 L1606.0,1218.8 L1608.0,1214.3 L1610.0,1209.7 L1612.0,1205.2 L1614.0,1200.7 L1616.0,1196.2 L1618.0,1191.6 L1620.0,1187.1 L1622.0,1182.6 L1624.0,1178.1 L1626.0,1173.6 L1628.0,1169.1 L1630.0,1164.7 L1632.0,1160.2 L1634.0,1155.8 L1636.0,1151.4 L1638.0,1147.0 L1640.0,1142.6 L1642.0,1138.3 L1644.0,1134.0 L1646.0,1129.7 L1648.0,1125.4 L1650.0,1121.1 L1652.0,1116.9 L1654.0,1112.8 L1656.0,1108.6 L1658.0,1104.5 L1660.0,1100.4 L1662.0,1096.4 L1664.0,1092.4 L1666.0,1088.5 L1668.0,1084.6 L1670.0,1080.7 L1672.0,1076.9 L1674.0,1073.1 L1676.0,1069.4 L1678.0,1065.8 L1680.0,1062.2 L1682.0,1058.6 L1684.0,1055.1 L1686.0,1051.7 L1688.0,1048.3 L1690.0,1045.0 L1692.0,1041.7 L1694.0,1038.5 L1696.0,1035.4 L1698.0,1032.3 L1700.0,1029.3 L1702.0,1026.4 L1704.0,1023.6 L1706.0,1020.8 L1708.0,1018.1 L1710.0,1015.5 L1712.0,1012.9 L1714.0,1010.4 L1716.0,1008.1 L1718.0,1005.8 L1720.0,1003.5 L1722.0,1001.4 L1724.0,999.3 L1726.0,997.3 L1728.0,995.4 L1730.0,993.6 L1732.0,991.8 L1734.0,990.1 L1736.0,988.5 L1738.0,986.9 L1740.0,985.4 L1742.0,984.0 L1744.0,982.7 L1746.0,981.4 L1748.0,980.2 L1750.0,979.0 L1752.0,977.9 L1754.0,976.9 L1756.0,975.9 L1758.0,974.9 L1760.0,974.1 L1762.0,973.3 L1764.0,972.5 L1766.0,971.8 L1768.0,971.1 L1770.0,970.5 L1772.0,970.0 L1774.0,969.4 L1776.0,969.0 L1778.0,968.6 L1780.0,968.2 L1782.0,967.9 L1784.0,967.6 L1786.0,967.3 L1788.0,967.1 L1790.0,966.9 L1792.0,966.8 L1794.0,966.7 L1796.0,966.6 L1798.0,966.6 L1800.0,966.6 L1802.0,966.6 L1804.0,966.7 L1806.0,966.8 L1808.0,966.9 L1810.0,967.1 L1812.0,967.2 L1814.0,967.4 L1816.0,967.6 L1818.0,967.9 L1820.0,968.1 L1821.9,968.4" stroke="#DDBC42" stroke-width="1.9" fill="none"/>
<g stroke="#8F2C9C" stroke-width="2.05" fill="none">
<circle cx="1876.8" cy="954.7" r="7.2"/>
<circle cx="1868.0" cy="983.1" r="7.2"/>
<circle cx="1884.7" cy="986.1" r="7.2"/>
<circle cx="1893.5" cy="979.2" r="7.2"/>
<circle cx="1902.3" cy="1006.7" r="7.2"/>
<circle cx="1910.2" cy="1015.5" r="7.2"/>
<circle cx="1918.0" cy="1039.0" r="7.2"/>
<circle cx="1925.8" cy="1042.9" r="7.2"/>
<circle cx="1932.7" cy="1045.9" r="7.2"/>
<circle cx="1940.5" cy="1071.3" r="7.2"/>
<circle cx="1955.3" cy="1099.8" r="7.2"/>
<circle cx="1947.4" cy="1121.3" r="7.2"/>
<circle cx="1962.1" cy="1152.7" r="7.2"/>
<circle cx="1969.0" cy="1158.6" r="7.2"/>
<circle cx="1983.7" cy="1196.8" r="7.2"/>
<circle cx="1975.8" cy="1207.6" r="7.2"/>
<circle cx="1990.5" cy="1245.8" r="7.2"/>
<circle cx="1989.5" cy="1246.7" r="7.2"/>
<circle cx="1996.4" cy="1266.3" r="7.2"/>
<circle cx="2003.3" cy="1286.9" r="7.2"/>
<circle cx="2010.1" cy="1290.8" r="7.2"/>
<circle cx="2017.0" cy="1286.9" r="7.2"/>
<circle cx="2030.7" cy="1326.1" r="7.2"/>
<circle cx="2023.9" cy="1341.7" r="7.2"/>
<circle cx="2037.6" cy="1389.8" r="7.2"/>
<circle cx="2043.5" cy="1409.4" r="7.2"/>
<circle cx="2056.2" cy="1407.4" r="7.2"/>
<circle cx="2050.3" cy="1422.1" r="7.2"/>
<circle cx="2064.0" cy="1434.9" r="7.2"/>
<circle cx="2069.9" cy="1446.6" r="7.2"/>
<circle cx="2075.8" cy="1473.1" r="7.2"/>
<circle cx="2082.7" cy="1477.0" r="7.2"/>
<circle cx="2088.6" cy="1457.4" r="7.2"/>
<circle cx="2094.4" cy="1457.4" r="7.2"/>
<circle cx="2102.3" cy="1459.4" r="7.2"/>
<circle cx="2109.1" cy="1479.0" r="7.2"/>
<circle cx="2114.0" cy="1483.9" r="7.2"/>
<circle cx="2120.9" cy="1487.8" r="7.2"/>
<circle cx="2128.7" cy="1479.9" r="7.2"/>
</g>
<path d="M1869.0,951.0 L1871.0,953.4 L1873.0,956.0 L1875.0,958.7 L1877.0,961.4 L1879.0,964.2 L1881.0,967.2 L1883.0,970.2 L1885.0,973.2 L1887.0,976.4 L1889.0,979.6 L1891.0,982.9 L1893.0,986.3 L1895.0,989.8 L1897.0,993.3 L1899.0,996.9 L1901.0,1000.6 L1903.0,1004.3 L1905.0,1008.1 L1907.0,1011.9 L1909.0,1015.9 L1911.0,1019.9 L1913.0,1023.9 L1915.0,1028.0 L1917.0,1032.2 L1919.0,1036.4 L1921.0,1040.6 L1923.0,1044.9 L1925.0,1049.3 L1927.0,1053.7 L1929.0,1058.2 L1931.0,1062.7 L1933.0,1067.3 L1935.0,1071.8 L1937.0,1076.5 L1939.0,1081.2 L1941.0,1085.9 L1943.0,1090.6 L1945.0,1095.4 L1947.0,1100.2 L1949.0,1105.1 L1951.0,1110.0 L1953.0,1115.0 L1955.0,1120.0 L1957.0,1125.1 L1959.0,1130.2 L1961.0,1135.5 L1963.0,1140.8 L1965.0,1146.2 L1967.0,1151.7 L1969.0,1157.3 L1971.0,1163.1 L1973.0,1169.0 L1975.0,1174.9 L1977.0,1181.1 L1979.0,1187.3 L1981.0,1193.8 L1983.0,1200.3 L1985.0,1207.1 L1987.0,1214.0 L1989.0,1221.0 L1991.0,1228.1 L1993.0,1235.1 L1995.0,1242.2 L1997.0,1249.2 L1999.0,1256.0 L2001.0,1262.8 L2003.0,1269.5 L2005.0,1276.1 L2007.0,1282.6 L2009.0,1289.1 L2011.0,1295.6 L2013.0,1302.1 L2015.0,1308.5 L2017.0,1314.9 L2019.0,1321.4 L2021.0,1327.7 L2023.0,1334.1 L2025.0,1340.4 L2027.0,1346.6 L2029.0,1352.8 L2031.0,1358.9 L2033.0,1364.9 L2035.0,1370.8 L2037.0,1376.5 L2039.0,1382.2 L2041.0,1387.7 L2043.0,1393.0 L2045.0,1398.3 L2047.0,1403.3 L2049.0,1408.2 L2051.0,1412.9 L2053.0,1417.4 L2055.0,1421.6 L2057.0,1425.7 L2059.0,1429.6 L2061.0,1433.3 L2063.0,1436.9 L2065.0,1440.2 L2067.0,1443.4 L2069.0,1446.4 L2071.0,1449.2 L2073.0,1451.9 L2075.0,1454.4 L2077.0,1456.8 L2079.0,1459.1 L2081.0,1461.2 L2083.0,1463.2 L2085.0,1465.0 L2087.0,1466.8 L2089.0,1468.4 L2091.0,1469.9 L2093.0,1471.3 L2095.0,1472.6 L2097.0,1473.8 L2099.0,1475.0 L2101.0,1476.0 L2103.0,1477.0 L2105.0,1477.9 L2107.0,1478.7 L2109.0,1479.5 L2111.0,1480.3 L2113.0,1480.9 L2115.0,1481.6 L2117.0,1482.2 L2119.0,1482.7 L2121.0,1483.2 L2123.0,1483.8 L2125.0,1484.2 L2127.0,1484.7 L2127.8,1484.9" stroke="#8F2C9C" stroke-width="1.9" fill="none"/>
<g stroke="#7A59BE" stroke-width="2.05" fill="none">
<circle cx="2069.9" cy="954.7" r="7.2"/>
<circle cx="2082.7" cy="965.5" r="7.2"/>
<circle cx="2050.3" cy="979.2" r="7.2"/>
<circle cx="2088.6" cy="1002.7" r="7.2"/>
<circle cx="2076.8" cy="1000.8" r="7.2"/>
<circle cx="2063.1" cy="1010.6" r="7.2"/>
<circle cx="2057.2" cy="1001.8" r="7.2"/>
<circle cx="2036.6" cy="1006.7" r="7.2"/>
<circle cx="2043.5" cy="1016.5" r="7.2"/>
<circle cx="2030.7" cy="1018.4" r="7.2"/>
<circle cx="2017.0" cy="1031.2" r="7.2"/>
<circle cx="2023.9" cy="1041.0" r="7.2"/>
<circle cx="2010.1" cy="1083.1" r="7.2"/>
<circle cx="2003.3" cy="1096.8" r="7.2"/>
<circle cx="1983.7" cy="1090.0" r="7.2"/>
<circle cx="1996.4" cy="1109.6" r="7.2"/>
<circle cx="1988.6" cy="1105.7" r="7.2"/>
<circle cx="1975.8" cy="1114.5" r="7.2"/>
<circle cx="1963.1" cy="1122.3" r="7.2"/>
<circle cx="1969.0" cy="1128.2" r="7.2"/>
<circle cx="1955.3" cy="1140.0" r="7.2"/>
<circle cx="1939.6" cy="1153.7" r="7.2"/>
<circle cx="1932.7" cy="1163.5" r="7.2"/>
<circle cx="1948.4" cy="1164.5" r="7.2"/>
<circle cx="1925.8" cy="1205.6" r="7.2"/>
<circle cx="1917.0" cy="1215.4" r="7.2"/>
<circle cx="1902.3" cy="1219.3" r="7.2"/>
<circle cx="1909.2" cy="1230.1" r="7.2"/>
<circle cx="1885.6" cy="1239.9" r="7.2"/>
<circle cx="1875.9" cy="1246.8" r="7.2"/>
<circle cx="1892.5" cy="1247.8" r="7.2"/>
<circle cx="1758.2" cy="1478.0" r="7.2"/>
<circle cx="1775.9" cy="1482.9" r="7.2"/>
<circle cx="1790.6" cy="1465.2" r="7.2"/>
<circle cx="1805.3" cy="1480.9" r="7.2"/>
<circle cx="1827.8" cy="1490.7" r="7.2"/>
<circle cx="1816.1" cy="1452.5" r="7.2"/>
<circle cx="1838.6" cy="1427.0" r="7.2"/>
<circle cx="1848.4" cy="1377.0" r="7.2"/>
<circle cx="1858.2" cy="1301.6" r="7.2"/>
<circle cx="1868.0" cy="1268.2" r="7.2"/>
<circle cx="1876.8" cy="1249.6" r="7.2"/>
<circle cx="1885.6" cy="1240.8" r="7.2"/>
<circle cx="1893.5" cy="1253.5" r="7.2"/>
<circle cx="1909.2" cy="1232.0" r="7.2"/>
</g>
<path d="M1758.2,1526.0 L1760.2,1523.4 L1762.2,1520.8 L1764.2,1518.1 L1766.2,1515.4 L1768.2,1512.6 L1770.2,1509.7 L1772.2,1506.8 L1774.2,1503.9 L1776.2,1500.9 L1778.2,1497.9 L1780.2,1494.8 L1782.2,1491.7 L1784.2,1488.6 L1786.2,1485.4 L1788.2,1482.1 L1790.2,1478.9 L1792.2,1475.5 L1794.2,1472.2 L1796.2,1468.8 L1798.2,1465.4 L1800.2,1461.9 L1802.2,1458.4 L1804.2,1454.8 L1806.2,1451.3 L1808.2,1447.6 L1810.2,1444.0 L1812.2,1440.3 L1814.2,1436.6 L1816.2,1432.9 L1818.2,1429.1 L1820.2,1425.3 L1822.2,1421.5 L1824.2,1417.6 L1826.2,1413.7 L1828.2,1409.8 L1830.2,1405.9 L1832.2,1401.9 L1834.2,1397.9 L1836.2,1393.9 L1838.2,1389.9 L1840.2,1385.8 L1842.2,1381.7 L1844.2,1377.6 L1846.2,1373.5 L1848.2,1369.4 L1850.2,1365.2 L1852.2,1361.0 L1854.2,1356.8 L1856.2,1352.6 L1858.2,1348.4 L1860.2,1344.1 L1862.2,1339.9 L1864.2,1335.6 L1866.2,1331.3 L1868.2,1327.0 L1870.2,1322.7 L1872.2,1318.4 L1874.2,1314.0 L1876.2,1309.7 L1878.2,1305.3 L1880.2,1300.9 L1882.2,1296.5 L1884.2,1292.1 L1886.2,1287.6 L1888.2,1283.0 L1890.2,1278.3 L1892.2,1273.5 L1894.2,1268.6 L1896.2,1263.6 L1898.2,1258.5 L1900.2,1253.1 L1902.2,1247.7 L1904.2,1242.0 L1906.2,1236.1 L1908.2,1230.1 L1910.2,1224.0 L1912.2,1217.9 L1914.2,1212.1 L1916.2,1206.6 L1918.2,1201.6 L1920.2,1197.0 L1922.2,1192.8 L1924.2,1189.0 L1926.2,1185.4 L1928.2,1182.0 L1930.2,1178.8 L1932.2,1175.8 L1934.2,1172.8 L1936.2,1169.9 L1938.2,1167.0 L1940.2,1164.0 L1942.2,1161.1 L1944.2,1158.2 L1946.2,1155.3 L1948.2,1152.4 L1950.2,1149.5 L1952.2,1146.5 L1954.2,1143.6 L1956.2,1140.7 L1958.2,1137.8 L1960.2,1134.9 L1962.2,1132.0 L1964.2,1129.1 L1966.2,1126.2 L1968.2,1123.3 L1970.2,1120.4 L1972.2,1117.5 L1974.2,1114.6 L1976.2,1111.7 L1978.2,1108.8 L1980.2,1105.9 L1982.2,1103.1 L1984.2,1100.2 L1986.2,1097.3 L1988.2,1094.5 L1990.2,1091.6 L1992.2,1088.7 L1994.2,1085.9 L1996.2,1083.0 L1998.2,1080.2 L2000.2,1077.3 L2002.2,1074.5 L2004.2,1071.7 L2006.2,1068.8 L2008.2,1066.0 L2010.2,1063.2 L2012.2,1060.4 L2014.2,1057.6 L2016.2,1054.8 L2018.2,1052.0 L2020.2,1049.2 L2022.2,1046.4 L2024.2,1043.6 L2026.2,1040.8 L2028.2,1038.1 L2030.2,1035.3 L2032.2,1032.6 L2034.2,1029.9 L2036.2,1027.2 L2038.2,1024.5 L2040.2,1021.9 L2042.2,1019.3 L2044.2,1016.7 L2046.2,1014.1 L2048.2,1011.6 L2050.2,1009.2 L2052.2,1006.8 L2054.2,1004.4 L2056.2,1002.1 L2058.2,999.8 L2060.2,997.6 L2062.2,995.5 L2064.2,993.4 L2066.2,991.4 L2068.2,989.4 L2070.2,987.5 L2072.2,985.7 L2074.2,984.0 L2076.2,982.4 L2078.2,980.8 L2080.2,979.3 L2082.2,978.0 L2084.2,976.7 L2086.2,975.5 L2088.2,974.4 L2090.2,973.4 L2090.5,973.2" stroke="#7A59BE" stroke-width="1.9" fill="none"/>
</g>
<rect x="1280.6" y="848.4" width="861.0" height="692.1999999999999" fill="none" stroke="#000" stroke-width="2.2"/>
<line x1="1280.6" y1="1487.7" x2="1294.1" y2="1487.7" stroke="#000" stroke-width="2"/>
<text x="1264.2" y="1501.3" font-size="36" text-anchor="end" fill="#000" >0.0</text>
<line x1="1280.6" y1="1354.4" x2="1287.6" y2="1354.4" stroke="#000" stroke-width="2"/>
<line x1="1280.6" y1="1221.1" x2="1294.1" y2="1221.1" stroke="#000" stroke-width="2"/>
<text x="1264.2" y="1234.7" font-size="36" text-anchor="end" fill="#000" >0.5</text>
<line x1="1280.6" y1="1087.8" x2="1287.6" y2="1087.8" stroke="#000" stroke-width="2"/>
<line x1="1280.6" y1="954.5" x2="1294.1" y2="954.5" stroke="#000" stroke-width="2"/>
<text x="1264.2" y="968.1" font-size="36" text-anchor="end" fill="#000" >1.0</text>
<line x1="1332.3" y1="1540.6" x2="1332.3" y2="1533.6" stroke="#000" stroke-width="2"/>
<line x1="1362.7" y1="1540.6" x2="1362.7" y2="1533.6" stroke="#000" stroke-width="2"/>
<line x1="1384.2" y1="1540.6" x2="1384.2" y2="1533.6" stroke="#000" stroke-width="2"/>
<line x1="1400.9" y1="1540.6" x2="1400.9" y2="1533.6" stroke="#000" stroke-width="2"/>
<line x1="1414.5" y1="1540.6" x2="1414.5" y2="1533.6" stroke="#000" stroke-width="2"/>
<line x1="1426.0" y1="1540.6" x2="1426.0" y2="1533.6" stroke="#000" stroke-width="2"/>
<line x1="1436.0" y1="1540.6" x2="1436.0" y2="1533.6" stroke="#000" stroke-width="2"/>
<line x1="1444.8" y1="1540.6" x2="1444.8" y2="1533.6" stroke="#000" stroke-width="2"/>
<text x="1280.5" y="1588.6" font-size="36" text-anchor="middle">10<tspan dy="-12.2" font-size="21">0</tspan></text>
<line x1="1452.7" y1="1540.6" x2="1452.7" y2="1527.1" stroke="#000" stroke-width="2"/>
<line x1="1504.5" y1="1540.6" x2="1504.5" y2="1533.6" stroke="#000" stroke-width="2"/>
<line x1="1534.9" y1="1540.6" x2="1534.9" y2="1533.6" stroke="#000" stroke-width="2"/>
<line x1="1556.4" y1="1540.6" x2="1556.4" y2="1533.6" stroke="#000" stroke-width="2"/>
<line x1="1573.1" y1="1540.6" x2="1573.1" y2="1533.6" stroke="#000" stroke-width="2"/>
<line x1="1586.7" y1="1540.6" x2="1586.7" y2="1533.6" stroke="#000" stroke-width="2"/>
<line x1="1598.2" y1="1540.6" x2="1598.2" y2="1533.6" stroke="#000" stroke-width="2"/>
<line x1="1608.2" y1="1540.6" x2="1608.2" y2="1533.6" stroke="#000" stroke-width="2"/>
<line x1="1617.0" y1="1540.6" x2="1617.0" y2="1533.6" stroke="#000" stroke-width="2"/>
<text x="1452.7" y="1588.6" font-size="36" text-anchor="middle">10<tspan dy="-12.2" font-size="21">1</tspan></text>
<line x1="1624.9" y1="1540.6" x2="1624.9" y2="1527.1" stroke="#000" stroke-width="2"/>
<line x1="1676.7" y1="1540.6" x2="1676.7" y2="1533.6" stroke="#000" stroke-width="2"/>
<line x1="1707.1" y1="1540.6" x2="1707.1" y2="1533.6" stroke="#000" stroke-width="2"/>
<line x1="1728.6" y1="1540.6" x2="1728.6" y2="1533.6" stroke="#000" stroke-width="2"/>
<line x1="1745.3" y1="1540.6" x2="1745.3" y2="1533.6" stroke="#000" stroke-width="2"/>
<line x1="1758.9" y1="1540.6" x2="1758.9" y2="1533.6" stroke="#000" stroke-width="2"/>
<line x1="1770.4" y1="1540.6" x2="1770.4" y2="1533.6" stroke="#000" stroke-width="2"/>
<line x1="1780.4" y1="1540.6" x2="1780.4" y2="1533.6" stroke="#000" stroke-width="2"/>
<line x1="1789.2" y1="1540.6" x2="1789.2" y2="1533.6" stroke="#000" stroke-width="2"/>
<text x="1624.9" y="1588.6" font-size="36" text-anchor="middle">10<tspan dy="-12.2" font-size="21">2</tspan></text>
<line x1="1797.1" y1="1540.6" x2="1797.1" y2="1527.1" stroke="#000" stroke-width="2"/>
<line x1="1848.9" y1="1540.6" x2="1848.9" y2="1533.6" stroke="#000" stroke-width="2"/>
<line x1="1879.3" y1="1540.6" x2="1879.3" y2="1533.6" stroke="#000" stroke-width="2"/>
<line x1="1900.8" y1="1540.6" x2="1900.8" y2="1533.6" stroke="#000" stroke-width="2"/>
<line x1="1917.5" y1="1540.6" x2="1917.5" y2="1533.6" stroke="#000" stroke-width="2"/>
<line x1="1931.1" y1="1540.6" x2="1931.1" y2="1533.6" stroke="#000" stroke-width="2"/>
<line x1="1942.6" y1="1540.6" x2="1942.6" y2="1533.6" stroke="#000" stroke-width="2"/>
<line x1="1952.6" y1="1540.6" x2="1952.6" y2="1533.6" stroke="#000" stroke-width="2"/>
<line x1="1961.4" y1="1540.6" x2="1961.4" y2="1533.6" stroke="#000" stroke-width="2"/>
<text x="1797.1" y="1588.6" font-size="36" text-anchor="middle">10<tspan dy="-12.2" font-size="21">3</tspan></text>
<line x1="1969.3" y1="1540.6" x2="1969.3" y2="1527.1" stroke="#000" stroke-width="2"/>
<line x1="2021.1" y1="1540.6" x2="2021.1" y2="1533.6" stroke="#000" stroke-width="2"/>
<line x1="2051.5" y1="1540.6" x2="2051.5" y2="1533.6" stroke="#000" stroke-width="2"/>
<line x1="2073.0" y1="1540.6" x2="2073.0" y2="1533.6" stroke="#000" stroke-width="2"/>
<line x1="2089.7" y1="1540.6" x2="2089.7" y2="1533.6" stroke="#000" stroke-width="2"/>
<line x1="2103.3" y1="1540.6" x2="2103.3" y2="1533.6" stroke="#000" stroke-width="2"/>
<line x1="2114.8" y1="1540.6" x2="2114.8" y2="1533.6" stroke="#000" stroke-width="2"/>
<line x1="2124.8" y1="1540.6" x2="2124.8" y2="1533.6" stroke="#000" stroke-width="2"/>
<line x1="2133.6" y1="1540.6" x2="2133.6" y2="1533.6" stroke="#000" stroke-width="2"/>
<text x="1969.3" y="1588.6" font-size="36" text-anchor="middle">10<tspan dy="-12.2" font-size="21">4</tspan></text>
<text x="2141.5" y="1588.6" font-size="36" text-anchor="middle">10<tspan dy="-12.2" font-size="21">5</tspan></text>
<text x="1712.3" y="1637.8" font-size="41" text-anchor="middle" fill="#000" >Time (ps)</text>
<text transform="translate(1185.8,1319.0) rotate(-90)" font-size="41"><tspan style="font-family:&quot;Liberation Serif&quot;,serif">Δ</tspan><tspan dx="-2.5">A/A (Norm.)</tspan></text>
<text x="1110" y="891" font-size="49" font-weight="bold" fill="#231815">d</text>
<circle cx="1304.1" cy="879.6" r="7.2" stroke="#D65B50" stroke-width="2.0" fill="none"/>
<circle cx="1304.1" cy="931.7" r="7.2" stroke="#DDBC42" stroke-width="2.0" fill="none"/>
<circle cx="1845.8" cy="879.6" r="7.2" stroke="#8F2C9C" stroke-width="2.0" fill="none"/>
<circle cx="1845.8" cy="931.7" r="7.2" stroke="#7A59BE" stroke-width="2.0" fill="none"/>
<text x="1351.7" y="892.0" font-size="37" fill="#231815">S</text>
<text transform="translate(1377.9,904.0) scale(1,1.5)" font-size="20" fill="#231815">1</text>
<text x="1388.9" y="892.0" font-size="37" fill="#231815">-NaGdF</text>
<text x="1520.4" y="896.6" font-size="20" fill="#231815">4</text>
<text x="1531.6" y="892.0" font-size="37" fill="#231815">@tBCzPPOA</text>
<text x="1351.7" y="942.7" font-size="37" fill="#231815">T</text>
<text transform="translate(1375.8,954.7) scale(1,1.5)" font-size="20" fill="#231815">1</text>
<text x="1386.8" y="942.7" font-size="37" fill="#231815">-NaGdF</text>
<text x="1518.4" y="947.3" font-size="20" fill="#231815">4</text>
<text x="1529.5" y="942.7" font-size="37" fill="#231815">@tBCzPPOA</text>
<text x="1893.3" y="892.0" font-size="37" fill="#231815">S</text>
<text transform="translate(1919.5,904.0) scale(1,1.5)" font-size="20" fill="#231815">1</text>
<text x="1930.5" y="892.0" font-size="37" fill="#231815">-tBCzPPOA</text>
<text x="1893.3" y="942.7" font-size="37" fill="#231815">T</text>
<text transform="translate(1917.4,954.7) scale(1,1.5)" font-size="20" fill="#231815">1</text>
<text x="1928.4" y="942.7" font-size="37" fill="#231815">-tBCzPPOA</text>
<text x="1640.3" y="1241.2" font-size="36" font-style="italic" style="font-family:&quot;Liberation Serif&quot;,serif">Φ</text>
<text x="1665.3" y="1250.8" font-size="25.5">ISC</text>
<text x="1716.8" y="1245.0" font-size="36">=</text>
<text x="1747.8" y="1245.0" font-size="36.6">96.7%</text>
<text x="1419.5" y="1510.7" font-size="34" style="font-family:&quot;Liberation Serif&quot;,serif">τ</text>
<text x="1435.5" y="1519.9" font-size="24">T</text>
<text x="1451.0" y="1528.3" font-size="13">1</text>
<text x="1470.5" y="1515.5" font-size="36">=</text>
<text x="1502.0" y="1514.5" font-size="37">966.9 ps</text>
<text x="1844.5" y="1510.7" font-size="34" style="font-family:&quot;Liberation Serif&quot;,serif">τ</text>
<text x="1860.5" y="1519.9" font-size="24">T</text>
<text x="1876.0" y="1528.3" font-size="13">1</text>
<text x="1895.5" y="1515.5" font-size="36">=</text>
<text x="1927.0" y="1514.5" font-size="37">29.0 ns</text>
</svg></body></html>
